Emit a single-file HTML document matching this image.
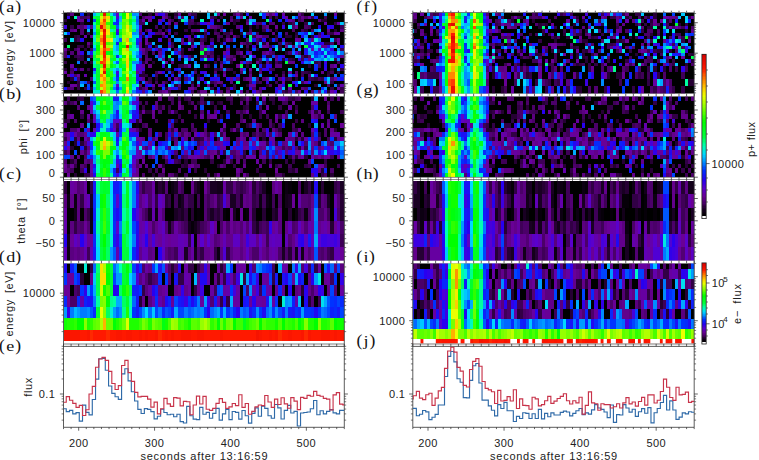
<!DOCTYPE html>
<html><head><meta charset="utf-8"><style>
html,body{margin:0;padding:0;background:#fff;}
svg{display:block;}
</style></head><body>
<svg width="759" height="460" viewBox="0 0 759 460">
<rect width="759" height="460" fill="#fff"/>
<clipPath id="ca"><rect x="63.50" y="12.50" width="280.80" height="81.20"/></clipPath>
<g clip-path="url(#ca)" shape-rendering="crispEdges">
<rect x="63.50" y="12.50" width="280.80" height="81.20" fill="#000"/>
<path fill="#260034" d="M64 19h3v3h-3zM64 68h3v3h-3zM67 12h3v4h-3zM67 48h3v3h-3zM67 81h3v3h-3zM70 77h4v4h-4zM74 35h3v7h-3zM77 68h3v3h-3zM80 22h4v3h-4zM84 48h3v3h-3zM87 12h3v4h-3zM87 55h3v3h-3zM90 42h3v3h-3zM90 61h3v3h-3zM90 87h3v3h-3zM139 74h3v3h-3zM142 35h3v3h-3zM142 61h3v3h-3zM142 74h3v3h-3zM145 45h3v3h-3zM148 12h4v4h-4zM152 61h3v3h-3zM155 77h3v4h-3zM165 68h3v3h-3zM165 87h3v3h-3zM168 16h3v3h-3zM168 25h3v4h-3zM174 12h4v4h-4zM174 84h4v3h-4zM178 19h3v3h-3zM181 51h3v4h-3zM188 25h3v4h-3zM191 32h3v3h-3zM191 55h3v3h-3zM191 81h3v3h-3zM194 16h3v3h-3zM194 22h3v3h-3zM194 68h3v3h-3zM197 74h3v3h-3zM204 38h3v4h-3zM207 55h3v3h-3zM214 16h3v3h-3zM217 55h3v3h-3zM217 68h3v3h-3zM220 16h3v3h-3zM220 42h3v3h-3zM220 84h3v3h-3zM223 38h3v4h-3zM230 61h3v3h-3zM233 19h3v6h-3zM233 71h3v3h-3zM236 48h4v3h-4zM240 32h3v3h-3zM240 55h3v3h-3zM246 48h3v3h-3zM246 64h3v4h-3zM246 84h3v3h-3zM249 25h3v4h-3zM256 25h3v4h-3zM256 48h3v3h-3zM256 58h3v3h-3zM262 42h4v3h-4zM262 64h4v4h-4zM266 55h3v3h-3zM266 84h3v3h-3zM269 38h3v4h-3zM269 55h3v3h-3zM269 61h3v3h-3zM275 29h3v3h-3zM275 35h3v3h-3zM278 45h4v6h-4zM278 61h4v3h-4zM282 58h3v3h-3zM285 35h3v3h-3zM285 51h3v4h-3zM285 90h3v4h-3zM288 22h4v3h-4zM288 35h4v3h-4zM292 58h3v3h-3zM295 32h3v3h-3zM295 77h3v4h-3zM304 29h4v3h-4zM304 55h4v3h-4zM308 64h3v4h-3zM308 71h3v3h-3zM311 35h3v3h-3zM314 77h4v4h-4zM314 84h4v3h-4zM321 19h3v3h-3zM324 19h3v3h-3zM324 42h3v3h-3zM327 42h3v3h-3zM327 71h3v3h-3zM327 90h3v4h-3zM330 68h4v3h-4zM334 29h3v3h-3zM337 71h3v3h-3zM337 84h3v3h-3zM344 29h3v3h-3z"/>
<path fill="#3c00e2" d="M64 25h3v4h-3zM74 68h3v3h-3zM139 25h3v4h-3zM155 48h3v3h-3zM162 12h3v4h-3zM162 64h3v4h-3zM168 77h3v4h-3zM171 87h3v3h-3zM188 58h3v3h-3zM194 35h3v3h-3zM200 77h4v4h-4zM204 22h3v3h-3zM207 45h3v3h-3zM210 19h4v3h-4zM214 77h3v4h-3zM226 51h4v4h-4zM240 25h3v4h-3zM252 45h4v3h-4zM262 87h4v3h-4zM275 90h3v4h-3zM282 16h3v3h-3zM282 25h3v4h-3zM282 55h3v3h-3zM282 77h3v4h-3zM292 81h3v3h-3zM298 58h3v3h-3zM324 61h3v3h-3zM324 68h3v3h-3z"/>
<path fill="#00c8ff" d="M64 32h3v3h-3zM113 71h3v3h-3zM119 55h3v3h-3zM132 84h4v3h-4zM194 64h3v4h-3zM197 35h3v3h-3zM200 29h4v3h-4zM207 16h3v3h-3zM210 90h4v4h-4zM236 90h4v4h-4zM256 68h3v3h-3zM282 48h3v3h-3zM304 38h4v4h-4zM308 22h3v3h-3zM311 12h3v4h-3zM327 77h3v4h-3zM340 22h4v3h-4z"/>
<path fill="#3f0058" d="M64 38h3v4h-3zM70 68h4v3h-4zM74 48h3v3h-3zM77 38h3v4h-3zM77 55h3v3h-3zM80 16h4v3h-4zM84 16h3v3h-3zM84 61h3v3h-3zM87 45h3v3h-3zM87 81h3v3h-3zM90 48h3v3h-3zM139 19h3v6h-3zM142 22h3v3h-3zM145 48h3v7h-3zM148 42h4v3h-4zM148 81h4v3h-4zM152 87h3v3h-3zM155 25h3v4h-3zM155 71h3v6h-3zM155 81h3v3h-3zM158 29h4v3h-4zM162 35h3v3h-3zM165 29h3v3h-3zM168 58h3v3h-3zM171 19h3v3h-3zM171 45h3v3h-3zM174 16h4v3h-4zM178 87h3v3h-3zM188 19h3v6h-3zM191 22h3v3h-3zM191 38h3v4h-3zM191 90h3v4h-3zM197 22h3v3h-3zM197 77h3v4h-3zM200 38h4v4h-4zM200 55h4v3h-4zM204 51h3v4h-3zM210 16h4v3h-4zM210 38h4v4h-4zM210 45h4v3h-4zM210 51h4v4h-4zM214 90h3v4h-3zM217 32h3v3h-3zM217 38h3v4h-3zM220 35h3v3h-3zM220 61h3v3h-3zM220 68h3v3h-3zM226 35h4v3h-4zM226 68h4v3h-4zM226 87h4v3h-4zM230 58h3v3h-3zM233 12h3v4h-3zM233 55h3v3h-3zM246 45h3v3h-3zM246 90h3v4h-3zM249 29h3v3h-3zM249 42h3v3h-3zM256 32h3v3h-3zM256 42h3v3h-3zM259 81h3v3h-3zM269 16h3v3h-3zM269 68h3v3h-3zM272 51h3v4h-3zM275 61h3v3h-3zM275 81h3v3h-3zM278 42h4v3h-4zM282 90h3v4h-3zM288 77h4v4h-4zM292 22h3v3h-3zM295 90h3v4h-3zM298 16h3v6h-3zM301 29h3v3h-3zM301 55h3v6h-3zM301 71h3v6h-3zM301 81h3v3h-3zM308 25h3v4h-3zM308 77h3v4h-3zM311 29h3v3h-3zM318 32h3v3h-3zM318 61h3v7h-3zM318 77h3v4h-3zM324 16h3v3h-3zM330 71h4v3h-4zM334 38h3v4h-3zM334 58h3v3h-3zM337 61h3v3h-3zM340 25h4v4h-4zM340 48h4v3h-4zM340 90h4v4h-4zM344 35h3v3h-3zM344 51h3v4h-3zM344 74h3v3h-3zM344 84h3v3h-3z"/>
<path fill="#690096" d="M64 48h3v3h-3zM74 29h3v3h-3zM74 84h3v3h-3zM139 29h3v3h-3zM139 42h3v3h-3zM145 38h3v7h-3zM162 32h3v3h-3zM168 22h3v3h-3zM168 45h3v3h-3zM178 12h3v4h-3zM188 35h3v7h-3zM191 45h3v3h-3zM191 87h3v3h-3zM197 29h3v3h-3zM197 84h3v3h-3zM223 12h3v4h-3zM223 51h3v4h-3zM226 38h4v4h-4zM226 55h4v3h-4zM233 58h3v3h-3zM236 12h4v4h-4zM236 64h4v4h-4zM240 68h3v3h-3zM249 77h3v4h-3zM266 12h3v4h-3zM266 42h3v3h-3zM272 12h3v4h-3zM275 25h3v4h-3zM285 16h3v3h-3zM285 45h3v3h-3zM288 71h4v3h-4zM295 25h3v4h-3zM295 74h3v3h-3zM298 38h3v4h-3zM298 90h3v4h-3zM308 58h3v3h-3zM334 32h3v3h-3zM334 77h3v4h-3zM337 38h3v7h-3zM344 64h3v4h-3zM344 90h3v4h-3z"/>
<path fill="#4b0069" d="M64 51h3v7h-3zM67 87h3v3h-3zM70 71h4v3h-4zM74 74h3v3h-3zM77 77h3v4h-3zM80 25h4v10h-4zM87 16h3v3h-3zM90 77h3v4h-3zM142 16h3v3h-3zM142 87h3v3h-3zM145 29h3v3h-3zM145 55h3v3h-3zM148 48h4v3h-4zM148 58h4v3h-4zM152 51h3v4h-3zM155 32h3v3h-3zM158 32h4v3h-4zM158 48h4v3h-4zM158 90h4v4h-4zM165 12h3v4h-3zM174 48h4v3h-4zM178 77h3v4h-3zM181 16h3v3h-3zM181 55h3v3h-3zM184 64h4v4h-4zM184 77h4v4h-4zM188 55h3v3h-3zM191 19h3v3h-3zM191 84h3v3h-3zM194 71h3v3h-3zM194 87h3v3h-3zM204 45h3v3h-3zM210 55h4v3h-4zM214 32h3v3h-3zM214 81h3v6h-3zM217 25h3v4h-3zM217 35h3v3h-3zM217 58h3v3h-3zM220 90h3v4h-3zM230 16h3v3h-3zM230 38h3v4h-3zM236 51h4v4h-4zM240 71h3v3h-3zM243 42h3v3h-3zM243 55h3v3h-3zM243 77h3v4h-3zM246 19h3v3h-3zM246 32h3v3h-3zM246 38h3v4h-3zM249 61h3v3h-3zM249 71h3v3h-3zM249 81h3v3h-3zM252 87h4v3h-4zM256 22h3v3h-3zM256 38h3v4h-3zM256 77h3v4h-3zM259 22h3v3h-3zM259 58h3v3h-3zM259 68h3v3h-3zM259 90h3v4h-3zM262 25h4v4h-4zM262 35h4v3h-4zM266 35h3v3h-3zM269 12h3v4h-3zM269 22h3v3h-3zM269 84h3v3h-3zM275 38h3v4h-3zM275 74h3v3h-3zM282 74h3v3h-3zM285 32h3v3h-3zM285 42h3v3h-3zM288 51h4v4h-4zM288 90h4v4h-4zM292 25h3v7h-3zM298 51h3v4h-3zM304 16h4v3h-4zM304 25h4v4h-4zM304 87h4v3h-4zM308 55h3v3h-3zM311 22h3v3h-3zM311 90h3v4h-3zM327 32h3v3h-3zM327 84h3v3h-3zM330 42h4v3h-4zM330 77h4v4h-4zM344 12h3v7h-3zM344 87h3v3h-3z"/>
<path fill="#320046" d="M64 61h3v3h-3zM70 25h4v4h-4zM74 55h3v3h-3zM77 35h3v3h-3zM77 45h3v3h-3zM77 58h3v3h-3zM77 81h3v9h-3zM80 45h4v3h-4zM80 55h4v6h-4zM84 87h3v3h-3zM87 32h3v3h-3zM87 68h3v3h-3zM139 87h3v3h-3zM142 71h3v3h-3zM145 74h3v3h-3zM148 77h4v4h-4zM155 45h3v3h-3zM162 25h3v4h-3zM165 81h3v3h-3zM168 68h3v3h-3zM168 90h3v4h-3zM171 42h3v3h-3zM171 71h3v3h-3zM174 32h4v3h-4zM178 64h3v4h-3zM181 48h3v3h-3zM181 64h3v4h-3zM184 29h4v3h-4zM191 12h3v4h-3zM191 42h3v3h-3zM191 48h3v3h-3zM194 12h3v4h-3zM197 90h3v4h-3zM204 32h3v6h-3zM207 64h3v4h-3zM210 81h4v3h-4zM210 87h4v3h-4zM214 29h3v3h-3zM214 61h3v3h-3zM214 68h3v3h-3zM217 74h3v3h-3zM220 25h3v4h-3zM223 32h3v3h-3zM226 32h4v3h-4zM230 29h3v3h-3zM230 68h3v3h-3zM233 84h3v6h-3zM236 19h4v3h-4zM236 35h4v3h-4zM240 12h3v4h-3zM246 42h3v3h-3zM252 35h4v3h-4zM256 81h3v3h-3zM259 38h3v4h-3zM259 61h3v3h-3zM262 29h4v3h-4zM269 45h3v3h-3zM272 68h3v3h-3zM275 16h3v3h-3zM282 22h3v3h-3zM282 71h3v3h-3zM285 77h3v4h-3zM288 42h4v3h-4zM288 58h4v3h-4zM295 35h3v3h-3zM301 12h3v4h-3zM304 22h4v3h-4zM304 71h4v3h-4zM311 16h3v3h-3zM311 77h3v4h-3zM314 61h4v3h-4zM321 77h3v4h-3zM327 74h3v3h-3zM330 32h4v3h-4zM330 81h4v3h-4zM330 87h4v3h-4zM334 22h3v3h-3zM340 68h4v3h-4zM340 87h4v3h-4zM344 19h3v3h-3z"/>
<path fill="#6600a1" d="M64 71h3v3h-3zM70 64h4v4h-4zM70 84h4v3h-4zM77 16h3v6h-3zM77 74h3v3h-3zM84 25h3v4h-3zM139 45h3v3h-3zM142 19h3v3h-3zM142 64h3v4h-3zM148 19h4v3h-4zM152 84h3v3h-3zM155 12h3v4h-3zM158 19h4v3h-4zM158 71h4v3h-4zM158 84h4v3h-4zM162 16h3v3h-3zM162 58h3v3h-3zM165 61h3v3h-3zM165 90h3v4h-3zM168 87h3v3h-3zM174 77h4v4h-4zM188 87h3v3h-3zM200 48h4v3h-4zM204 55h3v3h-3zM207 22h3v3h-3zM223 74h3v3h-3zM240 51h3v4h-3zM240 61h3v3h-3zM240 90h3v4h-3zM249 16h3v3h-3zM249 51h3v4h-3zM249 68h3v3h-3zM249 84h3v3h-3zM252 84h4v3h-4zM256 35h3v3h-3zM262 45h4v3h-4zM266 51h3v4h-3zM266 77h3v4h-3zM275 58h3v3h-3zM282 12h3v4h-3zM282 81h3v3h-3zM288 19h4v3h-4zM295 38h3v4h-3zM298 45h3v3h-3zM308 16h3v3h-3zM330 90h4v4h-4zM334 12h3v4h-3zM337 87h3v3h-3zM344 71h3v3h-3z"/>
<path fill="#1b11f5" d="M64 87h3v3h-3zM87 19h3v3h-3zM90 51h3v4h-3zM93 68h3v3h-3zM116 74h3v3h-3zM136 74h3v3h-3zM139 51h3v4h-3zM139 90h3v4h-3zM142 32h3v3h-3zM148 32h4v3h-4zM162 19h3v3h-3zM168 42h3v3h-3zM171 74h3v3h-3zM174 51h4v4h-4zM174 87h4v3h-4zM178 58h3v3h-3zM184 42h4v3h-4zM184 55h4v3h-4zM207 32h3v3h-3zM223 42h3v3h-3zM223 84h3v3h-3zM233 77h3v4h-3zM246 12h3v4h-3zM252 38h4v4h-4zM285 19h3v3h-3zM304 42h4v3h-4zM304 51h4v4h-4zM324 35h3v3h-3zM324 90h3v4h-3zM327 25h3v4h-3zM327 51h3v4h-3zM334 51h3v4h-3zM340 77h4v4h-4z"/>
<path fill="#3200e9" d="M67 16h3v3h-3zM70 74h4v3h-4zM80 51h4v4h-4zM184 35h4v3h-4zM200 71h4v3h-4zM207 58h3v3h-3zM210 42h4v3h-4zM230 87h3v3h-3zM249 87h3v3h-3zM252 90h4v4h-4zM262 68h4v3h-4zM266 81h3v3h-3zM301 61h3v3h-3zM311 58h3v3h-3zM321 35h3v3h-3zM321 42h3v3h-3zM330 25h4v4h-4zM330 48h4v3h-4z"/>
<path fill="#072afc" d="M67 32h3v3h-3zM74 77h3v4h-3zM80 12h4v4h-4zM116 55h3v3h-3zM136 38h3v4h-3zM184 22h4v3h-4zM194 45h3v3h-3zM200 35h4v3h-4zM210 48h4v3h-4zM223 61h3v3h-3zM262 55h4v3h-4zM272 38h3v4h-3zM272 77h3v4h-3zM304 58h4v3h-4zM314 64h4v4h-4zM321 87h3v3h-3zM334 16h3v3h-3z"/>
<path fill="#00ff64" d="M67 45h3v3h-3zM93 58h3v3h-3zM129 38h3v4h-3zM132 19h4v3h-4zM132 29h4v3h-4zM168 55h3v3h-3z"/>
<path fill="#1419f8" d="M67 55h3v3h-3zM116 19h3v3h-3zM116 42h3v3h-3zM136 42h3v3h-3zM148 84h4v3h-4zM171 81h3v3h-3zM191 74h3v3h-3zM210 22h4v3h-4zM210 58h4v3h-4zM217 77h3v4h-3zM246 51h3v4h-3zM252 81h4v3h-4zM259 64h3v4h-3zM266 29h3v3h-3zM266 58h3v3h-3zM304 32h4v3h-4zM308 38h3v4h-3zM308 81h3v3h-3zM314 51h4v4h-4zM321 51h3v4h-3z"/>
<path fill="#62008b" d="M67 74h3v3h-3zM77 51h3v4h-3zM80 19h4v3h-4zM87 42h3v3h-3zM90 35h3v3h-3zM136 71h3v3h-3zM142 48h3v3h-3zM142 77h3v4h-3zM145 16h3v3h-3zM145 81h3v3h-3zM145 87h3v3h-3zM148 16h4v3h-4zM148 64h4v4h-4zM158 51h4v4h-4zM162 90h3v4h-3zM168 32h3v3h-3zM168 38h3v4h-3zM171 61h3v3h-3zM174 22h4v3h-4zM178 51h3v4h-3zM188 48h3v3h-3zM200 90h4v4h-4zM204 29h3v3h-3zM204 90h3v4h-3zM207 84h3v3h-3zM210 25h4v4h-4zM217 12h3v4h-3zM217 81h3v3h-3zM220 29h3v3h-3zM220 64h3v4h-3zM226 22h4v3h-4zM226 48h4v3h-4zM230 77h3v4h-3zM233 35h3v3h-3zM240 16h3v3h-3zM240 42h3v3h-3zM246 22h3v3h-3zM246 77h3v4h-3zM249 74h3v3h-3zM256 61h3v3h-3zM266 25h3v4h-3zM266 45h3v3h-3zM272 32h3v3h-3zM288 61h4v3h-4zM292 61h3v3h-3zM298 12h3v4h-3zM301 16h3v3h-3zM311 38h3v4h-3zM321 45h3v3h-3zM321 71h3v3h-3zM324 45h3v3h-3zM324 81h3v3h-3zM327 29h3v3h-3zM340 55h4v3h-4z"/>
<path fill="#5a0080" d="M70 12h4v4h-4zM70 29h4v3h-4zM77 25h3v4h-3zM77 48h3v3h-3zM80 68h4v3h-4zM90 25h3v4h-3zM142 51h3v4h-3zM142 90h3v4h-3zM145 61h3v3h-3zM165 16h3v3h-3zM168 19h3v3h-3zM178 71h3v3h-3zM178 84h3v3h-3zM181 38h3v7h-3zM188 12h3v4h-3zM191 29h3v3h-3zM194 29h3v3h-3zM200 42h4v3h-4zM204 64h3v4h-3zM207 51h3v4h-3zM214 25h3v4h-3zM217 19h3v3h-3zM220 81h3v3h-3zM223 71h3v3h-3zM226 90h4v4h-4zM230 19h3v3h-3zM230 32h3v3h-3zM230 81h3v3h-3zM236 25h4v4h-4zM236 77h4v4h-4zM246 61h3v3h-3zM249 32h3v3h-3zM256 90h3v4h-3zM259 71h3v3h-3zM262 51h4v4h-4zM266 61h3v3h-3zM275 55h3v3h-3zM275 64h3v4h-3zM278 64h4v4h-4zM278 77h4v4h-4zM292 19h3v3h-3zM292 45h3v3h-3zM301 87h3v3h-3zM318 19h3v3h-3zM318 35h3v3h-3zM318 90h3v4h-3zM330 64h4v4h-4zM340 29h4v3h-4z"/>
<path fill="#00dff0" d="M70 38h4v4h-4zM93 29h3v3h-3zM93 77h3v4h-3zM113 45h3v3h-3zM116 51h3v4h-3zM132 35h4v3h-4zM145 22h3v3h-3zM184 61h4v3h-4zM188 42h3v3h-3zM204 87h3v3h-3zM207 81h3v3h-3zM214 12h3v4h-3zM243 16h3v3h-3zM249 22h3v3h-3zM288 25h4v4h-4zM301 42h3v3h-3zM314 45h4v3h-4z"/>
<path fill="#520074" d="M70 51h4v4h-4zM70 87h4v3h-4zM90 55h3v3h-3zM139 12h3v4h-3zM139 32h3v3h-3zM139 58h3v3h-3zM139 84h3v3h-3zM145 58h3v3h-3zM162 81h3v3h-3zM214 71h3v3h-3zM226 58h4v3h-4zM230 55h3v3h-3zM259 87h3v3h-3zM262 77h4v4h-4zM269 29h3v3h-3zM269 51h3v4h-3zM272 22h3v3h-3zM295 71h3v3h-3zM301 19h3v3h-3zM308 74h3v3h-3z"/>
<path fill="#00ffb4" d="M74 16h3v3h-3zM93 35h3v3h-3zM113 16h3v3h-3zM113 90h3v4h-3zM132 25h4v4h-4zM132 38h4v4h-4zM200 19h4v3h-4zM252 64h4v4h-4z"/>
<path fill="#007aff" d="M77 61h3v3h-3zM87 51h3v4h-3zM93 48h3v3h-3zM113 87h3v3h-3zM132 90h4v4h-4zM136 45h3v3h-3zM178 81h3v3h-3zM188 74h3v3h-3zM194 61h3v3h-3zM207 74h3v3h-3zM223 29h3v3h-3zM223 68h3v3h-3zM259 74h3v3h-3zM288 74h4v3h-4zM304 35h4v3h-4zM304 61h4v3h-4zM318 38h3v4h-3zM321 58h3v3h-3zM330 55h4v3h-4zM334 84h3v3h-3zM340 51h4v4h-4zM344 38h3v4h-3z"/>
<path fill="#2108f2" d="M80 38h4v4h-4zM116 32h3v3h-3zM116 87h3v3h-3zM136 77h3v4h-3zM168 29h3v3h-3zM174 68h4v3h-4zM188 77h3v4h-3zM188 90h3v4h-3zM200 22h4v3h-4zM210 77h4v4h-4zM223 55h3v3h-3zM226 77h4v4h-4zM262 38h4v4h-4zM266 64h3v4h-3zM269 19h3v3h-3zM269 71h3v3h-3zM275 87h3v3h-3zM282 84h3v3h-3zM295 84h3v3h-3zM301 35h3v3h-3zM304 48h4v3h-4zM304 90h4v4h-4zM308 45h3v3h-3zM314 74h4v3h-4zM324 64h3v4h-3zM327 35h3v3h-3zM337 55h3v3h-3zM340 45h4v3h-4zM344 81h3v3h-3z"/>
<path fill="#0068ff" d="M80 81h4v3h-4zM113 12h3v4h-3zM116 90h3v4h-3zM136 16h3v3h-3zM136 22h3v3h-3zM136 55h3v3h-3zM142 81h3v3h-3zM155 55h3v3h-3zM174 25h4v4h-4zM178 55h3v3h-3zM178 74h3v3h-3zM207 48h3v3h-3zM223 58h3v3h-3zM226 61h4v3h-4zM236 16h4v3h-4zM292 51h3v4h-3zM298 42h3v3h-3zM308 61h3v3h-3zM311 32h3v3h-3zM318 55h3v3h-3zM327 48h3v3h-3zM334 74h3v3h-3z"/>
<path fill="#00b9ff" d="M80 84h4v3h-4zM87 29h3v3h-3zM93 12h3v4h-3zM93 25h3v4h-3zM113 77h3v4h-3zM113 84h3v3h-3zM116 35h3v7h-3zM119 19h3v3h-3zM171 51h3v4h-3zM184 19h4v3h-4zM197 42h3v3h-3zM197 64h3v4h-3zM207 12h3v4h-3zM214 45h3v3h-3zM220 45h3v3h-3zM223 19h3v3h-3zM249 19h3v3h-3zM249 55h3v3h-3zM259 42h3v3h-3zM275 45h3v3h-3zM282 87h3v3h-3zM292 16h3v3h-3zM301 68h3v3h-3zM308 48h3v3h-3zM318 29h3v3h-3zM327 81h3v3h-3z"/>
<path fill="#6300ac" d="M84 35h3v3h-3zM84 74h3v3h-3zM148 29h4v3h-4zM158 55h4v3h-4zM188 64h3v4h-3zM200 45h4v3h-4zM259 35h3v3h-3zM278 84h4v6h-4zM288 87h4v3h-4zM304 81h4v3h-4zM311 48h3v3h-3zM324 22h3v3h-3zM334 64h3v4h-3zM337 22h3v3h-3zM337 32h3v3h-3zM340 84h4v3h-4zM344 58h3v3h-3z"/>
<path fill="#0044ff" d="M84 81h3v3h-3zM87 25h3v4h-3zM87 84h3v3h-3zM93 19h3v3h-3zM136 81h3v3h-3zM145 35h3v3h-3zM152 48h3v3h-3zM162 87h3v3h-3zM168 71h3v3h-3zM178 48h3v3h-3zM204 74h3v3h-3zM214 74h3v3h-3zM223 22h3v3h-3zM240 29h3v3h-3zM243 68h3v3h-3zM252 48h4v3h-4zM272 55h3v3h-3zM278 32h4v3h-4zM278 90h4v4h-4zM292 48h3v3h-3zM292 90h3v4h-3zM295 16h3v3h-3zM301 32h3v3h-3zM308 87h3v3h-3zM318 51h3v4h-3zM324 48h3v3h-3zM324 77h3v4h-3zM330 51h4v4h-4zM334 55h3v3h-3zM344 45h3v3h-3zM344 55h3v3h-3z"/>
<path fill="#00aaff" d="M87 58h3v3h-3zM93 87h3v3h-3zM119 16h3v3h-3zM136 25h3v4h-3zM152 42h3v3h-3zM168 48h3v3h-3zM174 81h4v3h-4zM178 38h3v4h-3zM184 58h4v3h-4zM194 42h3v3h-3zM197 81h3v3h-3zM207 87h3v3h-3zM243 32h3v3h-3zM243 71h3v3h-3zM246 58h3v3h-3zM252 19h4v3h-4zM269 58h3v3h-3zM288 45h4v3h-4zM295 55h3v3h-3zM298 48h3v3h-3zM314 48h4v3h-4zM314 58h4v3h-4zM321 55h3v3h-3zM321 90h3v4h-3zM330 38h4v4h-4z"/>
<path fill="#0032ff" d="M87 87h3v3h-3zM113 22h3v3h-3zM116 77h3v4h-3zM139 55h3v3h-3zM152 74h3v3h-3zM178 68h3v3h-3zM184 81h4v3h-4zM191 16h3v3h-3zM226 45h4v3h-4zM295 64h3v4h-3zM295 81h3v3h-3zM314 42h4v3h-4zM314 55h4v3h-4zM340 74h4v3h-4z"/>
<path fill="#00ff50" d="M93 16h3v3h-3zM96 64h4v4h-4zM113 55h3v3h-3zM113 81h3v3h-3zM119 35h3v3h-3zM132 58h4v3h-4zM240 64h3v4h-3z"/>
<path fill="#00ffa0" d="M93 22h3v3h-3zM93 74h3v3h-3zM96 12h4v4h-4zM110 29h3v3h-3zM110 90h3v4h-3zM119 81h3v3h-3zM129 71h3v3h-3zM132 45h4v6h-4z"/>
<path fill="#008cff" d="M93 32h3v3h-3zM116 68h3v3h-3zM116 81h3v3h-3zM119 87h3v3h-3zM132 12h4v4h-4zM132 32h4v3h-4zM132 61h4v3h-4zM136 29h3v3h-3zM136 61h3v3h-3zM148 90h4v4h-4zM158 45h4v3h-4zM158 58h4v3h-4zM171 35h3v3h-3zM171 58h3v3h-3zM171 84h3v3h-3zM188 81h3v3h-3zM252 77h4v4h-4zM269 77h3v4h-3zM298 55h3v3h-3zM311 51h3v4h-3zM314 29h4v3h-4zM324 87h3v3h-3zM337 48h3v3h-3zM337 58h3v3h-3zM337 68h3v3h-3z"/>
<path fill="#00e7e1" d="M93 38h3v4h-3zM113 19h3v3h-3zM132 87h4v3h-4zM136 35h3v3h-3zM136 48h3v3h-3zM275 48h3v3h-3zM308 32h3v3h-3zM314 38h4v4h-4zM324 51h3v4h-3zM334 45h3v3h-3zM337 51h3v4h-3z"/>
<path fill="#00ff8c" d="M93 42h3v3h-3zM93 64h3v4h-3zM113 42h3v3h-3zM119 22h3v3h-3zM129 48h3v3h-3zM132 74h4v3h-4zM181 19h3v3h-3zM204 58h3v3h-3zM236 81h4v3h-4zM249 35h3v7h-3z"/>
<path fill="#00d7ff" d="M93 45h3v3h-3zM113 48h3v3h-3zM113 61h3v3h-3zM113 68h3v3h-3zM132 51h4v4h-4zM132 64h4v7h-4zM136 58h3v3h-3zM162 61h3v3h-3zM168 64h3v4h-3zM168 84h3v3h-3zM178 45h3v3h-3zM184 16h4v3h-4zM240 87h3v3h-3zM259 12h3v4h-3zM288 68h4v3h-4zM295 42h3v3h-3zM298 81h3v3h-3zM311 42h3v3h-3zM311 55h3v3h-3zM311 74h3v3h-3zM321 48h3v3h-3zM327 55h3v3h-3z"/>
<path fill="#00ff78" d="M93 51h3v4h-3zM110 68h3v3h-3zM113 29h3v3h-3zM113 74h3v3h-3zM119 12h3v4h-3zM119 90h3v4h-3zM129 90h3v4h-3zM132 42h4v3h-4zM266 19h3v3h-3z"/>
<path fill="#00ff2f" d="M93 55h3v3h-3zM96 58h4v3h-4zM96 84h4v3h-4zM110 16h3v9h-3zM110 58h3v3h-3zM119 61h3v3h-3zM122 84h4v3h-4zM129 61h3v3h-3zM132 77h4v4h-4z"/>
<path fill="#00efd2" d="M93 61h3v3h-3zM93 90h3v4h-3zM96 90h4v4h-4zM110 12h3v4h-3zM113 38h3v4h-3zM119 25h3v4h-3zM119 68h3v9h-3zM119 84h3v3h-3zM132 16h4v3h-4zM132 22h4v3h-4zM136 84h3v3h-3zM324 58h3v3h-3zM330 58h4v3h-4z"/>
<path fill="#009bff" d="M93 71h3v3h-3zM116 45h3v6h-3zM136 12h3v4h-3zM136 32h3v3h-3zM136 51h3v4h-3zM174 38h4v4h-4zM178 16h3v3h-3zM181 71h3v3h-3zM191 58h3v3h-3zM191 77h3v4h-3zM194 55h3v3h-3zM240 45h3v3h-3zM249 58h3v3h-3zM259 45h3v3h-3zM262 58h4v3h-4zM295 22h3v3h-3zM295 45h3v3h-3zM308 51h3v4h-3zM318 45h3v3h-3zM318 58h3v3h-3zM318 84h3v3h-3zM324 12h3v4h-3zM327 58h3v3h-3zM330 45h4v3h-4z"/>
<path fill="#0056ff" d="M93 81h3v3h-3zM116 25h3v4h-3zM116 61h3v3h-3zM119 38h3v4h-3zM136 19h3v3h-3zM162 55h3v3h-3zM165 74h3v3h-3zM191 71h3v3h-3zM214 64h3v4h-3zM233 38h3v4h-3zM233 45h3v3h-3zM252 32h4v3h-4zM282 42h3v3h-3zM298 32h3v3h-3zM314 90h4v4h-4z"/>
<path fill="#00f7c3" d="M93 84h3v3h-3zM113 51h3v4h-3zM116 58h3v3h-3zM116 64h3v4h-3zM132 55h4v3h-4zM311 61h3v3h-3z"/>
<path fill="#00ff35" d="M96 16h4v3h-4zM96 71h4v3h-4zM96 77h4v7h-4zM119 29h3v3h-3zM132 71h4v3h-4zM200 51h4v4h-4zM204 48h3v3h-3zM304 45h4v3h-4z"/>
<path fill="#00ff0d" d="M96 19h4v6h-4zM110 51h3v4h-3zM110 77h3v4h-3zM119 42h3v6h-3zM122 90h4v4h-4zM129 84h3v3h-3z"/>
<path fill="#5aff00" d="M96 25h4v4h-4zM96 61h4v3h-4zM110 42h3v3h-3zM110 84h3v3h-3zM122 25h4v4h-4z"/>
<path fill="#1eff00" d="M96 29h4v3h-4zM106 68h4v3h-4zM129 12h3v4h-3z"/>
<path fill="#00ff00" d="M96 32h4v3h-4zM96 45h4v6h-4zM110 64h3v4h-3zM119 48h3v3h-3zM119 58h3v3h-3zM122 12h4v4h-4zM122 45h4v3h-4zM122 68h4v3h-4zM129 58h3v3h-3z"/>
<path fill="#4bff00" d="M96 35h4v3h-4zM106 12h4v4h-4zM110 32h3v3h-3zM110 48h3v3h-3zM122 22h4v3h-4zM129 16h3v3h-3zM129 51h3v4h-3z"/>
<path fill="#78ff00" d="M96 38h4v4h-4zM106 77h4v4h-4zM106 84h4v3h-4zM122 29h4v3h-4zM126 19h3v3h-3zM129 42h3v3h-3z"/>
<path fill="#00ff3c" d="M96 42h4v3h-4zM96 68h4v3h-4zM113 64h3v4h-3zM122 64h4v4h-4zM132 81h4v3h-4zM285 61h3v3h-3zM288 84h4v3h-4z"/>
<path fill="#2dff00" d="M96 51h4v4h-4zM106 22h4v3h-4zM110 61h3v3h-3zM110 71h3v6h-3z"/>
<path fill="#86ff00" d="M96 55h4v3h-4zM106 64h4v4h-4zM122 58h4v3h-4zM126 81h3v6h-3z"/>
<path fill="#00ff28" d="M96 74h4v3h-4zM96 87h4v3h-4zM106 71h4v3h-4zM110 87h3v3h-3zM113 35h3v3h-3zM122 87h4v3h-4z"/>
<path fill="#69ff00" d="M100 12h3v4h-3zM100 64h3v4h-3zM106 87h4v3h-4zM110 35h3v3h-3zM122 19h4v3h-4zM122 32h4v3h-4zM122 42h4v3h-4zM122 71h4v3h-4zM122 81h4v3h-4zM129 25h3v7h-3z"/>
<path fill="#ceff00" d="M100 16h3v3h-3zM100 58h3v3h-3zM129 32h3v3h-3z"/>
<path fill="#ffcd00" d="M100 19h3v3h-3zM100 77h3v4h-3zM103 74h3v3h-3zM106 58h4v3h-4zM126 58h3v10h-3zM126 90h3v4h-3z"/>
<path fill="#ffa300" d="M100 22h3v3h-3zM100 29h3v3h-3zM100 35h3v3h-3zM100 42h3v3h-3zM103 87h3v3h-3z"/>
<path fill="#e40800" d="M100 25h3v4h-3zM103 29h3v3h-3zM103 38h3v10h-3zM103 64h3v4h-3zM103 71h3v3h-3z"/>
<path fill="#eff500" d="M100 32h3v3h-3zM110 38h3v4h-3zM126 12h3v7h-3zM126 42h3v3h-3zM126 74h3v3h-3zM126 87h3v3h-3z"/>
<path fill="#ff6800" d="M100 38h3v4h-3z"/>
<path fill="#ddff00" d="M100 45h3v3h-3zM100 71h3v3h-3zM126 29h3v3h-3zM126 68h3v3h-3z"/>
<path fill="#ffbf00" d="M100 48h3v3h-3z"/>
<path fill="#ffb100" d="M100 51h3v4h-3zM103 81h3v6h-3zM126 38h3v4h-3zM126 48h3v3h-3z"/>
<path fill="#c0ff00" d="M100 55h3v3h-3zM100 87h3v3h-3zM106 19h4v3h-4zM106 55h4v3h-4zM106 61h4v3h-4zM122 51h4v4h-4zM126 51h3v4h-3zM129 35h3v3h-3z"/>
<path fill="#ff3900" d="M100 61h3v3h-3zM100 90h3v4h-3zM103 19h3v3h-3zM103 48h3v3h-3zM103 58h3v3h-3z"/>
<path fill="#f3eb00" d="M100 68h3v3h-3zM106 32h4v3h-4zM126 55h3v3h-3z"/>
<path fill="#ff7800" d="M100 74h3v3h-3zM103 22h3v3h-3zM126 77h3v4h-3z"/>
<path fill="#a3ff00" d="M100 81h3v3h-3zM106 45h4v3h-4zM122 35h4v7h-4zM126 35h3v3h-3zM126 71h3v3h-3z"/>
<path fill="#ff8600" d="M100 84h3v3h-3zM103 25h3v4h-3zM103 77h3v4h-3zM106 48h4v3h-4z"/>
<path fill="#ed0e00" d="M103 12h3v4h-3z"/>
<path fill="#ff9400" d="M103 16h3v3h-3zM103 90h3v4h-3z"/>
<path fill="#f61300" d="M103 32h3v3h-3zM103 55h3v3h-3z"/>
<path fill="#e90b00" d="M103 35h3v3h-3zM126 45h3v3h-3z"/>
<path fill="#ff1900" d="M103 51h3v4h-3z"/>
<path fill="#ff4800" d="M103 61h3v3h-3z"/>
<path fill="#ff5800" d="M103 68h3v3h-3z"/>
<path fill="#fbd700" d="M106 16h4v3h-4zM106 38h4v4h-4z"/>
<path fill="#95ff00" d="M106 25h4v4h-4zM106 35h4v3h-4zM106 90h4v4h-4zM126 22h3v3h-3z"/>
<path fill="#f7e100" d="M106 29h4v3h-4zM126 25h3v4h-3z"/>
<path fill="#3cff00" d="M106 42h4v3h-4zM106 81h4v3h-4zM110 55h3v3h-3zM122 61h4v3h-4z"/>
<path fill="#00ff1b" d="M106 51h4v4h-4zM113 58h3v3h-3zM119 51h3v4h-3zM129 19h3v3h-3zM129 87h3v3h-3z"/>
<path fill="#00ff07" d="M106 74h4v3h-4zM122 55h4v3h-4z"/>
<path fill="#00ff21" d="M110 25h3v4h-3zM113 25h3v4h-3zM119 77h3v4h-3zM122 74h4v7h-4zM129 22h3v3h-3zM129 64h3v7h-3zM129 74h3v3h-3zM129 81h3v3h-3z"/>
<path fill="#b1ff00" d="M110 45h3v3h-3zM122 48h4v3h-4zM126 32h3v3h-3z"/>
<path fill="#0fff00" d="M110 81h3v3h-3zM122 16h4v3h-4zM129 55h3v3h-3z"/>
<path fill="#00ff14" d="M113 32h3v3h-3zM119 32h3v3h-3zM119 64h3v4h-3zM129 45h3v3h-3zM129 77h3v4h-3z"/>
<path fill="#5d00c2" d="M116 12h3v4h-3zM139 48h3v3h-3z"/>
<path fill="#5000d4" d="M116 16h3v3h-3zM116 29h3v3h-3zM139 38h3v4h-3zM139 64h3v4h-3zM139 77h3v4h-3z"/>
<path fill="#0d21fa" d="M116 22h3v3h-3zM136 90h3v4h-3zM139 61h3v3h-3zM145 90h3v4h-3zM158 22h4v3h-4zM162 48h3v7h-3zM165 22h3v3h-3zM165 48h3v3h-3zM184 74h4v3h-4zM184 90h4v4h-4zM200 58h4v3h-4zM207 25h3v4h-3zM217 87h3v3h-3zM236 74h4v3h-4zM243 35h3v3h-3zM243 61h3v3h-3zM262 12h4v7h-4zM262 22h4v3h-4zM272 45h3v3h-3zM278 19h4v3h-4zM278 35h4v3h-4zM278 55h4v6h-4zM285 58h3v3h-3zM292 74h3v3h-3zM301 77h3v4h-3zM308 42h3v3h-3zM311 45h3v3h-3zM314 16h4v3h-4zM314 68h4v3h-4zM337 77h3v4h-3z"/>
<path fill="#4600db" d="M116 71h3v3h-3zM136 64h3v7h-3zM139 71h3v3h-3zM142 68h3v3h-3zM148 35h4v3h-4zM158 38h4v4h-4zM204 71h3v3h-3zM252 55h4v3h-4zM269 48h3v3h-3zM282 38h3v4h-3zM295 51h3v4h-3zM318 48h3v3h-3zM334 90h3v4h-3z"/>
<path fill="#5a00cd" d="M116 84h3v3h-3z"/>
<path fill="#2800f0" d="M136 87h3v3h-3zM139 35h3v3h-3zM145 84h3v3h-3zM148 45h4v3h-4zM152 16h3v3h-3zM152 32h3v3h-3zM158 12h4v4h-4zM162 71h3v3h-3zM162 84h3v3h-3zM165 35h3v3h-3zM204 81h3v3h-3zM217 90h3v4h-3zM252 22h4v3h-4zM266 68h3v3h-3zM269 64h3v4h-3zM275 12h3v4h-3zM314 35h4v3h-4zM318 25h3v4h-3zM318 42h3v3h-3zM321 32h3v3h-3zM324 55h3v3h-3zM327 45h3v3h-3zM340 64h4v4h-4zM344 22h3v3h-3z"/>
<path fill="#6000b7" d="M139 68h3v3h-3z"/>
<path fill="#13001a" d="M139 81h3v3h-3z"/>
</g>
<clipPath id="cf"><rect x="412.80" y="12.50" width="281.40" height="81.20"/></clipPath>
<g clip-path="url(#cf)" shape-rendering="crispEdges">
<rect x="412.80" y="12.50" width="281.40" height="81.20" fill="#000"/>
<path fill="#690096" d="M411 12h3v4h-3zM414 86h3v8h-3zM420 63h4v3h-4zM430 29h3v4h-3zM436 39h3v4h-3zM439 86h3v8h-3zM486 72h3v7h-3zM492 53h3v3h-3zM501 33h3v3h-3zM501 72h3v7h-3zM504 79h3v7h-3zM507 26h4v3h-4zM514 72h3v7h-3zM538 72h4v7h-4zM551 23h3v3h-3zM551 59h3v4h-3zM554 43h3v3h-3zM579 36h3v3h-3zM588 33h3v3h-3zM591 66h3v6h-3zM619 49h3v4h-3zM622 72h3v7h-3zM625 39h4v4h-4zM625 63h4v3h-4zM641 63h3v3h-3zM641 86h3v8h-3zM653 19h4v4h-4zM660 19h3v4h-3zM663 63h3v3h-3zM691 16h3v3h-3z"/>
<path fill="#520074" d="M411 16h3v3h-3zM414 56h3v3h-3zM417 46h3v3h-3zM420 53h4v3h-4zM436 49h3v4h-3zM436 59h3v4h-3zM486 12h3v4h-3zM486 79h3v7h-3zM492 43h3v3h-3zM514 26h3v3h-3zM523 19h3v4h-3zM523 36h3v3h-3zM535 23h3v3h-3zM535 49h3v4h-3zM542 79h3v7h-3zM560 66h3v6h-3zM570 53h3v3h-3zM594 86h4v8h-4zM598 49h3v4h-3zM619 16h3v3h-3zM622 66h3v6h-3zM625 46h4v3h-4zM632 46h3v3h-3zM666 56h3v3h-3z"/>
<path fill="#4b0069" d="M411 19h3v4h-3zM411 36h3v3h-3zM411 72h3v7h-3zM414 53h3v3h-3zM414 79h3v7h-3zM417 23h3v3h-3zM420 72h4v7h-4zM424 39h3v4h-3zM430 12h3v4h-3zM430 59h3v4h-3zM430 66h3v6h-3zM436 29h3v4h-3zM439 53h3v3h-3zM486 66h3v6h-3zM489 63h3v3h-3zM495 26h3v3h-3zM498 12h3v4h-3zM498 19h3v4h-3zM498 29h3v4h-3zM501 36h3v3h-3zM507 19h4v4h-4zM507 36h4v3h-4zM511 53h3v3h-3zM514 23h3v3h-3zM514 39h3v4h-3zM514 63h3v3h-3zM520 33h3v3h-3zM523 56h3v3h-3zM523 72h3v7h-3zM526 86h3v8h-3zM532 12h3v7h-3zM532 86h3v8h-3zM535 16h3v3h-3zM538 63h4v3h-4zM545 46h3v3h-3zM551 72h3v7h-3zM554 16h3v3h-3zM557 43h3v3h-3zM560 43h3v3h-3zM563 12h3v4h-3zM573 29h3v7h-3zM576 19h3v4h-3zM579 29h3v4h-3zM585 33h3v3h-3zM585 43h3v3h-3zM588 36h3v3h-3zM588 86h3v8h-3zM591 43h3v3h-3zM598 29h3v4h-3zM601 39h3v4h-3zM601 66h3v6h-3zM607 56h3v3h-3zM607 66h3v6h-3zM610 36h3v3h-3zM625 29h4v4h-4zM629 16h3v3h-3zM635 72h3v7h-3zM638 16h3v3h-3zM638 66h3v6h-3zM644 16h3v3h-3zM644 33h3v3h-3zM644 59h3v4h-3zM647 29h3v7h-3zM647 56h3v3h-3zM650 29h3v4h-3zM650 86h3v8h-3zM657 23h3v3h-3zM657 29h3v4h-3zM660 86h3v8h-3zM663 72h3v14h-3zM669 19h3v4h-3zM669 63h3v9h-3zM669 79h3v15h-3zM672 26h3v3h-3zM675 49h3v4h-3zM691 26h3v3h-3zM691 63h3v3h-3zM694 59h3v4h-3z"/>
<path fill="#00c8ff" d="M411 29h3v4h-3zM420 79h4v7h-4zM436 23h3v3h-3zM439 49h3v4h-3zM442 16h3v3h-3zM442 29h3v4h-3zM483 29h3v7h-3zM483 49h3v4h-3zM483 66h3v6h-3zM495 66h3v6h-3zM526 16h3v3h-3zM529 46h3v3h-3zM538 79h4v7h-4zM566 23h4v3h-4zM585 46h3v3h-3zM604 23h3v3h-3zM641 12h3v4h-3zM675 63h3v3h-3zM681 12h4v4h-4zM694 46h3v3h-3z"/>
<path fill="#072afc" d="M411 43h3v3h-3zM414 39h3v4h-3zM417 56h3v3h-3zM439 23h3v3h-3zM464 43h3v3h-3zM464 49h3v4h-3zM467 63h3v3h-3zM483 86h3v8h-3zM517 46h3v3h-3zM548 86h3v8h-3zM557 63h3v3h-3zM576 39h3v4h-3zM579 72h3v7h-3zM601 56h3v3h-3zM604 26h3v3h-3zM663 56h3v3h-3zM688 33h3v3h-3zM694 36h3v3h-3z"/>
<path fill="#009bff" d="M411 53h3v3h-3zM427 12h3v4h-3zM439 43h3v3h-3zM464 53h3v3h-3zM464 66h3v6h-3zM464 79h3v7h-3zM467 16h3v3h-3zM467 29h3v4h-3zM467 72h3v7h-3zM467 86h3v8h-3zM483 56h3v3h-3zM511 39h3v4h-3zM517 29h3v4h-3zM523 26h3v3h-3zM523 86h3v8h-3zM532 46h3v3h-3zM610 33h3v3h-3zM650 46h3v3h-3zM650 63h3v3h-3zM663 59h3v4h-3zM681 43h4v3h-4zM685 59h3v4h-3zM694 43h3v3h-3z"/>
<path fill="#320046" d="M411 59h3v4h-3zM414 19h3v4h-3zM414 29h3v4h-3zM414 43h3v3h-3zM414 59h3v4h-3zM417 26h3v3h-3zM420 43h4v3h-4zM420 49h4v4h-4zM424 53h3v3h-3zM427 49h3v4h-3zM427 72h3v7h-3zM430 49h3v4h-3zM430 72h3v7h-3zM433 12h3v4h-3zM433 63h3v3h-3zM433 72h3v7h-3zM433 86h3v8h-3zM436 33h3v3h-3zM436 56h3v3h-3zM436 72h3v7h-3zM436 86h3v8h-3zM489 33h3v3h-3zM492 66h3v6h-3zM495 23h3v3h-3zM495 49h3v4h-3zM498 43h3v3h-3zM501 56h3v3h-3zM507 43h4v3h-4zM517 63h3v3h-3zM520 66h3v6h-3zM529 33h3v3h-3zM529 72h3v7h-3zM535 12h3v4h-3zM535 79h3v7h-3zM538 39h4v4h-4zM542 23h3v3h-3zM542 29h3v4h-3zM545 86h3v8h-3zM548 63h3v3h-3zM548 79h3v7h-3zM554 26h3v3h-3zM557 79h3v7h-3zM560 12h3v4h-3zM563 29h3v4h-3zM563 72h3v7h-3zM566 86h4v8h-4zM576 33h3v3h-3zM576 46h3v3h-3zM579 33h3v3h-3zM579 63h3v3h-3zM582 49h3v4h-3zM585 29h3v4h-3zM585 56h3v3h-3zM588 63h3v9h-3zM591 53h3v3h-3zM594 36h4v3h-4zM594 63h4v3h-4zM601 23h3v3h-3zM601 33h3v3h-3zM604 86h3v8h-3zM607 43h3v3h-3zM607 59h3v4h-3zM610 16h3v3h-3zM610 43h3v3h-3zM613 16h3v3h-3zM616 26h3v3h-3zM622 12h3v4h-3zM622 39h3v4h-3zM625 59h4v4h-4zM629 49h3v4h-3zM632 86h3v8h-3zM635 12h3v4h-3zM635 23h3v3h-3zM635 36h3v3h-3zM638 12h3v4h-3zM638 72h3v7h-3zM641 29h3v4h-3zM641 53h3v3h-3zM644 23h3v3h-3zM647 66h3v6h-3zM647 79h3v7h-3zM650 23h3v3h-3zM650 56h3v3h-3zM653 49h4v4h-4zM653 86h4v8h-4zM657 72h3v7h-3zM672 59h3v7h-3zM672 86h3v8h-3zM675 66h3v6h-3zM681 36h4v7h-4zM681 86h4v8h-4zM685 23h3v3h-3zM688 16h3v3h-3zM688 53h3v3h-3zM694 19h3v4h-3z"/>
<path fill="#62008b" d="M411 79h3v7h-3zM414 16h3v3h-3zM417 53h3v3h-3zM420 33h4v3h-4zM420 46h4v3h-4zM427 53h3v3h-3zM430 26h3v3h-3zM489 29h3v4h-3zM489 56h3v3h-3zM492 36h3v3h-3zM492 46h3v3h-3zM504 66h3v13h-3zM507 23h4v3h-4zM507 33h4v3h-4zM507 63h4v3h-4zM517 23h3v3h-3zM517 49h3v4h-3zM529 43h3v3h-3zM542 46h3v3h-3zM542 53h3v3h-3zM548 43h3v3h-3zM551 46h3v3h-3zM551 86h3v8h-3zM573 72h3v7h-3zM610 66h3v6h-3zM613 36h3v3h-3zM616 16h3v7h-3zM619 29h3v4h-3zM622 23h3v3h-3zM625 12h4v4h-4zM632 63h3v3h-3zM641 43h3v3h-3zM644 49h3v4h-3zM653 23h4v3h-4zM657 86h3v8h-3zM663 39h3v4h-3zM669 16h3v3h-3zM672 16h3v3h-3zM678 36h3v3h-3zM688 39h3v4h-3zM691 29h3v4h-3z"/>
<path fill="#5a0080" d="M414 12h3v4h-3zM420 29h4v4h-4zM424 72h3v7h-3zM427 16h3v3h-3zM430 16h3v3h-3zM430 33h3v3h-3zM433 59h3v4h-3zM495 12h3v4h-3zM498 66h3v6h-3zM501 66h3v6h-3zM504 23h3v3h-3zM511 26h3v3h-3zM523 66h3v6h-3zM554 66h3v6h-3zM566 59h4v4h-4zM566 79h4v7h-4zM570 43h3v3h-3zM573 16h3v3h-3zM579 39h3v4h-3zM582 26h3v3h-3zM588 49h3v4h-3zM591 59h3v4h-3zM594 53h4v3h-4zM604 16h3v3h-3zM607 29h3v4h-3zM610 46h3v3h-3zM619 26h3v3h-3zM632 19h3v4h-3zM638 23h3v3h-3zM638 49h3v4h-3zM641 26h3v3h-3zM644 39h3v4h-3zM675 16h3v3h-3zM678 26h3v3h-3z"/>
<path fill="#2800f0" d="M414 46h3v3h-3zM433 19h3v4h-3zM439 46h3v3h-3zM464 56h3v3h-3zM517 33h3v3h-3zM545 66h3v6h-3zM557 12h3v4h-3zM560 72h3v7h-3zM563 23h3v3h-3zM570 29h3v4h-3zM573 86h3v8h-3zM601 46h3v3h-3zM601 59h3v4h-3zM604 12h3v4h-3zM607 86h3v8h-3zM613 59h3v4h-3zM616 43h3v3h-3zM619 46h3v3h-3zM638 36h3v3h-3zM638 86h3v8h-3zM653 72h4v7h-4zM694 49h3v4h-3z"/>
<path fill="#260034" d="M414 49h3v4h-3zM424 33h3v3h-3zM430 43h3v3h-3zM492 72h3v7h-3zM492 86h3v8h-3zM495 43h3v3h-3zM501 86h3v8h-3zM511 19h3v4h-3zM517 53h3v3h-3zM520 16h3v3h-3zM520 49h3v4h-3zM520 56h3v3h-3zM523 63h3v3h-3zM526 72h3v7h-3zM529 56h3v3h-3zM532 19h3v4h-3zM535 53h3v3h-3zM538 23h4v6h-4zM538 53h4v3h-4zM542 33h3v3h-3zM545 23h3v3h-3zM551 49h3v4h-3zM554 36h3v7h-3zM557 49h3v4h-3zM563 33h3v3h-3zM566 36h4v3h-4zM573 23h3v3h-3zM573 46h3v3h-3zM576 16h3v3h-3zM576 53h3v6h-3zM576 63h3v3h-3zM576 72h3v7h-3zM576 86h3v8h-3zM579 86h3v8h-3zM582 19h3v4h-3zM582 39h3v4h-3zM582 53h3v6h-3zM585 39h3v4h-3zM585 49h3v4h-3zM585 59h3v4h-3zM591 36h3v3h-3zM607 72h3v7h-3zM616 72h3v7h-3zM619 39h3v4h-3zM619 72h3v7h-3zM625 16h4v3h-4zM629 36h3v3h-3zM635 53h3v3h-3zM644 46h3v3h-3zM647 16h3v3h-3zM647 26h3v3h-3zM650 19h3v4h-3zM650 26h3v3h-3zM650 33h3v3h-3zM653 12h4v7h-4zM653 66h4v6h-4zM657 49h3v4h-3zM660 49h3v4h-3zM663 66h3v6h-3zM666 19h3v4h-3zM669 49h3v4h-3zM678 23h3v3h-3zM685 29h3v4h-3zM685 63h3v3h-3zM688 79h3v7h-3zM691 53h3v3h-3zM691 59h3v4h-3zM691 79h3v7h-3zM694 16h3v3h-3zM694 29h3v7h-3zM694 72h3v7h-3z"/>
<path fill="#4600db" d="M414 63h3v3h-3zM439 39h3v4h-3zM439 79h3v7h-3zM442 26h3v3h-3zM486 19h3v4h-3zM486 29h3v4h-3zM511 66h3v6h-3zM551 33h3v3h-3zM560 79h3v7h-3zM585 12h3v4h-3zM688 59h3v4h-3z"/>
<path fill="#6600a1" d="M417 39h3v4h-3zM420 12h4v4h-4zM489 19h3v4h-3zM492 59h3v4h-3zM495 29h3v4h-3zM504 49h3v4h-3zM511 86h3v8h-3zM514 16h3v3h-3zM514 46h3v3h-3zM520 53h3v3h-3zM526 23h3v3h-3zM538 66h4v6h-4zM542 16h3v3h-3zM548 72h3v7h-3zM551 43h3v3h-3zM563 53h3v3h-3zM563 63h3v3h-3zM566 19h4v4h-4zM576 49h3v4h-3zM576 59h3v4h-3zM582 16h3v3h-3zM588 26h3v3h-3zM601 16h3v3h-3zM604 63h3v3h-3zM604 72h3v7h-3zM607 12h3v4h-3zM616 29h3v4h-3zM641 49h3v4h-3zM647 43h3v3h-3zM653 79h4v7h-4zM666 16h3v3h-3zM666 79h3v7h-3zM669 56h3v3h-3zM675 46h3v3h-3zM681 56h4v3h-4z"/>
<path fill="#3c00e2" d="M417 43h3v3h-3zM439 36h3v3h-3zM489 66h3v6h-3zM492 29h3v4h-3zM495 36h3v3h-3zM504 33h3v3h-3zM523 49h3v4h-3zM545 29h3v4h-3zM585 79h3v7h-3zM598 23h3v3h-3zM598 36h3v3h-3zM601 72h3v7h-3zM616 33h3v3h-3zM653 43h4v3h-4zM669 43h3v3h-3zM678 53h3v3h-3zM685 26h3v3h-3zM685 49h3v4h-3z"/>
<path fill="#3f0058" d="M417 59h3v4h-3zM420 56h4v3h-4zM420 86h4v8h-4zM424 16h3v3h-3zM433 66h3v6h-3zM436 12h3v4h-3zM489 43h3v3h-3zM495 19h3v4h-3zM495 56h3v3h-3zM498 23h3v3h-3zM498 49h3v4h-3zM498 56h3v3h-3zM501 16h3v3h-3zM501 43h3v3h-3zM504 36h3v3h-3zM504 63h3v3h-3zM504 86h3v8h-3zM511 16h3v3h-3zM514 66h3v6h-3zM514 79h3v7h-3zM517 16h3v3h-3zM517 72h3v7h-3zM526 56h3v3h-3zM526 66h3v6h-3zM529 16h3v3h-3zM532 59h3v4h-3zM535 33h3v3h-3zM535 59h3v4h-3zM538 16h4v3h-4zM538 56h4v3h-4zM545 49h3v4h-3zM545 79h3v7h-3zM548 19h3v4h-3zM548 33h3v3h-3zM551 36h3v3h-3zM551 63h3v9h-3zM554 53h3v10h-3zM554 79h3v7h-3zM557 36h3v3h-3zM563 43h3v3h-3zM570 12h3v4h-3zM570 26h3v3h-3zM570 46h3v3h-3zM573 63h3v3h-3zM582 63h3v3h-3zM588 46h3v3h-3zM598 19h3v4h-3zM601 12h3v4h-3zM601 63h3v3h-3zM607 46h3v3h-3zM613 33h3v3h-3zM613 43h3v3h-3zM616 23h3v3h-3zM616 39h3v4h-3zM616 49h3v4h-3zM619 79h3v7h-3zM625 66h4v6h-4zM629 56h3v3h-3zM629 63h3v3h-3zM641 19h3v4h-3zM641 72h3v7h-3zM644 63h3v3h-3zM647 36h3v3h-3zM647 49h3v4h-3zM647 59h3v4h-3zM647 72h3v7h-3zM650 39h3v4h-3zM650 59h3v4h-3zM657 33h3v3h-3zM657 59h3v4h-3zM660 53h3v3h-3zM663 86h3v8h-3zM666 23h3v6h-3zM666 59h3v4h-3zM669 36h3v3h-3zM672 43h3v3h-3zM675 33h3v3h-3zM678 33h3v3h-3zM681 26h4v3h-4zM681 46h4v3h-4zM681 72h4v7h-4zM685 66h3v6h-3zM688 36h3v3h-3zM694 63h3v3h-3z"/>
<path fill="#0032ff" d="M417 63h3v3h-3zM433 26h3v3h-3zM442 66h3v6h-3zM464 46h3v3h-3zM467 12h3v4h-3zM498 16h3v3h-3zM511 46h3v3h-3zM514 59h3v4h-3zM520 26h3v3h-3zM579 53h3v3h-3zM588 16h3v3h-3zM588 23h3v3h-3zM588 72h3v7h-3zM591 56h3v3h-3zM598 43h3v3h-3zM610 29h3v4h-3zM619 12h3v4h-3zM622 86h3v8h-3zM625 79h4v7h-4zM638 29h3v4h-3zM675 43h3v3h-3zM691 33h3v3h-3z"/>
<path fill="#00ff78" d="M417 72h3v7h-3zM445 39h3v4h-3zM461 59h3v4h-3zM461 66h3v6h-3zM542 26h3v3h-3zM573 39h3v4h-3zM681 49h4v4h-4z"/>
<path fill="#00dff0" d="M417 86h3v8h-3zM433 79h3v7h-3zM442 43h3v3h-3zM442 72h3v7h-3zM461 23h3v3h-3zM464 29h3v4h-3zM467 19h3v4h-3zM504 19h3v4h-3zM517 79h3v7h-3zM529 49h3v4h-3zM532 49h3v4h-3zM557 33h3v3h-3zM560 63h3v3h-3zM579 56h3v3h-3zM588 29h3v4h-3zM594 56h4v3h-4zM601 43h3v3h-3zM604 39h3v4h-3zM607 39h3v4h-3zM619 43h3v3h-3zM622 49h3v4h-3zM653 56h4v3h-4zM657 79h3v7h-3zM663 19h3v4h-3zM669 53h3v3h-3zM672 29h3v4h-3z"/>
<path fill="#0056ff" d="M420 23h4v3h-4zM427 79h3v7h-3zM439 26h3v3h-3zM467 79h3v7h-3zM479 86h4v8h-4zM483 23h3v3h-3zM483 53h3v3h-3zM483 63h3v3h-3zM486 26h3v3h-3zM514 43h3v3h-3zM523 23h3v3h-3zM526 36h3v3h-3zM557 86h3v8h-3zM619 56h3v3h-3zM632 43h3v3h-3zM632 59h3v4h-3z"/>
<path fill="#008cff" d="M420 66h4v6h-4zM439 63h3v3h-3zM442 59h3v4h-3zM464 72h3v7h-3zM486 56h3v3h-3zM489 59h3v4h-3zM501 12h3v4h-3zM501 19h3v4h-3zM511 49h3v4h-3zM526 79h3v7h-3zM594 19h4v4h-4zM598 59h3v4h-3zM601 79h3v7h-3zM647 46h3v3h-3zM650 66h3v6h-3zM663 43h3v3h-3zM681 53h4v3h-4z"/>
<path fill="#0068ff" d="M424 19h3v4h-3zM424 66h3v6h-3zM433 16h3v3h-3zM439 33h3v3h-3zM442 56h3v3h-3zM483 43h3v3h-3zM511 23h3v3h-3zM576 23h3v3h-3zM604 29h3v4h-3zM641 46h3v3h-3zM663 12h3v4h-3zM685 33h3v3h-3zM688 46h3v3h-3z"/>
<path fill="#6300ac" d="M424 23h3v3h-3zM433 39h3v4h-3zM439 72h3v7h-3zM501 23h3v3h-3zM507 39h4v4h-4zM526 19h3v4h-3zM529 53h3v3h-3zM538 59h4v4h-4zM545 59h3v4h-3zM554 46h3v3h-3zM557 72h3v7h-3zM613 12h3v4h-3zM616 46h3v3h-3zM625 19h4v4h-4zM663 16h3v3h-3zM669 26h3v3h-3zM675 26h3v3h-3z"/>
<path fill="#1b11f5" d="M424 36h3v3h-3zM427 43h3v6h-3zM439 16h3v3h-3zM439 29h3v4h-3zM439 56h3v3h-3zM464 19h3v4h-3zM486 39h3v4h-3zM492 39h3v4h-3zM495 63h3v3h-3zM520 23h3v3h-3zM523 12h3v4h-3zM529 86h3v8h-3zM532 43h3v3h-3zM532 66h3v6h-3zM551 26h3v3h-3zM566 12h4v4h-4zM570 16h3v3h-3zM576 29h3v4h-3zM625 53h4v3h-4zM641 56h3v3h-3zM672 36h3v3h-3zM685 46h3v3h-3z"/>
<path fill="#00d7ff" d="M424 79h3v7h-3zM436 63h3v3h-3zM467 56h3v7h-3zM467 66h3v6h-3zM483 72h3v7h-3zM492 26h3v3h-3zM492 49h3v4h-3zM523 79h3v7h-3zM538 33h4v3h-4zM538 86h4v8h-4zM548 26h3v3h-3zM554 49h3v4h-3zM560 26h3v3h-3zM570 49h3v4h-3zM573 19h3v4h-3zM591 46h3v3h-3zM594 29h4v4h-4zM616 36h3v3h-3zM622 16h3v3h-3zM644 53h3v3h-3zM663 53h3v3h-3zM666 29h3v4h-3zM685 16h3v7h-3z"/>
<path fill="#2108f2" d="M427 56h3v3h-3zM430 86h3v8h-3zM467 49h3v4h-3zM483 59h3v4h-3zM486 33h3v3h-3zM495 39h3v4h-3zM511 33h3v3h-3zM517 36h3v3h-3zM517 59h3v4h-3zM529 79h3v7h-3zM538 12h4v4h-4zM542 49h3v4h-3zM545 16h3v3h-3zM563 86h3v8h-3zM607 36h3v3h-3zM619 63h3v3h-3zM641 36h3v3h-3zM647 19h3v4h-3zM650 49h3v4h-3zM653 36h4v3h-4zM660 66h3v6h-3zM663 33h3v3h-3zM666 39h3v4h-3zM672 33h3v3h-3zM672 39h3v4h-3z"/>
<path fill="#00b9ff" d="M430 23h3v3h-3zM442 63h3v3h-3zM464 23h3v6h-3zM467 23h3v3h-3zM492 12h3v4h-3zM535 86h3v8h-3zM560 53h3v3h-3zM566 49h4v4h-4zM591 26h3v3h-3zM663 46h3v3h-3zM675 56h3v3h-3zM678 16h3v3h-3zM678 39h3v4h-3zM685 43h3v3h-3z"/>
<path fill="#0044ff" d="M430 79h3v7h-3zM442 12h3v4h-3zM483 16h3v3h-3zM486 36h3v3h-3zM498 72h3v7h-3zM501 46h3v3h-3zM523 29h3v4h-3zM523 46h3v3h-3zM554 72h3v7h-3zM563 59h3v4h-3zM570 86h3v8h-3zM616 12h3v4h-3zM663 29h3v4h-3zM666 43h3v3h-3zM672 12h3v4h-3z"/>
<path fill="#00aaff" d="M436 16h3v3h-3zM442 19h3v4h-3zM442 79h3v7h-3zM483 26h3v3h-3zM483 39h3v4h-3zM486 46h3v3h-3zM501 26h3v3h-3zM504 46h3v3h-3zM520 72h3v7h-3zM535 56h3v3h-3zM582 66h3v6h-3zM604 19h3v4h-3zM604 56h3v3h-3zM610 12h3v4h-3zM660 79h3v7h-3zM663 49h3v4h-3zM678 49h3v4h-3z"/>
<path fill="#1419f8" d="M436 66h3v6h-3zM439 66h3v6h-3zM483 12h3v4h-3zM483 19h3v4h-3zM492 23h3v3h-3zM498 53h3v3h-3zM507 56h4v3h-4zM526 39h3v4h-3zM566 26h4v3h-4zM570 33h3v3h-3zM570 63h3v3h-3zM585 19h3v4h-3zM591 49h3v4h-3zM594 23h4v3h-4zM629 29h3v4h-3zM629 46h3v3h-3zM653 63h4v3h-4zM657 46h3v3h-3zM663 23h3v3h-3zM666 63h3v3h-3zM666 86h3v8h-3zM672 46h3v3h-3zM672 53h3v3h-3zM675 19h3v4h-3zM688 19h3v4h-3z"/>
<path fill="#5000d4" d="M439 12h3v4h-3z"/>
<path fill="#3200e9" d="M439 19h3v4h-3zM486 23h3v3h-3zM495 72h3v7h-3zM507 46h4v3h-4zM507 53h4v3h-4zM507 72h4v7h-4zM514 56h3v3h-3zM517 66h3v6h-3zM570 56h3v3h-3zM591 72h3v7h-3zM613 46h3v3h-3zM629 59h3v4h-3zM647 53h3v3h-3zM650 16h3v3h-3zM653 53h4v3h-4zM657 43h3v3h-3zM660 46h3v3h-3zM666 49h3v4h-3zM681 66h4v6h-4z"/>
<path fill="#0d21fa" d="M439 59h3v4h-3zM464 16h3v3h-3zM464 36h3v3h-3zM464 59h3v4h-3zM483 36h3v3h-3zM486 49h3v4h-3zM498 39h3v4h-3zM529 66h3v6h-3zM532 53h3v3h-3zM535 43h3v3h-3zM545 53h3v3h-3zM566 66h4v6h-4zM570 79h3v7h-3zM588 43h3v3h-3zM598 12h3v4h-3zM607 53h3v3h-3zM619 19h3v4h-3zM622 36h3v3h-3zM629 72h3v7h-3zM635 19h3v4h-3zM635 66h3v6h-3zM638 56h3v3h-3zM675 53h3v3h-3z"/>
<path fill="#00ff2f" d="M442 23h3v3h-3zM461 43h3v3h-3zM470 12h3v4h-3zM470 56h3v3h-3zM476 36h3v3h-3zM504 39h3v4h-3z"/>
<path fill="#00ffa0" d="M442 33h3v3h-3zM442 53h3v3h-3zM461 36h3v3h-3zM467 39h3v4h-3zM523 43h3v3h-3zM545 63h3v3h-3zM635 33h3v3h-3zM638 19h3v4h-3zM653 26h4v3h-4zM657 36h3v3h-3zM666 46h3v3h-3zM685 79h3v7h-3z"/>
<path fill="#00ff50" d="M442 36h3v3h-3zM470 39h3v4h-3zM678 46h3v3h-3zM691 56h3v3h-3z"/>
<path fill="#00e7e1" d="M442 39h3v4h-3zM464 39h3v4h-3zM464 63h3v3h-3zM467 33h3v3h-3zM467 53h3v3h-3zM470 16h3v3h-3zM529 26h3v3h-3zM610 49h3v4h-3zM629 33h3v3h-3zM638 26h3v3h-3zM675 39h3v4h-3z"/>
<path fill="#00f7c3" d="M442 46h3v3h-3zM461 19h3v4h-3zM461 33h3v3h-3zM464 12h3v4h-3zM467 36h3v3h-3zM467 46h3v3h-3zM470 53h3v3h-3zM638 63h3v3h-3zM663 26h3v3h-3z"/>
<path fill="#0fff00" d="M442 49h3v4h-3zM445 79h3v7h-3zM476 16h3v3h-3z"/>
<path fill="#007aff" d="M442 86h3v8h-3zM461 26h3v3h-3zM464 33h3v3h-3zM486 43h3v3h-3zM535 66h3v6h-3zM601 19h3v4h-3zM601 49h3v4h-3zM647 39h3v4h-3zM660 59h3v4h-3zM669 39h3v4h-3zM694 86h3v8h-3z"/>
<path fill="#00ff1b" d="M445 12h3v4h-3zM445 72h3v7h-3zM458 26h3v3h-3zM470 19h3v7h-3zM470 43h3v3h-3zM470 49h3v4h-3zM470 79h3v7h-3zM479 12h4v4h-4zM479 72h4v7h-4z"/>
<path fill="#00ffb4" d="M445 16h3v3h-3zM445 86h3v8h-3zM461 72h3v7h-3zM467 43h3v3h-3zM470 72h3v7h-3zM479 63h4v3h-4zM492 56h3v3h-3zM566 33h4v3h-4zM653 39h4v4h-4zM669 46h3v3h-3zM694 12h3v4h-3z"/>
<path fill="#00ff64" d="M445 19h3v4h-3zM470 86h3v8h-3z"/>
<path fill="#00ff14" d="M445 23h3v3h-3zM445 59h3v7h-3zM458 79h3v7h-3zM461 49h3v7h-3zM461 86h3v8h-3zM479 29h4v4h-4zM479 53h4v3h-4z"/>
<path fill="#00ff07" d="M445 26h3v3h-3zM458 49h3v4h-3zM470 26h3v3h-3zM479 16h4v3h-4z"/>
<path fill="#00ff00" d="M445 29h3v7h-3zM445 53h3v3h-3zM461 29h3v4h-3z"/>
<path fill="#ceff00" d="M445 36h3v3h-3zM448 19h3v4h-3zM473 16h3v3h-3zM476 33h3v3h-3z"/>
<path fill="#78ff00" d="M445 43h3v3h-3zM448 56h3v3h-3zM458 19h3v4h-3zM458 36h3v3h-3zM473 59h3v4h-3zM476 43h3v3h-3zM479 56h4v3h-4z"/>
<path fill="#2dff00" d="M445 46h3v3h-3zM458 66h3v6h-3zM470 59h3v4h-3z"/>
<path fill="#00ff28" d="M445 49h3v4h-3zM458 72h3v7h-3zM461 39h3v4h-3zM470 46h3v3h-3zM476 26h3v3h-3zM479 26h4v3h-4zM479 43h4v3h-4z"/>
<path fill="#00ff21" d="M445 56h3v3h-3zM461 63h3v3h-3zM479 49h4v4h-4zM483 46h3v3h-3z"/>
<path fill="#00ff0d" d="M445 66h3v6h-3zM458 16h3v3h-3zM479 19h4v4h-4zM479 79h4v7h-4z"/>
<path fill="#ff4800" d="M448 12h3v4h-3zM473 26h3v3h-3z"/>
<path fill="#ffb100" d="M448 16h3v3h-3zM448 36h3v3h-3zM451 66h4v6h-4zM455 59h3v4h-3z"/>
<path fill="#f61300" d="M448 23h3v3h-3zM451 12h4v4h-4zM451 56h4v3h-4z"/>
<path fill="#ff6800" d="M448 26h3v3h-3zM455 43h3v3h-3z"/>
<path fill="#ffa300" d="M448 29h3v4h-3zM448 86h3v8h-3zM473 36h3v3h-3z"/>
<path fill="#ff9400" d="M448 33h3v3h-3zM448 53h3v3h-3zM451 29h4v4h-4zM455 19h3v4h-3zM473 43h3v3h-3z"/>
<path fill="#ebff00" d="M448 39h3v4h-3zM448 63h3v3h-3zM473 12h3v4h-3zM473 39h3v4h-3zM473 66h3v6h-3zM476 46h3v3h-3z"/>
<path fill="#ff8600" d="M448 43h3v3h-3zM448 72h3v7h-3zM451 19h4v4h-4zM451 72h4v7h-4z"/>
<path fill="#ff5800" d="M448 46h3v3h-3zM448 79h3v7h-3zM451 16h4v3h-4zM455 26h3v3h-3zM473 19h3v4h-3zM473 46h3v3h-3z"/>
<path fill="#ffbf00" d="M448 49h3v4h-3zM458 46h3v3h-3zM458 56h3v3h-3z"/>
<path fill="#fb1600" d="M448 59h3v4h-3z"/>
<path fill="#c0ff00" d="M448 66h3v6h-3z"/>
<path fill="#e40800" d="M451 23h4v3h-4zM451 36h4v3h-4zM451 49h4v4h-4z"/>
<path fill="#eff500" d="M451 26h4v3h-4zM455 29h3v7h-3zM455 72h3v14h-3z"/>
<path fill="#ff1900" d="M451 33h4v3h-4zM451 43h4v6h-4z"/>
<path fill="#ed0e00" d="M451 39h4v4h-4zM451 86h4v8h-4z"/>
<path fill="#ff2900" d="M451 53h4v3h-4z"/>
<path fill="#f21100" d="M451 59h4v4h-4z"/>
<path fill="#ffcd00" d="M451 63h4v3h-4zM455 36h3v3h-3zM455 53h3v3h-3zM455 63h3v3h-3z"/>
<path fill="#ff3900" d="M451 79h4v7h-4z"/>
<path fill="#b1ff00" d="M455 12h3v4h-3zM455 23h3v3h-3zM455 56h3v3h-3zM458 59h3v4h-3zM473 79h3v7h-3zM476 39h3v4h-3zM476 72h3v7h-3z"/>
<path fill="#3cff00" d="M455 16h3v3h-3zM455 49h3v4h-3zM458 12h3v4h-3zM476 86h3v8h-3z"/>
<path fill="#ddff00" d="M455 39h3v4h-3zM473 23h3v3h-3zM473 56h3v3h-3z"/>
<path fill="#ff7800" d="M455 46h3v3h-3z"/>
<path fill="#a3ff00" d="M455 66h3v6h-3zM458 23h3v3h-3zM458 63h3v3h-3zM476 19h3v7h-3zM476 63h3v3h-3z"/>
<path fill="#fbd700" d="M455 86h3v8h-3zM473 33h3v3h-3z"/>
<path fill="#5aff00" d="M458 29h3v4h-3zM476 56h3v3h-3zM476 66h3v6h-3zM479 46h4v3h-4zM479 66h4v6h-4z"/>
<path fill="#1eff00" d="M458 33h3v3h-3zM476 12h3v4h-3zM476 79h3v7h-3zM479 33h4v3h-4zM479 39h4v4h-4z"/>
<path fill="#00ff3c" d="M458 39h3v4h-3zM461 46h3v3h-3zM461 56h3v3h-3zM470 29h3v7h-3z"/>
<path fill="#4bff00" d="M458 43h3v3h-3zM476 49h3v4h-3z"/>
<path fill="#86ff00" d="M458 53h3v3h-3zM473 29h3v4h-3zM473 86h3v8h-3zM476 29h3v4h-3zM479 36h4v3h-4z"/>
<path fill="#69ff00" d="M458 86h3v8h-3zM476 53h3v3h-3zM479 59h4v4h-4z"/>
<path fill="#00efd2" d="M461 12h3v4h-3zM464 86h3v8h-3zM467 26h3v3h-3zM663 36h3v3h-3z"/>
<path fill="#00ff8c" d="M461 16h3v3h-3zM461 79h3v7h-3zM470 36h3v3h-3zM470 63h3v3h-3zM483 79h3v7h-3zM570 36h3v3h-3zM613 66h3v6h-3z"/>
<path fill="#00ff35" d="M470 66h3v6h-3zM517 19h3v4h-3zM675 23h3v3h-3zM685 36h3v3h-3z"/>
<path fill="#f3eb00" d="M473 49h3v7h-3zM473 72h3v7h-3z"/>
<path fill="#95ff00" d="M473 63h3v3h-3zM476 59h3v4h-3zM479 23h4v3h-4z"/>
<path fill="#5a00cd" d="M486 16h3v3h-3zM486 86h3v8h-3z"/>
<path fill="#6000b7" d="M486 53h3v3h-3z"/>
<path fill="#5d00c2" d="M486 59h3v7h-3z"/>
</g>
<clipPath id="cb"><rect x="63.50" y="96.30" width="280.80" height="80.90"/></clipPath>
<g clip-path="url(#cb)" shape-rendering="crispEdges">
<rect x="63.50" y="96.30" width="280.80" height="80.90" fill="#000"/>
<path fill="#5a0080" d="M64 101h3v4h-3zM64 132h3v5h-3zM67 114h3v5h-3zM67 150h3v5h-3zM74 101h3v4h-3zM77 155h3v4h-3zM84 159h3v5h-3zM87 137h3v4h-3zM87 146h3v4h-3zM139 119h3v4h-3zM142 155h3v4h-3zM145 164h3v4h-3zM148 128h4v9h-4zM155 101h3v9h-3zM168 128h3v4h-3zM168 173h3v4h-3zM174 141h4v5h-4zM181 146h3v4h-3zM194 105h3v5h-3zM197 146h3v4h-3zM204 132h3v5h-3zM207 114h3v5h-3zM207 150h3v5h-3zM214 110h3v4h-3zM214 141h3v5h-3zM220 164h3v4h-3zM226 137h4v4h-4zM226 155h4v4h-4zM236 155h4v9h-4zM236 173h4v4h-4zM240 101h3v4h-3zM246 132h3v5h-3zM256 128h3v4h-3zM259 146h3v9h-3zM272 155h3v4h-3zM275 150h3v5h-3zM282 141h3v5h-3zM285 96h3v5h-3zM285 146h3v9h-3zM288 137h4v4h-4zM292 137h3v4h-3zM292 155h3v4h-3zM298 137h3v4h-3zM301 119h3v4h-3zM301 132h3v5h-3zM311 150h3v5h-3zM314 114h4v5h-4zM314 141h4v5h-4zM314 155h4v4h-4zM318 146h3v4h-3zM327 105h3v5h-3zM327 119h3v4h-3zM327 141h3v5h-3zM334 114h3v5h-3z"/>
<path fill="#260034" d="M64 119h3v4h-3zM67 101h3v4h-3zM67 110h3v4h-3zM70 146h4v4h-4zM70 159h4v5h-4zM74 137h3v9h-3zM74 173h3v4h-3zM77 96h3v5h-3zM80 141h4v5h-4zM84 146h3v4h-3zM136 119h3v4h-3zM139 110h3v4h-3zM139 128h3v4h-3zM145 110h3v4h-3zM148 110h4v4h-4zM152 173h3v4h-3zM158 105h4v5h-4zM162 164h3v4h-3zM174 119h4v4h-4zM174 155h4v4h-4zM174 173h4v4h-4zM184 159h4v9h-4zM188 101h3v4h-3zM191 150h3v5h-3zM194 137h3v4h-3zM197 101h3v4h-3zM197 137h3v4h-3zM204 101h3v4h-3zM204 168h3v5h-3zM207 119h3v4h-3zM217 101h3v4h-3zM217 164h3v4h-3zM220 114h3v5h-3zM223 159h3v5h-3zM236 128h4v4h-4zM240 96h3v5h-3zM243 105h3v5h-3zM243 155h3v4h-3zM246 123h3v5h-3zM249 114h3v5h-3zM259 173h3v4h-3zM262 137h4v4h-4zM262 173h4v4h-4zM272 101h3v4h-3zM272 123h3v5h-3zM278 128h4v4h-4zM282 173h3v4h-3zM288 155h4v4h-4zM292 96h3v5h-3zM292 168h3v5h-3zM295 137h3v4h-3zM295 155h3v4h-3zM298 146h3v4h-3zM301 137h3v4h-3zM304 155h4v4h-4zM308 123h3v5h-3zM311 96h3v5h-3zM314 110h4v4h-4zM318 132h3v5h-3zM318 141h3v5h-3zM321 168h3v5h-3zM330 173h4v4h-4zM334 128h3v4h-3zM334 137h3v4h-3zM344 123h3v5h-3z"/>
<path fill="#6600a1" d="M64 123h3v5h-3zM70 114h4v5h-4zM74 132h3v5h-3zM87 114h3v5h-3zM87 128h3v4h-3zM87 150h3v5h-3zM90 164h3v9h-3zM113 123h3v5h-3zM132 173h4v4h-4zM136 96h3v5h-3zM139 137h3v4h-3zM152 155h3v4h-3zM155 137h3v4h-3zM155 146h3v4h-3zM174 128h4v4h-4zM188 155h3v4h-3zM191 137h3v4h-3zM194 132h3v5h-3zM200 114h4v5h-4zM200 132h4v5h-4zM204 137h3v4h-3zM214 114h3v5h-3zM220 128h3v4h-3zM220 141h3v5h-3zM223 123h3v5h-3zM223 146h3v4h-3zM226 159h4v5h-4zM233 146h3v4h-3zM240 137h3v4h-3zM246 110h3v4h-3zM246 146h3v4h-3zM246 155h3v4h-3zM249 155h3v4h-3zM252 141h4v5h-4zM252 155h4v4h-4zM256 146h3v4h-3zM256 159h3v5h-3zM259 155h3v4h-3zM262 96h4v5h-4zM262 110h4v4h-4zM262 141h4v5h-4zM266 105h3v5h-3zM269 164h3v4h-3zM272 137h3v9h-3zM275 114h3v5h-3zM275 132h3v5h-3zM275 146h3v4h-3zM288 105h4v5h-4zM288 132h4v5h-4zM292 141h3v5h-3zM295 132h3v5h-3zM301 146h3v4h-3zM301 155h3v4h-3zM304 137h4v4h-4zM311 101h3v4h-3zM311 110h3v4h-3zM314 101h4v4h-4zM324 155h3v4h-3zM330 132h4v5h-4zM340 137h4v4h-4zM344 141h3v9h-3z"/>
<path fill="#320046" d="M64 137h3v4h-3zM67 119h3v4h-3zM74 164h3v4h-3zM80 96h4v5h-4zM80 114h4v5h-4zM84 173h3v4h-3zM87 173h3v4h-3zM116 128h3v4h-3zM142 105h3v5h-3zM148 168h4v5h-4zM168 105h3v5h-3zM171 128h3v4h-3zM171 137h3v4h-3zM174 110h4v4h-4zM178 114h3v5h-3zM178 159h3v5h-3zM181 164h3v4h-3zM184 96h4v5h-4zM194 114h3v5h-3zM194 168h3v5h-3zM200 137h4v4h-4zM207 132h3v5h-3zM210 101h4v4h-4zM210 159h4v5h-4zM214 105h3v5h-3zM217 150h3v5h-3zM220 101h3v4h-3zM220 132h3v5h-3zM223 128h3v4h-3zM223 150h3v5h-3zM226 96h4v5h-4zM230 101h3v4h-3zM230 159h3v5h-3zM233 164h3v4h-3zM240 110h3v4h-3zM243 96h3v5h-3zM243 150h3v5h-3zM246 105h3v5h-3zM249 96h3v5h-3zM252 132h4v5h-4zM256 101h3v4h-3zM256 168h3v5h-3zM259 110h3v9h-3zM262 132h4v5h-4zM266 141h3v5h-3zM269 96h3v5h-3zM269 159h3v5h-3zM272 96h3v5h-3zM275 141h3v5h-3zM275 164h3v4h-3zM278 105h4v5h-4zM278 114h4v5h-4zM285 159h3v5h-3zM288 96h4v5h-4zM288 168h4v5h-4zM292 159h3v5h-3zM295 105h3v5h-3zM295 119h3v4h-3zM295 128h3v4h-3zM304 146h4v4h-4zM304 164h4v4h-4zM318 114h3v5h-3zM321 173h3v4h-3zM324 159h3v5h-3zM344 159h3v5h-3z"/>
<path fill="#62008b" d="M64 141h3v5h-3zM64 168h3v5h-3zM70 155h4v4h-4zM77 137h3v4h-3zM80 110h4v4h-4zM80 123h4v5h-4zM80 150h4v5h-4zM84 132h3v5h-3zM87 105h3v5h-3zM90 159h3v5h-3zM90 173h3v4h-3zM136 168h3v9h-3zM139 164h3v4h-3zM142 137h3v4h-3zM142 146h3v4h-3zM152 114h3v5h-3zM158 96h4v5h-4zM162 168h3v5h-3zM178 101h3v4h-3zM178 132h3v5h-3zM184 132h4v9h-4zM188 164h3v4h-3zM200 155h4v4h-4zM210 150h4v5h-4zM217 141h3v5h-3zM217 155h3v4h-3zM223 132h3v5h-3zM236 141h4v5h-4zM236 150h4v5h-4zM240 132h3v5h-3zM243 119h3v4h-3zM243 137h3v9h-3zM243 164h3v4h-3zM246 96h3v5h-3zM246 141h3v5h-3zM252 119h4v4h-4zM256 123h3v5h-3zM259 164h3v4h-3zM262 146h4v4h-4zM272 128h3v4h-3zM275 119h3v4h-3zM278 146h4v4h-4zM278 155h4v4h-4zM285 141h3v5h-3zM298 155h3v4h-3zM308 159h3v5h-3zM311 146h3v4h-3zM311 173h3v4h-3zM318 110h3v4h-3zM318 168h3v5h-3zM327 123h3v5h-3zM330 128h4v4h-4zM337 137h3v4h-3z"/>
<path fill="#2800f0" d="M64 146h3v4h-3zM70 132h4v5h-4zM93 132h3v5h-3zM119 164h3v4h-3zM158 141h4v5h-4zM165 146h3v4h-3zM168 132h3v5h-3zM168 159h3v5h-3zM171 150h3v5h-3zM181 141h3v5h-3zM188 146h3v4h-3zM204 123h3v5h-3zM210 137h4v4h-4zM226 141h4v5h-4zM301 141h3v5h-3zM311 168h3v5h-3zM314 168h4v5h-4zM318 150h3v5h-3z"/>
<path fill="#3f0058" d="M64 150h3v5h-3zM67 96h3v5h-3zM67 164h3v4h-3zM70 101h4v4h-4zM70 168h4v5h-4zM80 168h4v5h-4zM84 150h3v5h-3zM84 164h3v4h-3zM116 123h3v5h-3zM116 168h3v5h-3zM139 101h3v4h-3zM139 114h3v5h-3zM142 123h3v5h-3zM145 101h3v4h-3zM155 119h3v4h-3zM155 168h3v5h-3zM158 173h4v4h-4zM162 155h3v4h-3zM162 173h3v4h-3zM165 132h3v9h-3zM165 159h3v5h-3zM168 110h3v4h-3zM171 96h3v9h-3zM174 159h4v5h-4zM178 96h3v5h-3zM181 132h3v5h-3zM181 155h3v4h-3zM184 173h4v4h-4zM188 96h3v5h-3zM191 128h3v4h-3zM191 159h3v5h-3zM194 159h3v5h-3zM197 141h3v5h-3zM200 96h4v5h-4zM207 155h3v4h-3zM207 173h3v4h-3zM214 173h3v4h-3zM217 119h3v4h-3zM217 137h3v4h-3zM226 110h4v4h-4zM230 96h3v5h-3zM230 128h3v4h-3zM233 155h3v4h-3zM240 114h3v5h-3zM246 173h3v4h-3zM249 123h3v5h-3zM259 105h3v5h-3zM259 132h3v5h-3zM262 101h4v4h-4zM262 159h4v5h-4zM266 114h3v5h-3zM266 150h3v9h-3zM278 123h4v5h-4zM282 101h3v4h-3zM282 146h3v4h-3zM285 101h3v4h-3zM285 110h3v4h-3zM288 164h4v4h-4zM292 128h3v4h-3zM295 96h3v5h-3zM308 110h3v4h-3zM308 164h3v4h-3zM324 164h3v4h-3zM327 110h3v4h-3zM327 137h3v4h-3zM330 96h4v5h-4zM330 155h4v4h-4zM337 164h3v4h-3zM340 110h4v4h-4zM344 132h3v5h-3z"/>
<path fill="#0044ff" d="M64 155h3v4h-3zM67 155h3v4h-3zM74 150h3v5h-3zM87 132h3v5h-3zM87 155h3v4h-3zM90 96h3v5h-3zM142 141h3v5h-3zM145 141h3v5h-3zM152 164h3v4h-3zM155 155h3v9h-3zM184 146h4v4h-4zM188 150h3v5h-3zM200 105h4v5h-4zM249 150h3v5h-3zM252 123h4v5h-4zM269 150h3v5h-3zM272 132h3v5h-3zM298 141h3v5h-3zM311 159h3v5h-3zM321 141h3v5h-3zM321 150h3v5h-3zM330 114h4v5h-4zM334 119h3v4h-3z"/>
<path fill="#520074" d="M64 159h3v5h-3zM67 168h3v5h-3zM77 105h3v5h-3zM77 132h3v5h-3zM80 132h4v5h-4zM80 164h4v4h-4zM84 141h3v5h-3zM87 119h3v4h-3zM136 128h3v4h-3zM136 159h3v5h-3zM148 155h4v4h-4zM152 137h3v4h-3zM158 110h4v4h-4zM158 132h4v5h-4zM168 119h3v4h-3zM168 146h3v4h-3zM171 132h3v5h-3zM171 173h3v4h-3zM174 137h4v4h-4zM181 105h3v5h-3zM188 132h3v5h-3zM197 164h3v4h-3zM200 141h4v5h-4zM207 137h3v4h-3zM236 137h4v4h-4zM256 132h3v5h-3zM278 132h4v5h-4zM295 146h3v4h-3zM311 132h3v5h-3zM318 137h3v4h-3zM321 155h3v4h-3zM337 96h3v5h-3zM344 155h3v4h-3z"/>
<path fill="#690096" d="M64 164h3v4h-3zM67 137h3v4h-3zM67 173h3v4h-3zM70 164h4v4h-4zM77 128h3v4h-3zM136 137h3v4h-3zM139 150h3v5h-3zM142 110h3v4h-3zM142 159h3v5h-3zM148 141h4v5h-4zM152 110h3v4h-3zM158 164h4v4h-4zM165 155h3v4h-3zM178 105h3v5h-3zM184 150h4v5h-4zM191 155h3v4h-3zM191 164h3v4h-3zM197 155h3v4h-3zM200 150h4v5h-4zM204 146h3v4h-3zM210 114h4v5h-4zM210 155h4v4h-4zM214 150h3v5h-3zM217 173h3v4h-3zM220 146h3v4h-3zM223 137h3v4h-3zM233 128h3v4h-3zM236 168h4v5h-4zM243 146h3v4h-3zM243 173h3v4h-3zM256 137h3v4h-3zM275 168h3v5h-3zM278 96h4v5h-4zM285 137h3v4h-3zM292 101h3v4h-3zM295 150h3v5h-3zM298 128h3v4h-3zM298 150h3v5h-3zM311 114h3v5h-3zM311 137h3v9h-3zM318 155h3v4h-3zM318 164h3v4h-3zM321 146h3v4h-3zM321 164h3v4h-3zM324 96h3v5h-3zM327 155h3v4h-3zM334 132h3v5h-3zM337 155h3v4h-3zM340 123h4v5h-4zM344 96h3v5h-3z"/>
<path fill="#6300ac" d="M67 132h3v5h-3zM67 146h3v4h-3zM84 137h3v4h-3zM90 105h3v5h-3zM93 114h3v5h-3zM93 128h3v4h-3zM116 132h3v5h-3zM116 164h3v4h-3zM132 128h4v4h-4zM132 164h4v4h-4zM136 146h3v4h-3zM139 141h3v5h-3zM139 155h3v4h-3zM171 110h3v4h-3zM194 155h3v4h-3zM207 141h3v5h-3zM223 105h3v5h-3zM249 137h3v4h-3zM259 141h3v5h-3zM262 155h4v4h-4zM269 137h3v4h-3zM282 96h3v5h-3zM282 114h3v5h-3zM311 128h3v4h-3zM311 155h3v4h-3zM321 114h3v5h-3zM321 123h3v5h-3zM330 146h4v4h-4zM337 132h3v5h-3z"/>
<path fill="#1419f8" d="M67 141h3v5h-3zM77 141h3v5h-3zM80 146h4v4h-4zM90 155h3v4h-3zM113 96h3v5h-3zM116 96h3v5h-3zM116 114h3v5h-3zM119 159h3v5h-3zM129 132h3v5h-3zM132 110h4v4h-4zM152 141h3v5h-3zM191 146h3v4h-3zM236 146h4v4h-4zM240 146h3v4h-3zM262 150h4v5h-4zM311 119h3v4h-3zM334 150h3v5h-3z"/>
<path fill="#4b0069" d="M70 128h4v4h-4zM74 119h3v4h-3zM74 128h3v4h-3zM74 159h3v5h-3zM84 155h3v4h-3zM87 159h3v5h-3zM136 164h3v4h-3zM142 173h3v4h-3zM145 123h3v5h-3zM145 146h3v4h-3zM162 105h3v5h-3zM168 96h3v5h-3zM171 123h3v5h-3zM174 150h4v5h-4zM178 168h3v5h-3zM181 119h3v4h-3zM181 128h3v4h-3zM184 128h4v4h-4zM184 155h4v4h-4zM188 110h3v4h-3zM191 101h3v4h-3zM191 123h3v5h-3zM194 128h3v4h-3zM194 164h3v4h-3zM200 101h4v4h-4zM200 110h4v4h-4zM204 128h3v4h-3zM204 155h3v4h-3zM214 132h3v5h-3zM223 164h3v4h-3zM230 150h3v5h-3zM233 150h3v5h-3zM236 110h4v4h-4zM236 123h4v5h-4zM240 119h3v4h-3zM240 155h3v4h-3zM240 168h3v5h-3zM243 110h3v4h-3zM243 132h3v5h-3zM243 159h3v5h-3zM246 101h3v4h-3zM252 150h4v5h-4zM259 123h3v5h-3zM262 128h4v4h-4zM269 119h3v9h-3zM269 132h3v5h-3zM275 128h3v4h-3zM275 173h3v4h-3zM278 164h4v4h-4zM278 173h4v4h-4zM285 114h3v5h-3zM288 146h4v4h-4zM292 123h3v5h-3zM295 110h3v4h-3zM295 168h3v5h-3zM298 96h3v5h-3zM304 141h4v5h-4zM311 105h3v5h-3zM324 128h3v9h-3zM324 173h3v4h-3zM327 101h3v4h-3zM330 141h4v5h-4zM330 168h4v5h-4z"/>
<path fill="#072afc" d="M70 137h4v4h-4zM90 146h3v4h-3zM110 123h3v5h-3zM148 137h4v4h-4zM155 150h3v5h-3zM165 141h3v5h-3zM168 137h3v4h-3zM168 150h3v9h-3zM188 141h3v5h-3zM220 119h3v4h-3zM233 141h3v5h-3zM249 146h3v4h-3zM252 137h4v4h-4zM256 105h3v5h-3zM269 155h3v4h-3zM275 155h3v4h-3zM282 150h3v9h-3zM344 150h3v5h-3z"/>
<path fill="#0068ff" d="M80 101h4v4h-4zM93 96h3v5h-3zM96 119h4v4h-4zM106 128h4v4h-4zM129 137h3v4h-3zM129 168h3v5h-3zM132 96h4v5h-4zM158 146h4v4h-4zM272 146h3v4h-3zM334 141h3v5h-3zM337 141h3v5h-3z"/>
<path fill="#0d21fa" d="M84 128h3v4h-3zM96 128h4v4h-4zM113 168h3v5h-3zM116 141h3v5h-3zM116 155h3v4h-3zM145 150h3v5h-3zM155 132h3v5h-3zM162 141h3v5h-3zM171 119h3v4h-3zM178 155h3v4h-3zM181 150h3v5h-3zM207 146h3v4h-3zM210 146h4v4h-4zM226 114h4v5h-4zM240 141h3v5h-3zM272 150h3v5h-3zM278 141h4v5h-4zM324 146h3v4h-3zM324 168h3v5h-3z"/>
<path fill="#3200e9" d="M84 168h3v5h-3zM90 132h3v5h-3zM119 123h3v5h-3zM136 110h3v4h-3zM136 141h3v5h-3zM194 150h3v5h-3zM197 132h3v5h-3zM200 146h4v4h-4zM217 110h3v4h-3zM217 146h3v4h-3zM220 150h3v5h-3zM266 128h3v4h-3zM288 150h4v5h-4zM327 146h3v4h-3zM330 150h4v5h-4zM337 146h3v4h-3z"/>
<path fill="#009bff" d="M87 123h3v5h-3zM93 159h3v5h-3zM110 114h3v5h-3zM113 101h3v4h-3zM119 101h3v4h-3zM129 150h3v5h-3zM152 150h3v5h-3zM168 141h3v5h-3zM220 137h3v4h-3zM288 114h4v5h-4zM308 146h3v4h-3z"/>
<path fill="#4600db" d="M87 141h3v5h-3zM129 119h3v4h-3zM132 155h4v4h-4zM136 105h3v5h-3zM148 146h4v4h-4zM207 110h3v4h-3zM266 132h3v5h-3zM327 150h3v5h-3z"/>
<path fill="#5000d4" d="M90 101h3v4h-3zM132 101h4v4h-4z"/>
<path fill="#6000b7" d="M90 110h3v4h-3zM119 119h3v4h-3zM136 155h3v4h-3z"/>
<path fill="#060009" d="M90 114h3v5h-3z"/>
<path fill="#190023" d="M90 119h3v4h-3zM93 123h3v5h-3z"/>
<path fill="#00aaff" d="M90 137h3v4h-3zM96 114h4v5h-4zM110 168h3v5h-3zM119 137h3v4h-3zM122 128h4v4h-4zM132 105h4v5h-4zM132 146h4v4h-4zM142 150h3v5h-3zM171 146h3v4h-3zM217 132h3v5h-3zM301 150h3v5h-3zM314 123h4v5h-4zM334 146h3v4h-3z"/>
<path fill="#0032ff" d="M90 141h3v5h-3zM93 101h3v4h-3zM93 168h3v5h-3zM113 173h3v4h-3zM119 132h3v5h-3zM129 164h3v4h-3zM174 132h4v5h-4zM194 141h3v5h-3zM210 141h4v5h-4zM214 146h3v4h-3zM230 146h3v4h-3zM269 146h3v4h-3zM308 137h3v4h-3zM314 132h4v5h-4zM314 146h4v4h-4zM330 137h4v4h-4z"/>
<path fill="#007aff" d="M90 150h3v5h-3zM100 123h3v5h-3zM116 101h3v4h-3zM129 101h3v4h-3zM129 110h3v4h-3zM129 173h3v4h-3zM148 150h4v5h-4zM158 150h4v5h-4zM162 146h3v4h-3zM178 141h3v5h-3zM207 101h3v4h-3zM256 141h3v5h-3zM266 146h3v4h-3zM340 155h4v4h-4z"/>
<path fill="#00c8ff" d="M93 105h3v5h-3zM106 123h4v5h-4zM110 164h3v4h-3zM113 132h3v9h-3zM113 164h3v4h-3zM119 114h3v5h-3zM119 155h3v4h-3zM129 159h3v5h-3zM340 141h4v5h-4z"/>
<path fill="#008cff" d="M93 110h3v4h-3zM93 155h3v4h-3zM110 119h3v4h-3zM113 105h3v9h-3zM116 105h3v5h-3zM116 150h3v5h-3zM129 123h3v5h-3zM132 150h4v5h-4zM165 150h3v5h-3zM174 146h4v4h-4zM184 141h4v5h-4zM226 150h4v5h-4zM259 101h3v4h-3zM288 141h4v5h-4zM308 141h3v5h-3zM314 150h4v5h-4zM324 141h3v5h-3zM340 146h4v4h-4z"/>
<path fill="#5d00c2" d="M93 119h3v4h-3zM113 119h3v4h-3zM136 150h3v5h-3z"/>
<path fill="#00ffb4" d="M93 137h3v4h-3zM96 155h4v4h-4zM96 164h4v9h-4zM103 123h3v9h-3zM113 155h3v4h-3zM119 141h3v5h-3z"/>
<path fill="#00ff2f" d="M93 141h3v5h-3zM100 164h3v4h-3zM103 119h3v4h-3zM110 137h3v4h-3zM110 159h3v5h-3zM122 105h4v5h-4zM126 105h3v5h-3zM126 150h3v5h-3z"/>
<path fill="#00d7ff" d="M93 146h3v4h-3zM113 150h3v5h-3zM178 146h3v4h-3zM324 150h3v5h-3z"/>
<path fill="#00f7c3" d="M93 150h3v5h-3zM110 132h3v5h-3zM119 150h3v5h-3zM129 105h3v5h-3z"/>
<path fill="#2108f2" d="M93 164h3v4h-3zM93 173h3v4h-3zM96 123h4v5h-4zM110 128h3v4h-3zM116 110h3v4h-3zM116 137h3v4h-3zM119 168h3v5h-3zM132 114h4v5h-4zM152 105h3v5h-3zM223 141h3v5h-3zM230 155h3v4h-3zM269 141h3v5h-3zM282 123h3v5h-3zM314 119h4v4h-4zM314 128h4v4h-4zM314 173h4v4h-4zM337 150h3v5h-3z"/>
<path fill="#00ff1b" d="M96 96h4v5h-4zM96 146h4v4h-4zM100 114h3v5h-3zM100 159h3v5h-3z"/>
<path fill="#00e7e1" d="M96 101h4v4h-4zM119 96h3v5h-3zM126 123h3v5h-3zM129 114h3v5h-3zM129 141h3v5h-3z"/>
<path fill="#00ff3c" d="M96 105h4v5h-4zM119 146h3v4h-3zM122 132h4v5h-4zM126 114h3v5h-3z"/>
<path fill="#00dff0" d="M96 110h4v4h-4zM129 96h3v5h-3zM129 146h3v4h-3zM129 155h3v4h-3zM139 146h3v4h-3zM152 146h3v4h-3z"/>
<path fill="#00ff64" d="M96 132h4v5h-4zM106 110h4v9h-4zM110 96h3v5h-3z"/>
<path fill="#3cff00" d="M96 137h4v4h-4zM126 155h3v4h-3z"/>
<path fill="#0fff00" d="M96 141h4v5h-4zM100 101h3v4h-3zM100 155h3v4h-3zM103 96h3v5h-3zM126 141h3v5h-3z"/>
<path fill="#2dff00" d="M96 150h4v5h-4zM100 110h3v4h-3zM103 168h3v9h-3zM122 150h4v5h-4zM126 101h3v4h-3z"/>
<path fill="#00ff78" d="M96 159h4v5h-4zM110 110h3v4h-3zM122 119h4v4h-4z"/>
<path fill="#00ff50" d="M96 173h4v4h-4zM100 119h3v4h-3zM110 105h3v5h-3zM110 155h3v4h-3zM122 159h4v5h-4zM126 132h3v5h-3zM126 146h3v4h-3zM126 173h3v4h-3z"/>
<path fill="#00ff21" d="M100 96h3v5h-3zM100 173h3v4h-3zM126 96h3v5h-3zM126 137h3v4h-3z"/>
<path fill="#00ff00" d="M100 105h3v5h-3zM100 137h3v4h-3zM122 155h4v4h-4z"/>
<path fill="#00efd2" d="M100 128h3v4h-3zM119 110h3v4h-3zM122 123h4v5h-4zM122 168h4v5h-4z"/>
<path fill="#00ff14" d="M100 132h3v5h-3zM100 168h3v5h-3zM103 105h3v5h-3zM103 132h3v5h-3zM122 96h4v5h-4z"/>
<path fill="#b1ff00" d="M100 141h3v9h-3z"/>
<path fill="#1eff00" d="M100 150h3v5h-3zM106 137h4v4h-4z"/>
<path fill="#69ff00" d="M103 101h3v4h-3zM110 141h3v5h-3z"/>
<path fill="#95ff00" d="M103 110h3v4h-3zM106 146h4v4h-4z"/>
<path fill="#00ff28" d="M103 114h3v5h-3zM106 96h4v9h-4zM106 132h4v5h-4zM106 164h4v4h-4zM106 173h4v4h-4zM122 114h4v5h-4zM126 159h3v5h-3zM126 168h3v5h-3z"/>
<path fill="#ceff00" d="M103 137h3v4h-3z"/>
<path fill="#ffcd00" d="M103 141h3v5h-3z"/>
<path fill="#ffb100" d="M103 146h3v4h-3z"/>
<path fill="#78ff00" d="M103 150h3v9h-3zM106 150h4v5h-4z"/>
<path fill="#00ff0d" d="M103 159h3v5h-3zM106 105h4v5h-4zM106 155h4v9h-4zM106 168h4v5h-4zM113 146h3v4h-3zM122 164h4v4h-4zM126 119h3v4h-3z"/>
<path fill="#00ff07" d="M103 164h3v4h-3zM110 146h3v9h-3zM122 141h4v9h-4zM126 110h3v4h-3z"/>
<path fill="#00b9ff" d="M106 119h4v4h-4zM113 159h3v5h-3zM116 146h3v4h-3zM132 137h4v4h-4zM314 96h4v5h-4z"/>
<path fill="#c0ff00" d="M106 141h4v5h-4z"/>
<path fill="#00ff35" d="M110 101h3v4h-3zM122 110h4v4h-4zM122 173h4v4h-4zM126 128h3v4h-3z"/>
<path fill="#00ffa0" d="M110 173h3v4h-3zM119 105h3v5h-3z"/>
<path fill="#0056ff" d="M113 114h3v5h-3zM119 173h3v4h-3zM132 141h4v5h-4zM162 150h3v5h-3zM191 141h3v5h-3zM204 150h3v5h-3zM240 128h3v4h-3zM249 141h3v5h-3zM282 119h3v4h-3zM292 132h3v5h-3zM308 150h3v5h-3zM314 164h4v4h-4zM340 150h4v5h-4z"/>
<path fill="#5a00cd" d="M113 128h3v4h-3zM116 119h3v4h-3zM129 128h3v4h-3zM132 159h4v5h-4zM132 168h4v5h-4z"/>
<path fill="#00ff8c" d="M113 141h3v5h-3zM126 164h3v4h-3z"/>
<path fill="#3c00e2" d="M116 159h3v5h-3zM116 173h3v4h-3zM132 119h4v4h-4zM136 101h3v4h-3zM136 132h3v5h-3zM171 159h3v5h-3zM181 137h3v4h-3zM188 168h3v5h-3zM210 132h4v5h-4zM256 96h3v5h-3zM278 150h4v5h-4zM304 150h4v5h-4z"/>
<path fill="#1b11f5" d="M119 128h3v4h-3zM132 132h4v5h-4zM136 114h3v5h-3zM168 123h3v5h-3zM197 150h3v5h-3zM204 141h3v5h-3zM240 150h3v5h-3zM252 146h4v4h-4zM292 146h3v9h-3zM314 105h4v5h-4zM314 137h4v4h-4z"/>
<path fill="#5aff00" d="M122 101h4v4h-4z"/>
<path fill="#4bff00" d="M122 137h4v4h-4z"/>
<path fill="#0c0012" d="M136 123h3v5h-3z"/>
</g>
<clipPath id="cg"><rect x="412.80" y="96.30" width="281.40" height="80.90"/></clipPath>
<g clip-path="url(#cg)" shape-rendering="crispEdges">
<rect x="412.80" y="96.30" width="281.40" height="80.90" fill="#000"/>
<path fill="#320046" d="M411 110h3v4h-3zM411 164h3v4h-3zM414 96h3v5h-3zM414 110h3v4h-3zM417 119h3v4h-3zM424 114h3v5h-3zM433 168h3v9h-3zM436 105h3v5h-3zM486 123h3v5h-3zM489 101h3v4h-3zM492 101h3v4h-3zM492 110h3v4h-3zM492 123h3v9h-3zM495 155h3v4h-3zM504 123h3v5h-3zM507 123h4v5h-4zM511 119h3v4h-3zM511 132h3v5h-3zM514 132h3v5h-3zM517 105h3v5h-3zM517 141h3v5h-3zM520 159h3v5h-3zM523 128h3v4h-3zM529 155h3v4h-3zM535 110h3v4h-3zM538 128h4v4h-4zM545 101h3v4h-3zM545 168h3v5h-3zM554 159h3v5h-3zM554 173h3v4h-3zM570 168h3v5h-3zM576 173h3v4h-3zM582 119h3v4h-3zM585 96h3v5h-3zM591 119h3v4h-3zM604 119h3v4h-3zM604 128h3v4h-3zM607 105h3v5h-3zM610 105h3v5h-3zM616 173h3v4h-3zM622 101h3v4h-3zM622 128h3v4h-3zM625 110h4v4h-4zM629 119h3v4h-3zM635 164h3v4h-3zM650 110h3v4h-3zM653 101h4v4h-4zM666 155h3v4h-3zM669 101h3v4h-3zM672 114h3v5h-3zM672 164h3v4h-3zM675 114h3v5h-3zM681 168h4v5h-4zM685 110h3v4h-3zM685 137h3v4h-3zM685 159h3v5h-3zM688 123h3v5h-3zM691 164h3v4h-3zM694 101h3v4h-3zM694 114h3v5h-3zM694 128h3v4h-3z"/>
<path fill="#0032ff" d="M411 114h3v5h-3zM417 141h3v5h-3zM430 146h3v4h-3zM442 101h3v4h-3zM445 123h3v5h-3zM461 96h3v5h-3zM461 137h3v4h-3zM483 132h3v5h-3zM483 168h3v5h-3zM486 105h3v5h-3zM486 146h3v4h-3zM489 141h3v5h-3zM507 150h4v5h-4zM570 128h3v4h-3zM570 141h3v5h-3zM622 146h3v4h-3zM650 105h3v5h-3zM650 132h3v5h-3z"/>
<path fill="#520074" d="M411 119h3v4h-3zM411 128h3v4h-3zM414 128h3v4h-3zM420 128h4v4h-4zM427 168h3v5h-3zM430 128h3v4h-3zM433 96h3v5h-3zM433 137h3v9h-3zM436 128h3v4h-3zM464 173h3v4h-3zM489 132h3v5h-3zM489 146h3v4h-3zM492 155h3v4h-3zM495 173h3v4h-3zM504 128h3v4h-3zM504 146h3v9h-3zM507 96h4v5h-4zM507 146h4v4h-4zM520 101h3v4h-3zM520 150h3v5h-3zM526 164h3v4h-3zM532 137h3v4h-3zM535 155h3v4h-3zM538 105h4v5h-4zM542 132h3v5h-3zM551 146h3v4h-3zM551 155h3v4h-3zM554 164h3v4h-3zM563 137h3v4h-3zM566 101h4v4h-4zM591 128h3v4h-3zM591 141h3v5h-3zM641 101h3v4h-3zM641 173h3v4h-3zM644 155h3v4h-3zM647 146h3v4h-3zM653 173h4v4h-4zM666 164h3v4h-3zM666 173h3v4h-3zM678 164h3v4h-3z"/>
<path fill="#62008b" d="M411 132h3v5h-3zM414 141h3v5h-3zM417 150h3v5h-3zM420 137h4v4h-4zM424 155h3v4h-3zM424 168h3v5h-3zM433 155h3v4h-3zM436 110h3v4h-3zM436 155h3v4h-3zM470 123h3v5h-3zM486 119h3v4h-3zM492 96h3v5h-3zM495 128h3v4h-3zM495 137h3v4h-3zM495 146h3v4h-3zM501 146h3v4h-3zM507 128h4v4h-4zM523 150h3v5h-3zM526 146h3v4h-3zM526 155h3v4h-3zM532 159h3v5h-3zM535 141h3v5h-3zM538 132h4v5h-4zM545 128h3v4h-3zM557 155h3v4h-3zM566 137h4v4h-4zM573 123h3v5h-3zM576 128h3v4h-3zM594 150h4v5h-4zM601 132h3v5h-3zM601 155h3v4h-3zM601 173h3v4h-3zM604 114h3v5h-3zM610 155h3v4h-3zM616 155h3v4h-3zM622 137h3v4h-3zM625 96h4v5h-4zM625 128h4v4h-4zM629 155h3v4h-3zM629 164h3v4h-3zM632 137h3v4h-3zM632 173h3v4h-3zM635 150h3v5h-3zM638 137h3v4h-3zM638 146h3v4h-3zM641 96h3v5h-3zM641 132h3v5h-3zM641 159h3v5h-3zM644 137h3v4h-3zM647 119h3v4h-3zM647 128h3v9h-3zM650 150h3v9h-3zM657 132h3v5h-3zM657 173h3v4h-3zM666 105h3v5h-3zM666 159h3v5h-3zM666 168h3v5h-3zM669 114h3v5h-3zM672 132h3v5h-3zM675 168h3v5h-3zM678 123h3v5h-3zM678 141h3v5h-3zM681 114h4v5h-4zM681 132h4v5h-4zM685 114h3v5h-3zM685 128h3v4h-3zM685 155h3v4h-3zM691 123h3v5h-3zM691 150h3v5h-3zM694 155h3v4h-3z"/>
<path fill="#4b0069" d="M411 137h3v4h-3zM414 105h3v5h-3zM417 155h3v4h-3zM430 168h3v5h-3zM436 173h3v4h-3zM492 132h3v5h-3zM498 110h3v4h-3zM501 119h3v4h-3zM507 105h4v5h-4zM511 96h3v5h-3zM511 168h3v5h-3zM517 110h3v4h-3zM517 137h3v4h-3zM520 110h3v9h-3zM520 141h3v5h-3zM523 119h3v4h-3zM526 101h3v4h-3zM526 132h3v9h-3zM526 173h3v4h-3zM532 105h3v5h-3zM532 119h3v4h-3zM542 164h3v4h-3zM542 173h3v4h-3zM551 101h3v4h-3zM554 101h3v4h-3zM554 132h3v5h-3zM557 110h3v4h-3zM557 128h3v4h-3zM557 164h3v4h-3zM560 123h3v5h-3zM560 150h3v5h-3zM560 159h3v5h-3zM563 132h3v5h-3zM566 114h4v5h-4zM573 164h3v4h-3zM576 101h3v4h-3zM579 110h3v4h-3zM579 128h3v4h-3zM579 141h3v5h-3zM579 155h3v4h-3zM579 164h3v4h-3zM588 164h3v4h-3zM594 123h4v9h-4zM594 173h4v4h-4zM601 101h3v4h-3zM604 101h3v4h-3zM604 168h3v5h-3zM607 110h3v4h-3zM607 123h3v5h-3zM607 150h3v5h-3zM610 128h3v4h-3zM610 137h3v4h-3zM616 101h3v4h-3zM616 150h3v5h-3zM619 123h3v5h-3zM632 150h3v5h-3zM635 123h3v5h-3zM635 137h3v4h-3zM647 114h3v5h-3zM650 119h3v4h-3zM660 155h3v4h-3zM663 155h3v4h-3zM669 96h3v5h-3zM669 132h3v5h-3zM675 101h3v4h-3zM681 128h4v4h-4zM688 159h3v5h-3zM688 168h3v5h-3zM691 114h3v5h-3zM691 173h3v4h-3z"/>
<path fill="#5a0080" d="M411 141h3v5h-3zM417 128h3v4h-3zM420 96h4v5h-4zM433 132h3v5h-3zM501 141h3v5h-3zM504 168h3v5h-3zM507 110h4v4h-4zM507 132h4v5h-4zM507 168h4v5h-4zM511 141h3v9h-3zM514 137h3v4h-3zM514 155h3v4h-3zM517 119h3v4h-3zM523 132h3v5h-3zM526 110h3v4h-3zM529 119h3v4h-3zM529 137h3v4h-3zM529 150h3v5h-3zM532 114h3v5h-3zM542 105h3v5h-3zM542 123h3v5h-3zM542 168h3v5h-3zM548 155h3v4h-3zM551 168h3v5h-3zM554 141h3v5h-3zM570 155h3v4h-3zM573 173h3v4h-3zM579 150h3v5h-3zM582 110h3v4h-3zM582 137h3v4h-3zM582 173h3v4h-3zM585 132h3v5h-3zM585 146h3v4h-3zM591 132h3v5h-3zM591 155h3v4h-3zM598 137h3v4h-3zM601 96h3v5h-3zM607 141h3v5h-3zM613 155h3v4h-3zM625 141h4v5h-4zM632 159h3v5h-3zM635 132h3v5h-3zM644 150h3v5h-3zM650 137h3v4h-3zM653 132h4v5h-4zM666 119h3v4h-3zM666 150h3v5h-3zM669 141h3v5h-3zM669 173h3v4h-3zM672 137h3v4h-3zM681 110h4v4h-4zM685 132h3v5h-3zM691 96h3v5h-3zM694 150h3v5h-3zM694 168h3v5h-3z"/>
<path fill="#0044ff" d="M411 146h3v4h-3zM427 141h3v5h-3zM439 110h3v4h-3zM461 150h3v5h-3zM464 101h3v4h-3zM464 110h3v4h-3zM467 150h3v5h-3zM467 159h3v5h-3zM483 101h3v4h-3zM489 150h3v5h-3zM498 168h3v5h-3zM563 96h3v5h-3zM594 146h4v4h-4zM607 137h3v4h-3zM622 155h3v4h-3zM650 146h3v4h-3zM657 146h3v4h-3zM660 141h3v5h-3zM663 114h3v5h-3zM663 123h3v5h-3zM669 159h3v5h-3zM672 173h3v4h-3zM678 132h3v5h-3zM694 137h3v4h-3z"/>
<path fill="#260034" d="M411 150h3v5h-3zM420 114h4v5h-4zM424 164h3v4h-3zM427 110h3v4h-3zM427 123h3v5h-3zM427 132h3v5h-3zM430 110h3v4h-3zM433 164h3v4h-3zM464 123h3v5h-3zM486 128h3v4h-3zM489 96h3v5h-3zM489 110h3v4h-3zM489 128h3v4h-3zM489 164h3v4h-3zM492 137h3v4h-3zM492 164h3v4h-3zM501 110h3v4h-3zM504 137h3v4h-3zM511 114h3v5h-3zM514 114h3v5h-3zM514 159h3v5h-3zM520 137h3v4h-3zM523 155h3v4h-3zM526 105h3v5h-3zM532 164h3v4h-3zM532 173h3v4h-3zM542 101h3v4h-3zM542 141h3v5h-3zM551 119h3v4h-3zM554 105h3v5h-3zM554 114h3v5h-3zM554 150h3v5h-3zM560 128h3v4h-3zM563 119h3v4h-3zM563 141h3v5h-3zM563 155h3v4h-3zM563 164h3v4h-3zM570 96h3v5h-3zM570 137h3v4h-3zM570 173h3v4h-3zM573 137h3v4h-3zM582 155h3v4h-3zM585 173h3v4h-3zM588 114h3v5h-3zM588 137h3v4h-3zM588 173h3v4h-3zM591 137h3v4h-3zM594 101h4v4h-4zM594 168h4v5h-4zM598 164h3v4h-3zM601 110h3v4h-3zM613 128h3v4h-3zM613 164h3v4h-3zM616 119h3v4h-3zM619 137h3v4h-3zM619 173h3v4h-3zM622 159h3v5h-3zM625 155h4v4h-4zM638 128h3v4h-3zM641 128h3v4h-3zM641 168h3v5h-3zM647 150h3v5h-3zM650 159h3v5h-3zM650 168h3v5h-3zM660 119h3v4h-3zM672 146h3v4h-3zM675 141h3v5h-3zM681 155h4v4h-4zM685 164h3v4h-3zM688 119h3v4h-3zM688 150h3v5h-3zM694 96h3v5h-3zM694 110h3v4h-3zM694 164h3v4h-3z"/>
<path fill="#690096" d="M411 168h3v5h-3zM414 146h3v4h-3zM417 137h3v4h-3zM424 128h3v4h-3zM427 146h3v4h-3zM427 155h3v4h-3zM433 128h3v4h-3zM436 132h3v5h-3zM439 132h3v5h-3zM439 164h3v4h-3zM486 168h3v5h-3zM495 110h3v4h-3zM495 132h3v5h-3zM498 141h3v5h-3zM501 137h3v4h-3zM507 141h4v5h-4zM511 150h3v5h-3zM517 150h3v5h-3zM520 128h3v4h-3zM523 137h3v4h-3zM523 146h3v4h-3zM532 128h3v4h-3zM532 141h3v5h-3zM532 150h3v5h-3zM538 137h4v4h-4zM542 119h3v4h-3zM545 137h3v4h-3zM548 110h3v4h-3zM554 155h3v4h-3zM557 173h3v4h-3zM560 164h3v4h-3zM563 114h3v5h-3zM573 132h3v5h-3zM573 168h3v5h-3zM576 132h3v5h-3zM582 141h3v5h-3zM585 110h3v4h-3zM585 137h3v4h-3zM588 128h3v4h-3zM594 132h4v5h-4zM594 155h4v4h-4zM601 128h3v4h-3zM601 141h3v5h-3zM604 137h3v13h-3zM607 132h3v5h-3zM613 137h3v4h-3zM613 146h3v4h-3zM619 132h3v5h-3zM622 132h3v5h-3zM625 119h4v4h-4zM625 132h4v5h-4zM625 150h4v5h-4zM632 96h3v5h-3zM638 101h3v4h-3zM638 141h3v5h-3zM641 137h3v4h-3zM647 173h3v4h-3zM650 114h3v5h-3zM657 114h3v5h-3zM657 137h3v4h-3zM660 96h3v5h-3zM666 101h3v4h-3zM666 110h3v4h-3zM666 128h3v4h-3zM669 168h3v5h-3zM672 150h3v5h-3zM678 128h3v4h-3zM681 146h4v4h-4zM685 141h3v5h-3zM685 150h3v5h-3z"/>
<path fill="#3f0058" d="M411 173h3v4h-3zM414 168h3v5h-3zM417 114h3v5h-3zM417 159h3v5h-3zM420 119h4v4h-4zM420 132h4v5h-4zM420 159h4v5h-4zM424 105h3v5h-3zM430 137h3v4h-3zM430 159h3v5h-3zM442 123h3v5h-3zM483 123h3v5h-3zM489 137h3v4h-3zM492 114h3v5h-3zM498 173h3v4h-3zM501 159h3v5h-3zM501 173h3v4h-3zM504 159h3v5h-3zM517 101h3v4h-3zM517 114h3v5h-3zM517 155h3v4h-3zM520 105h3v5h-3zM520 164h3v4h-3zM526 96h3v5h-3zM529 110h3v4h-3zM532 110h3v4h-3zM535 123h3v5h-3zM535 168h3v5h-3zM538 146h4v4h-4zM538 159h4v5h-4zM542 159h3v5h-3zM545 96h3v5h-3zM548 123h3v5h-3zM548 137h3v4h-3zM551 123h3v5h-3zM551 132h3v5h-3zM551 159h3v5h-3zM554 96h3v5h-3zM557 123h3v5h-3zM560 119h3v4h-3zM563 146h3v4h-3zM566 105h4v5h-4zM566 128h4v9h-4zM566 150h4v5h-4zM573 155h3v9h-3zM576 164h3v4h-3zM582 114h3v5h-3zM582 132h3v5h-3zM588 96h3v5h-3zM588 141h3v5h-3zM598 114h3v5h-3zM610 123h3v5h-3zM610 164h3v4h-3zM613 101h3v4h-3zM616 164h3v4h-3zM622 96h3v5h-3zM622 105h3v9h-3zM625 137h4v4h-4zM629 137h3v4h-3zM632 105h3v5h-3zM632 123h3v5h-3zM635 96h3v5h-3zM635 114h3v5h-3zM638 123h3v5h-3zM638 150h3v5h-3zM641 141h3v5h-3zM650 128h3v4h-3zM657 119h3v4h-3zM660 110h3v4h-3zM666 146h3v4h-3zM669 105h3v5h-3zM672 123h3v5h-3zM681 137h4v4h-4zM685 96h3v5h-3zM685 119h3v4h-3zM685 146h3v4h-3zM685 173h3v4h-3zM691 137h3v4h-3zM694 141h3v5h-3zM694 159h3v5h-3z"/>
<path fill="#072afc" d="M414 132h3v5h-3zM439 155h3v4h-3zM442 96h3v5h-3zM442 164h3v4h-3zM455 123h3v5h-3zM458 132h3v5h-3zM461 159h3v5h-3zM467 168h3v5h-3zM479 168h4v5h-4zM483 119h3v4h-3zM483 150h3v5h-3zM483 159h3v5h-3zM486 141h3v5h-3zM492 146h3v4h-3zM495 150h3v5h-3zM498 128h3v4h-3zM548 146h3v4h-3zM594 141h4v5h-4zM598 141h3v5h-3zM607 155h3v4h-3zM610 119h3v4h-3zM629 159h3v5h-3zM635 141h3v5h-3zM638 132h3v5h-3zM653 96h4v5h-4zM663 168h3v5h-3zM666 123h3v5h-3zM678 96h3v5h-3z"/>
<path fill="#6300ac" d="M414 137h3v4h-3zM414 150h3v5h-3zM414 159h3v5h-3zM427 101h3v4h-3zM427 128h3v4h-3zM458 128h3v4h-3zM464 119h3v4h-3zM464 164h3v4h-3zM483 128h3v4h-3zM483 164h3v4h-3zM489 168h3v5h-3zM501 132h3v5h-3zM511 128h3v4h-3zM511 137h3v4h-3zM523 164h3v4h-3zM538 173h4v4h-4zM542 96h3v5h-3zM542 137h3v4h-3zM548 141h3v5h-3zM554 119h3v4h-3zM557 114h3v5h-3zM563 168h3v5h-3zM573 128h3v4h-3zM579 137h3v4h-3zM598 150h3v5h-3zM601 150h3v5h-3zM619 96h3v5h-3zM625 164h4v4h-4zM632 132h3v5h-3zM644 123h3v9h-3zM647 141h3v5h-3zM653 110h4v4h-4zM660 132h3v5h-3zM660 164h3v4h-3zM678 150h3v5h-3zM691 146h3v4h-3z"/>
<path fill="#1b11f5" d="M414 155h3v4h-3zM420 146h4v4h-4zM439 150h3v5h-3zM461 132h3v5h-3zM464 132h3v5h-3zM483 173h3v4h-3zM486 110h3v4h-3zM523 110h3v4h-3zM538 96h4v5h-4zM557 150h3v5h-3zM560 96h3v5h-3zM641 164h3v4h-3zM678 137h3v4h-3zM688 141h3v5h-3z"/>
<path fill="#008cff" d="M417 132h3v5h-3zM417 146h3v4h-3zM442 159h3v5h-3zM442 168h3v5h-3zM445 132h3v5h-3zM458 164h3v4h-3zM464 150h3v5h-3zM504 141h3v5h-3zM523 114h3v5h-3zM591 146h3v4h-3zM663 96h3v5h-3zM678 146h3v4h-3zM691 128h3v4h-3z"/>
<path fill="#0d21fa" d="M417 168h3v5h-3zM424 146h3v4h-3zM436 146h3v4h-3zM439 159h3v5h-3zM442 132h3v5h-3zM458 114h3v5h-3zM464 114h3v5h-3zM464 146h3v4h-3zM517 146h3v4h-3zM520 146h3v4h-3zM523 123h3v5h-3zM526 141h3v5h-3zM545 123h3v5h-3zM598 146h3v4h-3zM619 141h3v5h-3zM632 155h3v4h-3zM663 110h3v4h-3zM663 150h3v5h-3zM666 132h3v5h-3zM669 146h3v4h-3zM675 146h3v4h-3zM678 155h3v4h-3z"/>
<path fill="#00e7e1" d="M420 141h4v5h-4zM451 123h4v5h-4zM467 96h3v5h-3zM473 123h3v5h-3zM479 155h4v4h-4zM483 155h3v4h-3z"/>
<path fill="#2800f0" d="M420 164h4v4h-4zM433 146h3v4h-3zM439 101h3v4h-3zM458 119h3v4h-3zM464 137h3v4h-3zM467 173h3v4h-3zM486 132h3v5h-3zM501 150h3v5h-3zM514 141h3v5h-3zM542 110h3v4h-3zM551 164h3v4h-3zM560 141h3v5h-3zM582 123h3v5h-3zM582 150h3v5h-3zM610 146h3v4h-3zM610 159h3v5h-3zM613 141h3v5h-3zM635 128h3v4h-3zM647 155h3v4h-3zM691 141h3v5h-3z"/>
<path fill="#3c00e2" d="M424 141h3v5h-3zM427 137h3v4h-3zM439 105h3v5h-3zM439 114h3v5h-3zM439 168h3v5h-3zM479 123h4v5h-4zM486 137h3v4h-3zM498 146h3v4h-3zM573 146h3v4h-3zM576 141h3v5h-3zM588 146h3v4h-3zM616 128h3v4h-3zM653 146h4v4h-4z"/>
<path fill="#3200e9" d="M427 150h3v5h-3zM430 141h3v5h-3zM442 150h3v5h-3zM445 128h3v4h-3zM464 96h3v5h-3zM514 123h3v5h-3zM610 141h3v5h-3zM619 128h3v4h-3zM653 150h4v5h-4z"/>
<path fill="#6600a1" d="M430 150h3v5h-3zM461 128h3v4h-3zM467 128h3v4h-3zM486 159h3v9h-3zM489 155h3v4h-3zM492 141h3v5h-3zM492 150h3v5h-3zM492 159h3v5h-3zM495 141h3v5h-3zM498 101h3v4h-3zM501 168h3v5h-3zM504 132h3v5h-3zM507 137h4v4h-4zM514 128h3v4h-3zM514 150h3v5h-3zM520 132h3v5h-3zM523 159h3v5h-3zM526 128h3v4h-3zM529 159h3v5h-3zM535 132h3v9h-3zM538 141h4v5h-4zM538 164h4v4h-4zM542 150h3v5h-3zM548 128h3v9h-3zM548 150h3v5h-3zM551 137h3v4h-3zM554 110h3v4h-3zM554 137h3v4h-3zM557 132h3v5h-3zM560 137h3v4h-3zM566 141h4v5h-4zM570 132h3v5h-3zM576 119h3v4h-3zM576 137h3v4h-3zM582 105h3v5h-3zM585 141h3v5h-3zM585 155h3v4h-3zM588 150h3v5h-3zM591 150h3v5h-3zM594 137h4v4h-4zM598 101h3v4h-3zM601 137h3v4h-3zM601 164h3v4h-3zM604 96h3v5h-3zM610 150h3v5h-3zM610 173h3v4h-3zM613 173h3v4h-3zM616 132h3v5h-3zM625 105h4v5h-4zM629 150h3v5h-3zM632 141h3v5h-3zM635 155h3v4h-3zM638 119h3v4h-3zM641 150h3v5h-3zM644 146h3v4h-3zM653 141h4v5h-4zM657 150h3v5h-3zM660 114h3v5h-3zM660 150h3v5h-3zM669 128h3v4h-3zM672 105h3v5h-3zM672 155h3v4h-3zM675 128h3v9h-3zM675 155h3v4h-3zM688 132h3v5h-3zM694 146h3v4h-3z"/>
<path fill="#2108f2" d="M430 155h3v4h-3zM458 123h3v5h-3zM486 173h3v4h-3zM498 150h3v9h-3zM551 150h3v5h-3zM573 141h3v5h-3zM598 168h3v5h-3zM601 146h3v4h-3zM607 128h3v4h-3zM607 146h3v4h-3zM619 146h3v4h-3zM629 146h3v4h-3zM644 141h3v5h-3zM663 173h3v4h-3zM666 114h3v5h-3zM666 141h3v5h-3zM669 150h3v5h-3zM681 141h4v5h-4zM688 128h3v4h-3zM688 155h3v4h-3z"/>
<path fill="#1419f8" d="M439 96h3v5h-3zM461 101h3v4h-3zM464 159h3v5h-3zM486 101h3v4h-3zM486 155h3v4h-3zM532 132h3v5h-3zM532 146h3v4h-3zM545 141h3v9h-3zM554 146h3v4h-3zM598 132h3v5h-3zM622 141h3v5h-3zM629 128h3v4h-3zM629 168h3v5h-3zM632 128h3v4h-3zM657 141h3v5h-3zM657 155h3v4h-3zM663 132h3v5h-3zM669 155h3v4h-3z"/>
<path fill="#190023" d="M439 119h3v4h-3z"/>
<path fill="#007aff" d="M439 137h3v4h-3zM439 146h3v4h-3zM442 137h3v4h-3zM455 128h3v4h-3zM461 110h3v4h-3zM464 141h3v5h-3zM470 164h3v4h-3zM479 101h4v4h-4zM479 128h4v4h-4zM483 96h3v5h-3zM483 105h3v9h-3zM501 123h3v5h-3zM542 146h3v4h-3zM560 146h3v4h-3zM588 132h3v5h-3zM635 146h3v4h-3zM663 101h3v4h-3zM691 132h3v5h-3z"/>
<path fill="#00dff0" d="M439 141h3v5h-3zM451 128h4v4h-4zM470 173h3v4h-3zM479 105h4v5h-4zM479 137h4v4h-4zM479 150h4v5h-4zM483 141h3v5h-3zM535 146h3v4h-3zM566 146h4v4h-4zM663 105h3v5h-3z"/>
<path fill="#6000b7" d="M439 173h3v4h-3zM467 119h3v4h-3z"/>
<path fill="#00d7ff" d="M442 105h3v5h-3zM445 168h3v5h-3zM458 110h3v4h-3zM467 110h3v4h-3zM476 123h3v5h-3zM479 110h4v4h-4zM641 146h3v4h-3z"/>
<path fill="#0068ff" d="M442 110h3v4h-3zM467 132h3v5h-3zM470 128h3v4h-3zM479 119h4v4h-4zM517 123h3v5h-3zM557 146h3v4h-3zM660 146h3v4h-3zM663 119h3v4h-3z"/>
<path fill="#5000d4" d="M442 114h3v5h-3zM461 168h3v5h-3zM486 96h3v5h-3z"/>
<path fill="#5a00cd" d="M442 119h3v4h-3zM461 114h3v5h-3zM467 123h3v5h-3z"/>
<path fill="#00c8ff" d="M442 141h3v5h-3zM458 168h3v5h-3zM467 101h3v4h-3zM479 159h4v5h-4zM483 146h3v4h-3zM529 146h3v4h-3zM688 146h3v4h-3z"/>
<path fill="#00ff3c" d="M442 146h3v4h-3zM448 128h3v4h-3z"/>
<path fill="#00b9ff" d="M442 155h3v4h-3zM455 119h3v4h-3zM479 96h4v5h-4zM483 114h3v5h-3zM591 105h3v5h-3z"/>
<path fill="#0056ff" d="M442 173h3v4h-3zM461 155h3v4h-3zM464 105h3v5h-3zM486 150h3v5h-3zM616 146h3v4h-3zM632 146h3v4h-3zM663 164h3v4h-3z"/>
<path fill="#00ff78" d="M445 96h3v5h-3zM445 105h3v5h-3zM458 101h3v9h-3zM458 150h3v5h-3zM470 101h3v4h-3zM470 150h3v5h-3zM473 128h3v4h-3z"/>
<path fill="#00ff2f" d="M445 101h3v4h-3zM455 132h3v5h-3zM470 96h3v5h-3zM470 137h3v4h-3zM470 146h3v4h-3zM473 159h3v5h-3z"/>
<path fill="#00ffa0" d="M445 110h3v4h-3zM461 141h3v5h-3zM470 110h3v4h-3zM470 132h3v5h-3zM476 110h3v4h-3zM476 164h3v4h-3zM476 173h3v4h-3z"/>
<path fill="#009bff" d="M445 114h3v5h-3zM448 123h3v5h-3zM458 155h3v9h-3zM461 105h3v5h-3zM467 146h3v4h-3zM467 155h3v4h-3zM479 164h4v4h-4zM483 137h3v4h-3zM570 146h3v4h-3zM576 146h3v4h-3zM582 146h3v4h-3z"/>
<path fill="#00ff64" d="M445 119h3v4h-3zM445 155h3v4h-3zM458 173h3v4h-3zM470 155h3v4h-3zM473 168h3v5h-3zM476 128h3v4h-3zM476 141h3v5h-3z"/>
<path fill="#00ff35" d="M445 137h3v4h-3zM448 132h3v5h-3zM455 101h3v4h-3zM458 146h3v4h-3zM476 155h3v4h-3z"/>
<path fill="#00ff1b" d="M445 141h3v5h-3zM455 105h3v9h-3zM455 150h3v5h-3zM455 173h3v4h-3zM458 141h3v5h-3zM473 132h3v5h-3zM476 114h3v5h-3zM476 146h3v4h-3zM479 141h4v5h-4z"/>
<path fill="#00ff28" d="M445 146h3v4h-3zM445 164h3v4h-3zM455 168h3v5h-3zM473 164h3v4h-3zM476 96h3v5h-3z"/>
<path fill="#00ff21" d="M445 150h3v5h-3zM445 159h3v5h-3zM445 173h3v4h-3zM455 164h3v4h-3zM470 119h3v4h-3zM470 141h3v5h-3zM473 119h3v4h-3z"/>
<path fill="#3cff00" d="M448 96h3v5h-3zM473 105h3v5h-3zM473 150h3v9h-3z"/>
<path fill="#ceff00" d="M448 101h3v4h-3zM448 150h3v5h-3zM448 168h3v5h-3z"/>
<path fill="#86ff00" d="M448 105h3v5h-3zM448 155h3v4h-3zM455 146h3v4h-3z"/>
<path fill="#5aff00" d="M448 110h3v4h-3zM451 101h4v9h-4zM455 155h3v4h-3z"/>
<path fill="#00ff07" d="M448 114h3v5h-3zM451 119h4v4h-4zM455 96h3v5h-3z"/>
<path fill="#00ff50" d="M448 119h3v4h-3zM451 114h4v5h-4zM476 101h3v4h-3zM476 137h3v4h-3z"/>
<path fill="#eff500" d="M448 137h3v4h-3z"/>
<path fill="#c0ff00" d="M448 141h3v5h-3zM451 155h4v4h-4z"/>
<path fill="#fbd700" d="M448 146h3v4h-3z"/>
<path fill="#0fff00" d="M448 159h3v5h-3zM473 114h3v5h-3zM476 150h3v5h-3z"/>
<path fill="#69ff00" d="M448 164h3v4h-3zM451 132h4v5h-4z"/>
<path fill="#95ff00" d="M448 173h3v4h-3zM451 110h4v4h-4zM451 137h4v4h-4zM451 159h4v5h-4zM455 141h3v5h-3z"/>
<path fill="#ddff00" d="M451 96h4v5h-4z"/>
<path fill="#ff9400" d="M451 141h4v5h-4z"/>
<path fill="#b1ff00" d="M451 146h4v4h-4z"/>
<path fill="#78ff00" d="M451 150h4v5h-4zM473 96h3v5h-3z"/>
<path fill="#00ff0d" d="M451 164h4v4h-4zM473 110h3v4h-3z"/>
<path fill="#4bff00" d="M451 168h4v5h-4zM473 137h3v4h-3z"/>
<path fill="#ebff00" d="M451 173h4v4h-4z"/>
<path fill="#00ff8c" d="M455 114h3v5h-3zM461 146h3v4h-3zM470 114h3v5h-3zM470 168h3v5h-3zM476 132h3v5h-3zM479 146h4v4h-4z"/>
<path fill="#2dff00" d="M455 137h3v4h-3zM476 105h3v5h-3z"/>
<path fill="#1eff00" d="M455 159h3v5h-3z"/>
<path fill="#00ffb4" d="M458 96h3v5h-3zM476 159h3v5h-3zM479 114h4v5h-4z"/>
<path fill="#00aaff" d="M458 137h3v4h-3zM514 146h3v4h-3zM538 155h4v4h-4zM557 137h3v4h-3zM573 150h3v5h-3zM579 146h3v4h-3zM613 150h3v5h-3zM625 146h4v4h-4zM663 141h3v9h-3zM663 159h3v5h-3z"/>
<path fill="#5d00c2" d="M461 119h3v4h-3zM464 155h3v4h-3zM486 114h3v5h-3z"/>
<path fill="#4600db" d="M461 164h3v4h-3zM464 168h3v5h-3zM467 164h3v4h-3zM529 132h3v5h-3zM588 168h3v5h-3zM594 164h4v4h-4zM650 141h3v5h-3zM663 128h3v4h-3zM672 119h3v4h-3zM675 150h3v5h-3z"/>
<path fill="#00f7c3" d="M461 173h3v4h-3zM467 105h3v5h-3zM467 114h3v5h-3zM467 141h3v5h-3zM470 159h3v5h-3zM476 168h3v5h-3zM479 132h4v5h-4z"/>
<path fill="#13001a" d="M464 128h3v4h-3z"/>
<path fill="#00efd2" d="M467 137h3v4h-3zM476 119h3v4h-3zM479 173h4v4h-4zM663 137h3v4h-3z"/>
<path fill="#00ff14" d="M470 105h3v5h-3zM473 173h3v4h-3z"/>
<path fill="#00ff00" d="M473 101h3v4h-3zM473 141h3v9h-3z"/>
</g>
<clipPath id="cc"><rect x="63.50" y="180.90" width="280.80" height="79.80"/></clipPath>
<g clip-path="url(#cc)" shape-rendering="crispEdges">
<rect x="63.50" y="180.90" width="280.80" height="79.80" fill="#000"/>
<path fill="#320046" d="M64 181h3v13h-3zM74 221h3v13h-3zM80 194h4v14h-4zM87 208h3v13h-3zM90 181h3v13h-3zM142 181h3v13h-3zM155 194h3v14h-3zM168 194h3v14h-3zM184 208h4v13h-4zM188 194h3v14h-3zM188 234h3v13h-3zM191 194h3v14h-3zM200 247h4v14h-4zM207 208h3v13h-3zM214 208h3v13h-3zM214 247h3v14h-3zM217 194h3v14h-3zM226 181h4v13h-4zM226 247h4v14h-4zM230 181h3v13h-3zM240 181h3v13h-3zM252 194h4v14h-4zM252 221h4v13h-4zM259 181h3v13h-3zM298 208h3v13h-3zM308 181h3v13h-3zM330 247h4v14h-4zM334 181h3v13h-3z"/>
<path fill="#5a0080" d="M64 194h3v14h-3zM70 221h4v13h-4zM70 247h4v14h-4zM77 194h3v27h-3zM77 247h3v14h-3zM80 181h4v13h-4zM139 194h3v14h-3zM148 247h4v14h-4zM165 247h3v14h-3zM178 221h3v13h-3zM188 247h3v14h-3zM207 221h3v13h-3zM217 234h3v13h-3zM220 247h3v14h-3zM230 247h3v14h-3zM233 181h3v13h-3zM233 221h3v13h-3zM240 247h3v14h-3zM246 194h3v14h-3zM272 181h3v13h-3zM278 208h4v26h-4zM321 194h3v14h-3zM324 247h3v14h-3z"/>
<path fill="#6600a1" d="M64 208h3v13h-3zM70 181h4v13h-4zM84 181h3v27h-3zM139 208h3v26h-3zM142 194h3v14h-3zM148 234h4v13h-4zM152 181h3v13h-3zM155 234h3v13h-3zM158 208h4v13h-4zM165 234h3v13h-3zM171 234h3v13h-3zM174 221h4v26h-4zM191 247h3v14h-3zM210 234h4v13h-4zM223 181h3v13h-3zM243 221h3v26h-3zM262 234h4v13h-4zM269 247h3v14h-3zM275 181h3v13h-3zM275 247h3v14h-3zM311 208h3v26h-3zM321 221h3v13h-3z"/>
<path fill="#6300ac" d="M64 221h3v13h-3zM77 234h3v13h-3zM84 247h3v14h-3zM116 247h3v14h-3zM142 221h3v13h-3zM152 194h3v27h-3zM158 221h4v13h-4zM162 194h3v14h-3zM181 247h3v14h-3zM184 234h4v13h-4zM259 247h3v14h-3zM272 247h3v14h-3zM275 221h3v13h-3zM298 194h3v14h-3zM308 221h3v13h-3zM324 221h3v13h-3zM334 194h3v14h-3z"/>
<path fill="#2800f0" d="M64 234h3v13h-3zM80 234h4v13h-4zM136 181h3v13h-3zM145 234h3v13h-3zM158 247h4v14h-4zM301 234h3v13h-3z"/>
<path fill="#6000b7" d="M64 247h3v14h-3zM87 194h3v14h-3zM90 247h3v14h-3zM139 234h3v13h-3zM142 247h3v14h-3zM145 194h3v14h-3zM145 247h3v14h-3zM162 234h3v13h-3zM178 234h3v27h-3zM181 234h3v13h-3zM223 234h3v13h-3zM249 221h3v13h-3zM269 234h3v13h-3zM275 234h3v13h-3zM278 234h4v13h-4zM285 234h3v13h-3zM288 221h4v13h-4zM295 234h3v13h-3zM298 247h3v14h-3zM334 247h3v14h-3zM337 221h3v13h-3zM337 247h3v14h-3z"/>
<path fill="#0c0012" d="M67 194h3v14h-3zM67 247h3v14h-3zM74 194h3v14h-3zM90 208h3v26h-3zM155 181h3v13h-3zM155 208h3v13h-3zM171 181h3v13h-3zM178 194h3v14h-3zM217 247h3v14h-3zM259 194h3v14h-3zM266 194h3v14h-3zM285 181h3v13h-3zM295 208h3v13h-3zM304 208h4v13h-4zM311 181h3v13h-3zM344 194h3v40h-3z"/>
<path fill="#13001a" d="M67 234h3v13h-3zM74 208h3v13h-3zM148 208h4v13h-4zM168 221h3v13h-3zM188 221h3v13h-3zM194 221h3v13h-3zM194 247h3v14h-3zM197 181h3v13h-3zM217 181h3v13h-3zM220 181h3v13h-3zM285 194h3v14h-3zM295 247h3v14h-3zM301 247h3v14h-3z"/>
<path fill="#62008b" d="M70 194h4v14h-4zM74 247h3v14h-3zM80 247h4v14h-4zM139 247h3v14h-3zM152 247h3v14h-3zM155 221h3v13h-3zM191 181h3v13h-3zM204 247h3v14h-3zM207 247h3v14h-3zM214 194h3v14h-3zM226 194h4v14h-4zM226 234h4v13h-4zM230 234h3v13h-3zM236 221h4v13h-4zM240 234h3v13h-3zM243 194h3v14h-3zM249 194h3v27h-3zM249 247h3v14h-3zM256 234h3v13h-3zM262 247h4v14h-4zM278 181h4v13h-4zM285 221h3v13h-3zM292 234h3v27h-3zM311 194h3v14h-3zM311 247h3v14h-3zM318 221h3v13h-3zM324 208h3v13h-3z"/>
<path fill="#690096" d="M70 234h4v13h-4zM74 181h3v13h-3zM84 221h3v13h-3zM87 234h3v13h-3zM90 234h3v13h-3zM148 221h4v13h-4zM158 234h4v13h-4zM168 234h3v13h-3zM197 234h3v13h-3zM204 181h3v13h-3zM204 234h3v13h-3zM210 247h4v14h-4zM214 221h3v13h-3zM220 234h3v13h-3zM223 221h3v13h-3zM230 208h3v26h-3zM233 247h3v14h-3zM236 247h4v14h-4zM240 208h3v13h-3zM243 247h3v14h-3zM249 181h3v13h-3zM272 221h3v13h-3zM292 194h3v14h-3zM301 221h3v13h-3zM304 247h4v14h-4zM327 221h3v13h-3zM334 221h3v13h-3zM340 247h4v14h-4z"/>
<path fill="#5d00c2" d="M74 234h3v13h-3zM158 194h4v14h-4zM162 221h3v13h-3zM162 247h3v14h-3zM210 221h4v13h-4zM233 234h3v13h-3zM236 234h4v13h-4zM246 247h3v14h-3zM249 234h3v13h-3zM252 234h4v13h-4zM272 234h3v13h-3zM298 221h3v13h-3zM304 234h4v13h-4zM311 234h3v13h-3z"/>
<path fill="#520074" d="M77 181h3v13h-3zM77 221h3v13h-3zM87 221h3v13h-3zM139 181h3v13h-3zM142 208h3v13h-3zM162 208h3v13h-3zM165 181h3v13h-3zM165 221h3v13h-3zM171 247h3v14h-3zM178 181h3v13h-3zM204 194h3v27h-3zM210 194h4v14h-4zM214 234h3v13h-3zM240 221h3v13h-3zM246 181h3v13h-3zM246 221h3v13h-3zM266 247h3v14h-3zM288 234h4v13h-4zM295 221h3v13h-3zM301 194h3v14h-3zM304 194h4v14h-4zM304 221h4v13h-4zM308 247h3v14h-3zM318 247h3v14h-3zM324 194h3v14h-3zM337 194h3v14h-3zM344 234h3v27h-3z"/>
<path fill="#4b0069" d="M80 221h4v13h-4zM84 208h3v13h-3zM145 181h3v13h-3zM148 181h4v27h-4zM152 221h3v13h-3zM168 247h3v14h-3zM181 221h3v13h-3zM184 194h4v14h-4zM197 247h3v14h-3zM204 221h3v13h-3zM207 181h3v13h-3zM220 221h3v13h-3zM226 221h4v13h-4zM252 247h4v14h-4zM256 181h3v13h-3zM256 247h3v14h-3zM262 221h4v13h-4zM278 194h4v14h-4zM278 247h4v14h-4zM285 247h3v14h-3zM292 221h3v13h-3zM298 181h3v13h-3zM308 194h3v27h-3zM318 208h3v13h-3zM321 208h3v13h-3zM321 247h3v14h-3zM337 208h3v13h-3zM340 221h4v13h-4z"/>
<path fill="#5a00cd" d="M84 234h3v13h-3zM116 194h3v14h-3zM116 221h3v13h-3zM142 234h3v13h-3zM191 234h3v13h-3zM200 234h4v13h-4zM207 234h3v13h-3zM259 234h3v13h-3zM318 234h3v13h-3z"/>
<path fill="#3f0058" d="M87 247h3v14h-3zM145 208h3v13h-3zM171 221h3v13h-3zM174 194h4v14h-4zM174 247h4v14h-4zM181 181h3v13h-3zM184 221h4v13h-4zM197 194h3v14h-3zM200 221h4v13h-4zM207 194h3v14h-3zM220 194h3v27h-3zM236 181h4v27h-4zM243 181h3v13h-3zM256 194h3v14h-3zM259 221h3v13h-3zM262 194h4v14h-4zM266 221h3v26h-3zM272 194h3v14h-3zM301 208h3v13h-3zM327 208h3v13h-3zM327 247h3v14h-3zM337 181h3v13h-3zM340 234h4v13h-4z"/>
<path fill="#190023" d="M90 194h3v14h-3zM162 181h3v13h-3zM174 181h4v13h-4zM174 208h4v13h-4zM181 194h3v27h-3zM184 247h4v14h-4zM210 181h4v13h-4zM210 208h4v13h-4zM214 181h3v13h-3zM230 194h3v14h-3zM233 194h3v27h-3zM240 194h3v14h-3zM256 221h3v13h-3zM262 181h4v13h-4zM275 208h3v13h-3zM282 247h3v14h-3zM288 194h4v14h-4zM304 181h4v13h-4zM327 194h3v14h-3zM340 181h4v13h-4z"/>
<path fill="#1419f8" d="M93 181h3v13h-3zM93 247h3v14h-3zM113 181h3v13h-3zM113 234h3v13h-3zM116 181h3v13h-3zM308 234h3v13h-3z"/>
<path fill="#072afc" d="M93 194h3v14h-3zM93 234h3v13h-3zM113 221h3v13h-3zM119 194h3v27h-3zM119 247h3v14h-3zM132 247h4v14h-4z"/>
<path fill="#0d21fa" d="M93 208h3v13h-3zM113 208h3v13h-3z"/>
<path fill="#0032ff" d="M93 221h3v13h-3zM113 194h3v14h-3zM119 181h3v13h-3z"/>
<path fill="#00ff8c" d="M96 181h4v13h-4z"/>
<path fill="#00c8ff" d="M96 194h4v14h-4z"/>
<path fill="#00efd2" d="M96 208h4v13h-4zM110 234h3v13h-3zM129 181h3v27h-3zM129 221h3v13h-3z"/>
<path fill="#00ffa0" d="M96 221h4v13h-4zM122 208h4v13h-4z"/>
<path fill="#00e7e1" d="M96 234h4v13h-4zM110 208h3v26h-3zM129 234h3v27h-3z"/>
<path fill="#00d7ff" d="M96 247h4v14h-4zM110 181h3v13h-3z"/>
<path fill="#00ff35" d="M100 181h3v13h-3zM100 221h3v13h-3zM122 234h4v13h-4zM126 247h3v14h-3z"/>
<path fill="#00ff0d" d="M100 194h3v14h-3z"/>
<path fill="#00ff28" d="M100 208h3v13h-3zM100 234h3v13h-3zM103 181h3v13h-3z"/>
<path fill="#00ff3c" d="M100 247h3v14h-3zM106 208h4v13h-4zM122 247h4v14h-4z"/>
<path fill="#0fff00" d="M103 194h3v14h-3z"/>
<path fill="#2dff00" d="M103 208h3v13h-3z"/>
<path fill="#3cff00" d="M103 221h3v13h-3z"/>
<path fill="#00ff00" d="M103 234h3v13h-3z"/>
<path fill="#00ff1b" d="M103 247h3v14h-3zM126 194h3v14h-3z"/>
<path fill="#00ff2f" d="M106 181h4v13h-4zM106 221h4v13h-4z"/>
<path fill="#00ff64" d="M106 194h4v14h-4zM106 247h4v14h-4zM126 234h3v13h-3z"/>
<path fill="#00ff50" d="M106 234h4v13h-4zM126 208h3v13h-3z"/>
<path fill="#00dff0" d="M110 194h3v14h-3z"/>
<path fill="#009bff" d="M110 247h3v14h-3z"/>
<path fill="#0056ff" d="M113 247h3v14h-3zM314 247h4v14h-4z"/>
<path fill="#2108f2" d="M116 208h3v13h-3zM132 208h4v13h-4zM136 221h3v13h-3zM314 181h4v13h-4z"/>
<path fill="#3c00e2" d="M116 234h3v13h-3zM136 194h3v14h-3zM246 234h3v13h-3zM321 234h3v13h-3zM324 234h3v13h-3zM334 234h3v13h-3z"/>
<path fill="#007aff" d="M119 221h3v13h-3zM132 181h4v27h-4zM132 234h4v13h-4zM314 221h4v13h-4z"/>
<path fill="#0044ff" d="M119 234h3v13h-3zM132 221h4v13h-4zM314 194h4v14h-4z"/>
<path fill="#00ffb4" d="M122 181h4v13h-4z"/>
<path fill="#00ff78" d="M122 194h4v14h-4zM122 221h4v13h-4z"/>
<path fill="#00ff21" d="M126 181h3v13h-3zM126 221h3v13h-3z"/>
<path fill="#00f7c3" d="M129 208h3v13h-3z"/>
<path fill="#5000d4" d="M136 208h3v13h-3zM145 221h3v13h-3zM223 247h3v14h-3zM337 234h3v13h-3z"/>
<path fill="#3200e9" d="M136 234h3v27h-3zM269 221h3v13h-3zM298 234h3v13h-3z"/>
<path fill="#4600db" d="M152 234h3v13h-3zM223 194h3v14h-3zM327 234h3v13h-3zM330 234h4v13h-4zM334 208h3v13h-3z"/>
<path fill="#260034" d="M158 181h4v13h-4zM165 194h3v14h-3zM178 208h3v13h-3zM191 208h3v13h-3zM194 181h3v13h-3zM197 221h3v13h-3zM217 208h3v13h-3zM252 181h4v13h-4zM252 208h4v13h-4zM262 208h4v13h-4zM272 208h3v13h-3zM288 208h4v13h-4zM288 247h4v14h-4zM318 194h3v14h-3zM321 181h3v13h-3zM330 221h4v13h-4zM340 194h4v27h-4z"/>
<path fill="#060009" d="M191 221h3v13h-3zM197 208h3v13h-3zM223 208h3v13h-3zM246 208h3v13h-3zM269 194h3v14h-3zM288 181h4v13h-4z"/>
<path fill="#008cff" d="M314 208h4v13h-4z"/>
<path fill="#00aaff" d="M314 234h4v13h-4z"/>
</g>
<clipPath id="ch"><rect x="412.80" y="180.90" width="281.40" height="79.80"/></clipPath>
<g clip-path="url(#ch)" shape-rendering="crispEdges">
<rect x="412.80" y="180.90" width="281.40" height="79.80" fill="#000"/>
<path fill="#260034" d="M411 181h3v13h-3zM417 247h3v14h-3zM420 247h4v14h-4zM424 194h3v14h-3zM427 221h3v13h-3zM433 208h3v13h-3zM439 221h3v13h-3zM495 247h3v14h-3zM498 181h3v13h-3zM504 181h3v13h-3zM504 221h3v13h-3zM507 247h4v14h-4zM529 194h3v14h-3zM535 181h3v13h-3zM535 208h3v13h-3zM535 247h3v14h-3zM542 181h3v13h-3zM545 208h3v13h-3zM554 221h3v13h-3zM563 221h3v13h-3zM566 208h4v13h-4zM576 221h3v13h-3zM607 247h3v14h-3zM613 181h3v13h-3zM619 181h3v13h-3zM625 181h4v13h-4zM669 221h3v13h-3zM675 221h3v13h-3zM681 181h4v13h-4z"/>
<path fill="#320046" d="M411 194h3v14h-3zM414 181h3v13h-3zM417 221h3v13h-3zM427 247h3v14h-3zM430 208h3v13h-3zM433 221h3v13h-3zM439 181h3v13h-3zM489 181h3v13h-3zM498 194h3v27h-3zM504 208h3v13h-3zM507 194h4v14h-4zM514 181h3v13h-3zM545 181h3v13h-3zM545 221h3v13h-3zM551 208h3v13h-3zM570 221h3v13h-3zM579 247h3v14h-3zM582 208h3v13h-3zM591 181h3v13h-3zM619 194h3v14h-3zM632 194h3v14h-3zM635 194h3v14h-3zM638 181h3v13h-3zM638 234h3v13h-3zM675 181h3v13h-3zM685 194h3v14h-3zM688 234h3v13h-3z"/>
<path fill="#3f0058" d="M411 221h3v13h-3zM424 181h3v13h-3zM436 181h3v13h-3zM436 208h3v13h-3zM498 247h3v14h-3zM520 221h3v13h-3zM542 247h3v14h-3zM545 194h3v14h-3zM557 194h3v14h-3zM560 221h3v13h-3zM566 181h4v27h-4zM566 234h4v13h-4zM573 221h3v13h-3zM594 194h4v27h-4zM601 221h3v13h-3zM604 194h3v14h-3zM610 181h3v13h-3zM638 194h3v14h-3zM647 194h3v14h-3zM681 194h4v40h-4z"/>
<path fill="#5a00cd" d="M411 234h3v13h-3zM489 234h3v13h-3zM492 247h3v14h-3zM517 234h3v13h-3zM535 234h3v13h-3zM557 234h3v13h-3zM560 247h3v14h-3zM570 234h3v13h-3zM588 194h3v14h-3zM588 221h3v13h-3zM591 234h3v13h-3zM616 221h3v13h-3zM653 234h4v13h-4zM685 234h3v13h-3z"/>
<path fill="#5a0080" d="M411 247h3v14h-3zM433 181h3v13h-3zM495 234h3v13h-3zM520 194h3v14h-3zM520 247h3v14h-3zM523 181h3v27h-3zM554 234h3v13h-3zM566 247h4v14h-4zM576 247h3v14h-3zM582 221h3v13h-3zM601 194h3v14h-3zM604 247h3v14h-3zM610 194h3v14h-3zM616 208h3v13h-3zM619 247h3v14h-3zM622 221h3v13h-3zM660 194h3v14h-3zM678 194h3v14h-3zM685 181h3v13h-3zM691 234h3v13h-3zM694 181h3v13h-3z"/>
<path fill="#190023" d="M414 194h3v14h-3zM417 181h3v40h-3zM427 194h3v14h-3zM436 194h3v14h-3zM511 247h3v14h-3zM523 208h3v13h-3zM526 181h3v13h-3zM529 181h3v13h-3zM529 221h3v13h-3zM538 181h4v27h-4zM551 181h3v13h-3zM582 194h3v14h-3zM588 208h3v13h-3zM591 221h3v13h-3zM598 194h3v14h-3zM601 181h3v13h-3zM607 234h3v13h-3zM622 181h3v13h-3zM625 234h4v27h-4zM647 221h3v13h-3zM660 181h3v13h-3zM672 208h3v13h-3zM691 208h3v13h-3zM694 194h3v14h-3z"/>
<path fill="#6600a1" d="M414 221h3v13h-3zM430 181h3v13h-3zM430 247h3v14h-3zM433 247h3v14h-3zM436 247h3v14h-3zM439 247h3v14h-3zM492 181h3v13h-3zM495 221h3v13h-3zM517 181h3v53h-3zM517 247h3v14h-3zM529 234h3v13h-3zM635 221h3v26h-3zM644 221h3v13h-3zM650 247h3v14h-3zM657 234h3v13h-3zM691 221h3v13h-3z"/>
<path fill="#3c00e2" d="M414 234h3v13h-3zM417 234h3v13h-3zM420 234h4v13h-4zM433 234h3v13h-3zM436 221h3v13h-3zM464 194h3v14h-3zM464 247h3v14h-3zM486 221h3v13h-3zM492 221h3v26h-3zM501 194h3v14h-3zM514 234h3v27h-3zM660 234h3v13h-3zM672 247h3v14h-3z"/>
<path fill="#62008b" d="M414 247h3v14h-3zM427 234h3v13h-3zM439 208h3v13h-3zM489 194h3v14h-3zM507 234h4v13h-4zM514 221h3v13h-3zM520 234h3v13h-3zM523 234h3v13h-3zM548 181h3v13h-3zM570 247h3v14h-3zM585 247h3v14h-3zM604 181h3v13h-3zM604 221h3v13h-3zM616 181h3v13h-3zM619 234h3v13h-3zM622 234h3v13h-3zM672 181h3v27h-3zM685 221h3v13h-3zM688 247h3v14h-3z"/>
<path fill="#0c0012" d="M420 208h4v26h-4zM511 194h3v14h-3zM526 208h3v13h-3zM554 247h3v14h-3zM560 181h3v13h-3zM560 208h3v13h-3zM576 208h3v13h-3zM582 181h3v13h-3zM598 208h3v13h-3zM625 221h4v13h-4zM632 181h3v13h-3zM638 247h3v14h-3zM641 247h3v14h-3zM653 194h4v14h-4zM669 181h3v13h-3z"/>
<path fill="#13001a" d="M424 208h3v13h-3zM495 208h3v13h-3zM507 181h4v13h-4zM523 247h3v14h-3zM526 194h3v14h-3zM532 221h3v13h-3zM532 247h3v14h-3zM538 221h4v13h-4zM551 194h3v14h-3zM557 181h3v13h-3zM557 221h3v13h-3zM573 247h3v14h-3zM622 208h3v13h-3zM635 208h3v13h-3zM641 234h3v13h-3zM644 181h3v13h-3zM657 181h3v13h-3zM660 208h3v13h-3zM688 181h3v13h-3zM691 181h3v13h-3z"/>
<path fill="#5d00c2" d="M424 221h3v13h-3zM467 234h3v13h-3zM492 208h3v13h-3zM498 234h3v13h-3zM532 234h3v13h-3zM548 221h3v13h-3zM548 247h3v14h-3zM551 247h3v14h-3zM594 247h4v14h-4zM638 221h3v13h-3zM678 221h3v13h-3zM685 247h3v14h-3zM691 247h3v14h-3z"/>
<path fill="#0d21fa" d="M424 234h3v13h-3zM442 221h3v13h-3z"/>
<path fill="#520074" d="M424 247h3v14h-3zM498 221h3v13h-3zM504 194h3v14h-3zM504 247h3v14h-3zM507 221h4v13h-4zM526 234h3v13h-3zM529 247h3v14h-3zM535 221h3v13h-3zM538 247h4v14h-4zM542 221h3v13h-3zM566 221h4v13h-4zM570 194h3v14h-3zM576 234h3v13h-3zM579 234h3v13h-3zM585 194h3v14h-3zM585 221h3v13h-3zM594 181h4v13h-4zM594 221h4v13h-4zM598 221h3v13h-3zM598 247h3v14h-3zM635 181h3v13h-3zM635 247h3v14h-3zM647 181h3v13h-3zM650 221h3v13h-3zM657 194h3v14h-3zM657 221h3v13h-3zM681 247h4v14h-4zM685 208h3v13h-3z"/>
<path fill="#690096" d="M430 194h3v14h-3zM430 221h3v13h-3zM433 194h3v14h-3zM439 234h3v13h-3zM486 181h3v13h-3zM489 208h3v13h-3zM501 208h3v13h-3zM511 221h3v13h-3zM545 234h3v13h-3zM548 208h3v13h-3zM551 221h3v13h-3zM579 194h3v14h-3zM591 247h3v14h-3zM598 234h3v13h-3zM607 221h3v13h-3zM619 221h3v13h-3zM647 234h3v13h-3zM678 247h3v14h-3zM681 234h4v13h-4zM691 194h3v14h-3z"/>
<path fill="#2108f2" d="M430 234h3v13h-3zM442 234h3v13h-3zM464 234h3v13h-3zM467 194h3v14h-3zM486 208h3v13h-3zM616 234h3v13h-3zM663 194h3v14h-3z"/>
<path fill="#4600db" d="M436 234h3v13h-3zM489 221h3v13h-3zM551 234h3v13h-3zM601 234h3v27h-3zM675 234h3v27h-3zM694 221h3v13h-3z"/>
<path fill="#4b0069" d="M439 194h3v14h-3zM495 181h3v27h-3zM504 234h3v13h-3zM514 208h3v13h-3zM520 181h3v13h-3zM523 221h3v13h-3zM526 221h3v13h-3zM526 247h3v14h-3zM542 194h3v14h-3zM542 234h3v13h-3zM545 247h3v14h-3zM557 208h3v13h-3zM557 247h3v14h-3zM570 208h3v13h-3zM585 234h3v13h-3zM588 181h3v13h-3zM591 194h3v14h-3zM598 181h3v13h-3zM613 194h3v14h-3zM613 247h3v14h-3zM632 221h3v13h-3zM650 181h3v27h-3zM653 221h4v13h-4zM672 221h3v13h-3zM694 208h3v13h-3zM694 247h3v14h-3z"/>
<path fill="#0056ff" d="M442 181h3v13h-3zM483 181h3v13h-3zM663 208h3v13h-3zM666 208h3v26h-3z"/>
<path fill="#1b11f5" d="M442 194h3v14h-3zM464 181h3v13h-3zM467 181h3v13h-3zM467 208h3v13h-3z"/>
<path fill="#3200e9" d="M442 208h3v13h-3zM442 247h3v14h-3zM467 247h3v14h-3zM669 247h3v14h-3z"/>
<path fill="#00d7ff" d="M445 181h3v13h-3zM461 208h3v13h-3zM470 181h3v13h-3zM470 221h3v13h-3z"/>
<path fill="#00b9ff" d="M445 194h3v14h-3zM461 247h3v14h-3z"/>
<path fill="#00ff78" d="M445 208h3v13h-3z"/>
<path fill="#00ffb4" d="M445 221h3v26h-3zM479 221h4v13h-4z"/>
<path fill="#00c8ff" d="M445 247h3v14h-3zM470 234h3v13h-3zM479 247h4v14h-4z"/>
<path fill="#1eff00" d="M448 181h3v13h-3zM455 221h3v13h-3z"/>
<path fill="#00ff14" d="M448 194h3v14h-3zM476 234h3v13h-3z"/>
<path fill="#0fff00" d="M448 208h3v13h-3zM451 181h4v27h-4zM451 247h4v14h-4zM455 194h3v14h-3zM476 181h3v13h-3z"/>
<path fill="#00ff1b" d="M448 221h3v13h-3zM455 208h3v13h-3zM473 181h3v13h-3zM476 194h3v14h-3z"/>
<path fill="#00ff00" d="M448 234h3v13h-3zM451 234h4v13h-4zM455 234h3v13h-3zM473 221h3v13h-3z"/>
<path fill="#00ff2f" d="M448 247h3v14h-3z"/>
<path fill="#00ff0d" d="M451 208h4v13h-4zM476 208h3v13h-3z"/>
<path fill="#2dff00" d="M451 221h4v13h-4zM473 234h3v13h-3z"/>
<path fill="#00ff07" d="M455 181h3v13h-3zM455 247h3v14h-3zM473 208h3v13h-3z"/>
<path fill="#00ff35" d="M458 181h3v13h-3z"/>
<path fill="#00e7e1" d="M458 194h3v14h-3zM461 194h3v14h-3zM479 181h4v13h-4zM479 234h4v13h-4zM663 234h3v13h-3z"/>
<path fill="#00ff3c" d="M458 208h3v13h-3z"/>
<path fill="#00ff64" d="M458 221h3v13h-3z"/>
<path fill="#00ffa0" d="M458 234h3v27h-3z"/>
<path fill="#00dff0" d="M461 181h3v13h-3z"/>
<path fill="#009bff" d="M461 221h3v13h-3z"/>
<path fill="#007aff" d="M461 234h3v13h-3zM470 208h3v13h-3zM483 221h3v13h-3zM663 247h3v14h-3zM666 234h3v13h-3z"/>
<path fill="#1419f8" d="M464 208h3v26h-3zM483 208h3v13h-3zM501 247h3v14h-3zM666 194h3v14h-3z"/>
<path fill="#2800f0" d="M467 221h3v13h-3zM492 194h3v14h-3zM501 181h3v13h-3zM501 221h3v13h-3zM672 234h3v13h-3z"/>
<path fill="#00aaff" d="M470 194h3v14h-3zM666 247h3v14h-3z"/>
<path fill="#0068ff" d="M470 247h3v14h-3z"/>
<path fill="#00ff28" d="M473 194h3v14h-3zM476 221h3v13h-3z"/>
<path fill="#00ff21" d="M473 247h3v14h-3zM476 247h3v14h-3z"/>
<path fill="#00efd2" d="M479 194h4v27h-4z"/>
<path fill="#072afc" d="M483 194h3v14h-3zM663 221h3v13h-3z"/>
<path fill="#0032ff" d="M483 234h3v13h-3z"/>
<path fill="#0044ff" d="M483 247h3v14h-3zM501 234h3v13h-3zM663 181h3v13h-3zM666 181h3v13h-3z"/>
<path fill="#6000b7" d="M486 194h3v14h-3zM486 247h3v14h-3zM535 194h3v14h-3zM538 234h4v13h-4zM548 234h3v13h-3zM582 234h3v13h-3zM616 194h3v14h-3zM616 247h3v14h-3zM644 234h3v27h-3zM678 234h3v13h-3z"/>
<path fill="#5000d4" d="M486 234h3v13h-3zM489 247h3v14h-3zM560 234h3v13h-3zM588 234h3v27h-3zM604 234h3v13h-3zM610 234h3v13h-3zM653 247h4v14h-4zM657 247h3v14h-3zM669 234h3v13h-3z"/>
<path fill="#060009" d="M511 181h3v13h-3zM511 208h3v13h-3zM538 208h4v13h-4zM563 181h3v13h-3zM563 247h3v14h-3zM573 234h3v13h-3zM585 181h3v13h-3zM585 208h3v13h-3zM601 208h3v13h-3zM610 208h3v13h-3zM622 194h3v14h-3zM625 194h4v14h-4zM632 247h3v14h-3zM638 208h3v13h-3zM644 194h3v27h-3zM653 208h4v13h-4zM669 208h3v13h-3z"/>
<path fill="#6300ac" d="M511 234h3v13h-3zM514 194h3v14h-3zM548 194h3v14h-3zM560 194h3v14h-3zM582 247h3v14h-3zM594 234h4v13h-4zM610 221h3v13h-3zM610 247h3v14h-3zM613 221h3v26h-3zM632 234h3v13h-3zM647 247h3v14h-3zM650 234h3v13h-3zM660 221h3v13h-3zM660 247h3v14h-3zM678 181h3v13h-3zM678 208h3v13h-3zM688 194h3v14h-3zM694 234h3v13h-3z"/>
</g>
<clipPath id="cd"><rect x="63.50" y="263.30" width="280.80" height="80.60"/></clipPath>
<g clip-path="url(#cd)" shape-rendering="crispEdges">
<rect x="63.50" y="263.30" width="280.80" height="80.60" fill="#000"/>
<path fill="#2108f2" d="M64 263h3v10h-3zM116 285h3v11h-3zM165 296h3v11h-3zM191 296h3v11h-3zM200 273h4v12h-4zM204 273h3v12h-3zM223 296h3v11h-3zM249 273h3v12h-3zM262 307h4v11h-4zM298 273h3v12h-3zM304 296h4v11h-4zM314 307h4v11h-4z"/>
<path fill="#0032ff" d="M64 273h3v12h-3zM80 285h4v11h-4zM90 285h3v11h-3zM132 307h4v11h-4zM139 285h3v11h-3zM152 263h3v10h-3zM165 273h3v12h-3zM188 296h3v11h-3zM204 307h3v11h-3zM220 307h3v11h-3zM226 307h4v11h-4zM230 263h3v10h-3zM230 285h3v11h-3zM259 307h3v11h-3zM262 285h4v11h-4zM266 263h3v10h-3zM272 307h3v11h-3zM295 307h3v11h-3zM304 307h4v11h-4zM308 307h3v11h-3zM318 307h3v11h-3zM330 296h4v11h-4zM334 273h3v12h-3z"/>
<path fill="#690096" d="M64 285h3v11h-3zM67 285h3v22h-3zM70 273h4v12h-4zM162 285h3v11h-3zM171 296h3v11h-3zM178 285h3v11h-3zM207 263h3v10h-3zM240 263h3v10h-3zM249 296h3v11h-3zM262 296h4v11h-4zM266 273h3v12h-3zM324 273h3v12h-3z"/>
<path fill="#072afc" d="M64 296h3v11h-3zM77 296h3v11h-3zM93 307h3v11h-3zM139 263h3v10h-3zM155 296h3v11h-3zM158 273h4v12h-4zM162 307h3v11h-3zM194 296h3v11h-3zM252 307h4v11h-4zM275 296h3v11h-3zM311 263h3v10h-3zM311 307h3v11h-3zM334 296h3v22h-3zM340 296h4v11h-4zM344 285h3v11h-3z"/>
<path fill="#009bff" d="M64 307h3v11h-3zM77 307h3v11h-3zM87 285h3v11h-3zM113 307h3v11h-3zM116 273h3v12h-3zM119 273h3v12h-3zM155 263h3v10h-3zM204 296h3v11h-3zM246 273h3v12h-3zM288 296h4v11h-4zM301 307h3v11h-3zM314 273h4v12h-4zM344 307h3v11h-3z"/>
<path fill="#0fff00" d="M64 318h3v12h-3zM103 285h3v11h-3zM106 263h4v10h-4zM165 318h3v12h-3zM188 318h3v12h-3zM275 318h3v12h-3zM337 318h3v12h-3zM340 318h4v12h-4z"/>
<path fill="#f61300" d="M64 330h3v11h-3zM67 330h3v11h-3zM256 330h3v11h-3z"/>
<path fill="#fff" d="M64 341h3v3h-3zM67 341h3v3h-3zM70 341h4v3h-4zM74 341h3v3h-3zM77 341h3v3h-3zM80 341h4v3h-4zM84 341h3v3h-3zM87 341h3v3h-3zM90 341h3v3h-3zM93 341h3v3h-3zM96 341h4v3h-4zM100 341h3v3h-3zM103 341h3v3h-3zM106 341h4v3h-4zM110 341h3v3h-3zM113 341h3v3h-3zM116 341h3v3h-3zM119 341h3v3h-3zM122 341h4v3h-4zM126 341h3v3h-3zM129 341h3v3h-3zM132 341h4v3h-4zM136 341h3v3h-3zM139 341h3v3h-3zM142 341h3v3h-3zM145 341h3v3h-3zM148 341h4v3h-4zM152 341h3v3h-3zM155 341h3v3h-3zM158 341h4v3h-4zM162 341h3v3h-3zM165 341h3v3h-3zM168 341h3v3h-3zM171 341h3v3h-3zM174 341h4v3h-4zM178 341h3v3h-3zM181 341h3v3h-3zM184 341h4v3h-4zM188 341h3v3h-3zM191 341h3v3h-3zM194 341h3v3h-3zM197 341h3v3h-3zM200 341h4v3h-4zM204 341h3v3h-3zM207 341h3v3h-3zM210 341h4v3h-4zM214 341h3v3h-3zM217 341h3v3h-3zM220 341h3v3h-3zM223 341h3v3h-3zM226 341h4v3h-4zM230 341h3v3h-3zM233 341h3v3h-3zM236 341h4v3h-4zM240 341h3v3h-3zM243 341h3v3h-3zM246 341h3v3h-3zM249 341h3v3h-3zM252 341h4v3h-4zM256 341h3v3h-3zM259 341h3v3h-3zM262 341h4v3h-4zM266 341h3v3h-3zM269 341h3v3h-3zM272 341h3v3h-3zM275 341h3v3h-3zM278 341h4v3h-4zM282 341h3v3h-3zM285 341h3v3h-3zM288 341h4v3h-4zM292 341h3v3h-3zM295 341h3v3h-3zM298 341h3v3h-3zM301 341h3v3h-3zM304 341h4v3h-4zM308 341h3v3h-3zM311 341h3v3h-3zM314 341h4v3h-4zM318 341h3v3h-3zM321 341h3v3h-3zM324 341h3v3h-3zM327 341h3v3h-3zM330 341h4v3h-4zM334 341h3v3h-3zM337 341h3v3h-3zM340 341h4v3h-4zM344 341h3v3h-3z"/>
<path fill="#6600a1" d="M67 273h3v12h-3zM142 273h3v12h-3zM145 263h3v10h-3zM148 285h4v11h-4zM165 263h3v10h-3zM184 263h4v10h-4zM188 273h3v23h-3zM200 296h4v11h-4zM210 285h4v11h-4zM217 263h3v10h-3zM217 296h3v11h-3zM220 273h3v12h-3zM223 285h3v11h-3zM233 296h3v11h-3zM236 285h4v22h-4zM243 263h3v10h-3zM256 296h3v11h-3zM259 296h3v11h-3zM262 273h4v12h-4zM269 285h3v11h-3zM272 296h3v11h-3zM285 263h3v10h-3zM292 273h3v12h-3zM314 285h4v11h-4zM318 263h3v10h-3zM327 273h3v12h-3zM340 285h4v11h-4z"/>
<path fill="#3200e9" d="M67 307h3v11h-3zM84 285h3v11h-3zM136 263h3v10h-3zM181 285h3v11h-3zM204 263h3v10h-3zM249 263h3v10h-3zM340 273h4v12h-4z"/>
<path fill="#1eff00" d="M67 318h3v12h-3zM70 318h4v12h-4zM87 318h3v12h-3zM116 318h3v12h-3zM126 307h3v11h-3zM129 318h3v12h-3zM132 318h4v12h-4zM136 318h3v12h-3zM148 318h4v12h-4zM223 318h3v12h-3zM246 318h3v12h-3zM292 318h3v12h-3zM301 318h3v12h-3zM308 318h3v12h-3zM311 318h3v12h-3zM321 318h3v12h-3zM324 318h3v12h-3z"/>
<path fill="#1419f8" d="M70 263h4v10h-4zM136 285h3v11h-3zM136 307h3v11h-3zM155 285h3v11h-3zM171 307h3v11h-3zM178 296h3v11h-3zM214 296h3v11h-3zM246 296h3v11h-3zM275 273h3v12h-3zM282 307h3v11h-3zM288 307h4v11h-4zM337 307h3v11h-3z"/>
<path fill="#4b0069" d="M70 296h4v11h-4zM74 285h3v22h-3zM142 263h3v10h-3zM152 273h3v12h-3zM168 263h3v10h-3zM174 263h4v10h-4zM223 263h3v10h-3zM233 273h3v12h-3zM246 285h3v11h-3zM311 285h3v11h-3z"/>
<path fill="#007aff" d="M70 307h4v11h-4zM80 307h4v11h-4zM84 307h3v11h-3zM93 296h3v11h-3zM158 307h4v11h-4zM184 307h4v11h-4zM197 296h3v22h-3zM240 307h3v11h-3zM259 263h3v10h-3zM285 307h3v11h-3zM292 263h3v10h-3zM321 307h3v11h-3z"/>
<path fill="#fb1600" d="M70 330h4v11h-4zM74 330h3v11h-3zM77 330h3v11h-3zM87 330h3v11h-3zM116 330h3v11h-3zM119 330h3v11h-3zM126 330h3v11h-3zM129 330h3v11h-3zM139 330h3v11h-3zM145 330h3v11h-3zM155 330h3v11h-3zM165 330h3v11h-3zM171 330h3v11h-3zM181 330h3v11h-3zM184 330h4v11h-4zM188 330h3v11h-3zM197 330h3v11h-3zM200 330h4v11h-4zM220 330h3v11h-3zM259 330h3v11h-3zM269 330h3v11h-3zM275 330h3v11h-3zM288 330h4v11h-4zM301 330h3v11h-3zM308 330h3v11h-3zM321 330h3v11h-3zM324 330h3v11h-3zM327 330h3v11h-3zM334 330h3v11h-3zM340 330h4v11h-4z"/>
<path fill="#0056ff" d="M74 263h3v10h-3zM90 307h3v11h-3zM162 263h3v10h-3zM165 307h3v11h-3zM188 307h3v11h-3zM220 285h3v11h-3zM230 307h3v11h-3zM243 307h3v11h-3zM324 263h3v10h-3zM327 296h3v11h-3z"/>
<path fill="#0044ff" d="M74 273h3v12h-3zM113 273h3v12h-3zM132 263h4v10h-4zM139 307h3v11h-3zM155 307h3v11h-3zM168 307h3v11h-3zM174 296h4v11h-4zM178 307h3v11h-3zM181 307h3v11h-3zM217 285h3v11h-3zM243 285h3v11h-3zM252 273h4v12h-4zM262 263h4v10h-4zM269 273h3v12h-3zM278 307h4v11h-4zM288 273h4v12h-4zM327 307h3v11h-3zM330 285h4v11h-4zM337 263h3v10h-3zM337 296h3v11h-3zM340 307h4v11h-4z"/>
<path fill="#00b9ff" d="M74 307h3v11h-3zM194 273h3v12h-3zM298 296h3v11h-3z"/>
<path fill="#2dff00" d="M74 318h3v12h-3zM90 318h3v12h-3zM126 285h3v11h-3zM184 318h4v12h-4zM210 318h4v12h-4zM266 318h3v12h-3zM269 318h3v12h-3zM272 318h3v12h-3zM288 318h4v12h-4zM327 318h3v12h-3z"/>
<path fill="#0d21fa" d="M77 273h3v12h-3zM84 296h3v11h-3zM132 285h4v11h-4zM168 296h3v11h-3zM233 307h3v11h-3zM269 263h3v10h-3zM278 285h4v11h-4zM292 296h3v11h-3zM298 307h3v11h-3zM301 273h3v12h-3zM330 307h4v11h-4z"/>
<path fill="#3f0058" d="M77 285h3v11h-3zM214 285h3v11h-3zM259 285h3v11h-3zM272 263h3v10h-3zM308 263h3v10h-3zM318 296h3v11h-3zM330 273h4v12h-4z"/>
<path fill="#00ff00" d="M77 318h3v12h-3zM80 318h4v12h-4zM106 273h4v12h-4zM233 318h3v12h-3zM259 318h3v12h-3zM282 318h3v12h-3zM314 318h4v12h-4zM334 318h3v12h-3z"/>
<path fill="#260034" d="M80 273h4v12h-4zM139 296h3v11h-3zM171 263h3v10h-3zM217 273h3v12h-3zM220 263h3v10h-3zM301 285h3v11h-3zM308 296h3v11h-3z"/>
<path fill="#6300ac" d="M80 296h4v11h-4zM152 296h3v11h-3zM158 296h4v11h-4zM165 285h3v11h-3zM184 273h4v12h-4zM207 273h3v12h-3zM226 285h4v11h-4zM230 273h3v12h-3zM236 263h4v10h-4zM252 285h4v11h-4zM266 285h3v11h-3zM282 263h3v10h-3zM295 296h3v11h-3z"/>
<path fill="#ff1900" d="M80 330h4v11h-4zM84 330h3v11h-3zM93 330h3v11h-3zM96 330h4v11h-4zM100 330h3v11h-3zM103 330h3v11h-3zM110 330h3v11h-3zM113 330h3v11h-3zM122 330h4v11h-4zM132 330h4v11h-4zM136 330h3v11h-3zM142 330h3v11h-3zM148 330h4v11h-4zM152 330h3v11h-3zM162 330h3v11h-3zM168 330h3v11h-3zM174 330h4v11h-4zM178 330h3v11h-3zM191 330h3v11h-3zM194 330h3v11h-3zM204 330h3v11h-3zM207 330h3v11h-3zM210 330h4v11h-4zM214 330h3v11h-3zM217 330h3v11h-3zM223 330h3v11h-3zM226 330h4v11h-4zM230 330h3v11h-3zM233 330h3v11h-3zM236 330h4v11h-4zM240 330h3v11h-3zM243 330h3v11h-3zM246 330h3v11h-3zM249 330h3v11h-3zM252 330h4v11h-4zM262 330h4v11h-4zM266 330h3v11h-3zM272 330h3v11h-3zM282 330h3v11h-3zM285 330h3v11h-3zM292 330h3v11h-3zM295 330h3v11h-3zM298 330h3v11h-3zM311 330h3v11h-3zM314 330h4v11h-4zM318 330h3v11h-3zM330 330h4v11h-4zM337 330h3v11h-3zM344 330h3v11h-3z"/>
<path fill="#00efd2" d="M84 263h3v10h-3zM110 307h3v11h-3zM282 296h3v11h-3z"/>
<path fill="#86ff00" d="M84 318h3v12h-3zM103 296h3v22h-3zM207 318h3v12h-3zM304 318h4v12h-4zM318 318h3v12h-3z"/>
<path fill="#1b11f5" d="M87 296h3v11h-3zM90 296h3v11h-3zM136 296h3v11h-3zM158 263h4v10h-4zM174 273h4v12h-4zM181 296h3v11h-3zM243 296h3v11h-3zM249 307h3v11h-3zM266 296h3v11h-3zM282 273h3v12h-3zM292 307h3v11h-3zM327 263h3v10h-3z"/>
<path fill="#008cff" d="M87 307h3v11h-3zM119 307h3v11h-3zM132 273h4v12h-4zM142 307h3v11h-3zM194 307h3v11h-3zM200 307h4v11h-4zM214 307h3v11h-3zM249 285h3v11h-3zM256 263h3v10h-3zM256 307h3v11h-3zM269 307h3v11h-3zM275 307h3v11h-3zM285 296h3v11h-3z"/>
<path fill="#320046" d="M90 263h3v10h-3zM142 285h3v11h-3zM148 273h4v12h-4zM178 273h3v12h-3zM181 273h3v12h-3zM188 263h3v10h-3zM191 263h3v10h-3zM194 285h3v11h-3zM197 263h3v10h-3zM220 296h3v11h-3zM223 273h3v12h-3zM226 296h4v11h-4zM243 273h3v12h-3zM272 273h3v12h-3zM314 263h4v10h-4zM344 296h3v11h-3z"/>
<path fill="#62008b" d="M90 273h3v12h-3zM142 296h3v11h-3zM148 263h4v10h-4zM158 285h4v11h-4zM162 296h3v11h-3zM174 285h4v11h-4zM184 285h4v11h-4zM197 273h3v23h-3zM214 273h3v12h-3zM275 285h3v11h-3zM282 285h3v11h-3zM298 285h3v11h-3zM308 273h3v23h-3zM327 285h3v11h-3z"/>
<path fill="#ff2900" d="M90 330h3v11h-3zM106 330h4v11h-4zM158 330h4v11h-4zM278 330h4v11h-4zM304 330h4v11h-4z"/>
<path fill="#0068ff" d="M93 263h3v10h-3zM113 263h3v10h-3zM116 307h3v11h-3zM132 296h4v11h-4zM148 307h4v11h-4zM191 307h3v11h-3zM210 307h4v11h-4zM246 307h3v11h-3zM266 307h3v11h-3zM324 307h3v11h-3zM330 263h4v10h-4z"/>
<path fill="#00c8ff" d="M93 273h3v12h-3zM152 307h3v11h-3z"/>
<path fill="#00aaff" d="M93 285h3v11h-3zM116 263h3v10h-3zM116 296h3v11h-3zM119 296h3v11h-3zM174 307h4v11h-4zM217 307h3v11h-3zM223 307h3v11h-3zM226 263h4v10h-4zM230 296h3v11h-3zM269 296h3v11h-3zM278 263h4v10h-4zM295 273h3v12h-3zM298 263h3v10h-3zM324 296h3v11h-3z"/>
<path fill="#5aff00" d="M93 318h3v12h-3zM145 318h3v12h-3zM155 318h3v12h-3zM191 318h3v12h-3zM194 318h3v12h-3zM330 318h4v12h-4z"/>
<path fill="#00ff78" d="M96 263h4v10h-4z"/>
<path fill="#00ff50" d="M96 273h4v23h-4zM129 285h3v11h-3z"/>
<path fill="#00ffa0" d="M96 296h4v11h-4zM113 296h3v11h-3zM129 296h3v11h-3z"/>
<path fill="#00ff35" d="M96 307h4v11h-4zM110 273h3v12h-3zM122 273h4v12h-4z"/>
<path fill="#69ff00" d="M96 318h4v12h-4zM106 318h4v12h-4zM110 318h3v12h-3zM122 318h4v12h-4zM220 318h3v12h-3zM226 318h4v12h-4zM256 318h3v12h-3z"/>
<path fill="#f7e100" d="M100 263h3v22h-3zM103 273h3v12h-3z"/>
<path fill="#ceff00" d="M100 285h3v11h-3z"/>
<path fill="#78ff00" d="M100 296h3v11h-3zM142 318h3v12h-3zM152 318h3v12h-3zM230 318h3v12h-3z"/>
<path fill="#ebff00" d="M100 307h3v11h-3z"/>
<path fill="#b1ff00" d="M100 318h3v12h-3zM103 263h3v10h-3zM204 318h3v12h-3z"/>
<path fill="#ffb100" d="M103 318h3v12h-3z"/>
<path fill="#4bff00" d="M106 285h4v11h-4zM158 318h4v12h-4zM168 318h3v12h-3zM181 318h3v12h-3zM197 318h3v12h-3zM214 318h3v12h-3zM252 318h4v12h-4zM262 318h4v12h-4zM278 318h4v12h-4zM295 318h3v12h-3zM344 318h3v12h-3z"/>
<path fill="#00ff07" d="M106 296h4v11h-4zM113 318h3v12h-3zM126 263h3v10h-3zM217 318h3v12h-3zM298 318h3v12h-3z"/>
<path fill="#00ff64" d="M106 307h4v11h-4zM119 285h3v11h-3zM122 296h4v11h-4zM129 263h3v10h-3z"/>
<path fill="#00ff3c" d="M110 263h3v10h-3zM110 285h3v11h-3zM122 263h4v10h-4z"/>
<path fill="#00ff8c" d="M110 296h3v11h-3zM122 307h4v11h-4z"/>
<path fill="#2800f0" d="M113 285h3v11h-3zM152 285h3v11h-3zM178 263h3v10h-3zM207 307h3v11h-3zM236 307h4v11h-4zM252 296h4v11h-4zM285 273h3v12h-3zM288 285h4v11h-4zM304 285h4v11h-4zM311 273h3v12h-3zM318 285h3v11h-3z"/>
<path fill="#00ffb4" d="M119 263h3v10h-3z"/>
<path fill="#3cff00" d="M119 318h3v12h-3zM139 318h3v12h-3zM178 318h3v12h-3zM236 318h4v12h-4zM240 318h3v12h-3zM249 318h3v12h-3zM285 318h3v12h-3z"/>
<path fill="#00ff0d" d="M122 285h4v11h-4z"/>
<path fill="#00ff1b" d="M126 273h3v12h-3zM243 318h3v12h-3z"/>
<path fill="#00ff2f" d="M126 296h3v11h-3z"/>
<path fill="#ddff00" d="M126 318h3v12h-3z"/>
<path fill="#00d7ff" d="M129 273h3v12h-3zM145 307h3v11h-3z"/>
<path fill="#00f7c3" d="M129 307h3v11h-3z"/>
<path fill="#5000d4" d="M136 273h3v12h-3z"/>
<path fill="#5a0080" d="M139 273h3v12h-3zM145 285h3v11h-3zM148 296h4v11h-4zM295 285h3v11h-3zM334 263h3v10h-3zM340 263h4v10h-4z"/>
<path fill="#520074" d="M145 273h3v12h-3zM155 273h3v12h-3zM168 273h3v12h-3zM200 263h4v10h-4zM210 296h4v11h-4zM252 263h4v10h-4zM301 263h3v10h-3zM311 296h3v11h-3zM334 285h3v11h-3z"/>
<path fill="#00ff14" d="M162 318h3v12h-3z"/>
<path fill="#a3ff00" d="M171 318h3v12h-3z"/>
<path fill="#95ff00" d="M174 318h4v12h-4zM200 318h4v12h-4z"/>
<path fill="#3c00e2" d="M184 296h4v11h-4zM200 285h4v11h-4zM207 296h3v11h-3zM226 273h4v12h-4zM236 273h4v12h-4zM256 273h3v23h-3zM295 263h3v10h-3zM321 285h3v11h-3z"/>
<path fill="#4600db" d="M233 285h3v11h-3zM304 263h4v10h-4z"/>
<path fill="#00e7e1" d="M240 273h3v12h-3zM318 273h3v12h-3z"/>
<path fill="#00dff0" d="M321 296h3v11h-3z"/>
</g>
<clipPath id="ci"><rect x="412.80" y="263.30" width="281.40" height="80.60"/></clipPath>
<g clip-path="url(#ci)" shape-rendering="crispEdges">
<rect x="412.80" y="263.30" width="281.40" height="80.60" fill="#000"/>
<path fill="#320046" d="M411 263h3v6h-3zM414 269h3v10h-3zM417 263h3v6h-3zM427 300h3v9h-3zM433 263h3v6h-3zM436 263h3v16h-3zM492 309h3v10h-3zM504 289h3v11h-3zM511 269h3v10h-3zM520 309h3v10h-3zM535 300h3v9h-3zM538 309h4v10h-4zM566 300h4v9h-4zM585 279h3v10h-3zM647 289h3v11h-3zM663 269h3v10h-3zM666 269h3v10h-3zM688 263h3v6h-3zM691 279h3v10h-3z"/>
<path fill="#690096" d="M411 269h3v20h-3zM430 263h3v6h-3zM433 279h3v10h-3zM495 263h3v6h-3zM501 289h3v11h-3zM532 269h3v20h-3zM542 289h3v11h-3zM545 309h3v10h-3zM548 309h3v10h-3zM573 269h3v10h-3zM585 269h3v10h-3zM588 289h3v11h-3zM591 269h3v10h-3zM594 289h4v11h-4zM594 309h4v10h-4zM604 289h3v11h-3zM607 300h3v9h-3zM613 300h3v9h-3zM616 279h3v10h-3zM638 289h3v11h-3zM650 279h3v10h-3zM657 289h3v11h-3z"/>
<path fill="#3c00e2" d="M411 289h3v11h-3zM430 269h3v10h-3zM439 263h3v6h-3zM445 300h3v19h-3zM610 289h3v11h-3zM613 269h3v10h-3zM622 269h3v10h-3z"/>
<path fill="#0032ff" d="M411 300h3v9h-3zM430 289h3v11h-3zM433 300h3v9h-3zM483 263h3v6h-3zM486 289h3v11h-3zM517 269h3v10h-3zM545 279h3v10h-3zM563 289h3v11h-3zM570 300h3v9h-3zM610 319h3v10h-3zM613 319h3v10h-3zM644 319h3v10h-3zM663 319h3v10h-3zM669 289h3v11h-3zM672 300h3v9h-3zM681 319h4v10h-4z"/>
<path fill="#1b11f5" d="M411 309h3v10h-3zM442 300h3v9h-3zM498 309h3v10h-3zM514 300h3v9h-3zM529 263h3v6h-3zM557 263h3v6h-3zM560 269h3v10h-3zM570 319h3v10h-3zM576 319h3v10h-3zM616 269h3v10h-3zM657 263h3v6h-3zM663 309h3v10h-3zM675 319h3v10h-3zM688 319h3v10h-3z"/>
<path fill="#009bff" d="M411 319h3v10h-3zM483 300h3v9h-3zM538 279h4v10h-4zM542 319h3v10h-3zM560 289h3v11h-3zM579 319h3v10h-3zM582 319h3v10h-3zM610 269h3v10h-3zM616 309h3v10h-3zM650 319h3v10h-3zM688 289h3v11h-3zM691 269h3v10h-3zM694 319h3v10h-3z"/>
<path fill="#95ff00" d="M411 329h3v10h-3zM451 279h4v10h-4zM476 329h3v10h-3zM538 329h4v10h-4zM560 329h3v10h-3zM563 329h3v10h-3zM570 329h3v10h-3zM579 329h3v10h-3zM613 329h3v10h-3zM641 329h3v10h-3zM660 329h3v10h-3zM691 329h3v10h-3z"/>
<path fill="#ff1900" d="M411 339h3v5h-3zM414 339h3v5h-3zM417 339h3v5h-3zM424 339h3v5h-3zM427 339h3v5h-3zM430 339h3v5h-3zM433 339h3v5h-3zM436 339h3v5h-3zM439 339h3v5h-3zM455 339h3v5h-3zM458 339h3v5h-3zM461 339h3v5h-3zM492 339h3v5h-3zM498 339h3v5h-3zM501 339h3v5h-3zM511 339h3v5h-3zM520 339h3v5h-3zM532 339h3v5h-3zM548 339h3v5h-3zM551 339h3v5h-3zM557 339h3v5h-3zM560 339h3v5h-3zM563 339h3v5h-3zM573 339h3v5h-3zM582 339h3v5h-3zM594 339h4v5h-4zM604 339h3v5h-3zM607 339h3v5h-3zM610 339h3v5h-3zM613 339h3v5h-3zM616 339h3v5h-3zM635 339h3v5h-3zM641 339h3v5h-3zM647 339h3v5h-3zM669 339h3v5h-3zM685 339h3v5h-3zM688 339h3v5h-3z"/>
<path fill="#520074" d="M414 263h3v6h-3zM498 279h3v10h-3zM520 279h3v10h-3zM526 309h3v10h-3zM532 289h3v11h-3zM538 300h4v9h-4zM542 269h3v10h-3zM582 309h3v10h-3zM616 289h3v11h-3zM622 289h3v11h-3zM644 309h3v10h-3zM660 309h3v10h-3zM685 279h3v10h-3z"/>
<path fill="#62008b" d="M414 289h3v11h-3zM495 289h3v11h-3zM501 269h3v10h-3zM507 269h4v10h-4zM511 279h3v10h-3zM520 263h3v6h-3zM529 279h3v10h-3zM545 269h3v10h-3zM548 300h3v9h-3zM551 300h3v9h-3zM563 269h3v10h-3zM573 279h3v10h-3zM576 269h3v10h-3zM579 309h3v10h-3zM582 263h3v6h-3zM582 279h3v10h-3zM588 279h3v10h-3zM598 263h3v6h-3zM610 263h3v6h-3zM622 300h3v19h-3zM625 309h4v10h-4zM632 263h3v6h-3zM632 289h3v11h-3zM647 263h3v6h-3zM650 289h3v11h-3zM675 300h3v9h-3z"/>
<path fill="#2108f2" d="M414 300h3v9h-3zM436 309h3v10h-3zM464 309h3v10h-3zM517 289h3v11h-3zM535 289h3v11h-3zM538 269h4v10h-4zM563 300h3v9h-3zM582 269h3v10h-3zM591 319h3v10h-3zM598 309h3v10h-3zM694 279h3v10h-3z"/>
<path fill="#0068ff" d="M414 319h3v10h-3zM464 319h3v10h-3zM467 263h3v6h-3zM504 319h3v10h-3zM507 319h4v10h-4zM517 319h3v10h-3zM535 319h3v10h-3zM545 319h3v10h-3zM557 309h3v10h-3zM560 319h3v10h-3zM601 289h3v11h-3zM607 279h3v10h-3zM607 319h3v10h-3zM619 309h3v10h-3zM622 319h3v10h-3zM635 319h3v10h-3zM657 319h3v10h-3z"/>
<path fill="#c0ff00" d="M414 329h3v10h-3zM451 300h4v9h-4zM511 329h3v10h-3zM619 329h3v10h-3zM694 329h3v10h-3z"/>
<path fill="#0d21fa" d="M417 269h3v10h-3zM442 263h3v16h-3zM483 289h3v11h-3zM483 309h3v10h-3zM495 319h3v10h-3zM520 319h3v10h-3zM526 300h3v9h-3zM529 269h3v10h-3zM535 263h3v6h-3zM554 319h3v10h-3zM585 309h3v20h-3zM601 263h3v6h-3zM629 319h3v10h-3zM647 319h3v10h-3zM657 279h3v10h-3zM691 300h3v9h-3z"/>
<path fill="#4b0069" d="M417 279h3v10h-3zM420 279h4v10h-4zM424 289h3v20h-3zM436 300h3v9h-3zM495 300h3v9h-3zM498 263h3v16h-3zM507 300h4v19h-4zM517 279h3v10h-3zM523 309h3v10h-3zM526 289h3v11h-3zM538 263h4v6h-4zM560 309h3v10h-3zM576 263h3v6h-3zM576 289h3v11h-3zM579 263h3v6h-3zM591 309h3v10h-3zM594 269h4v10h-4zM598 279h3v21h-3zM610 300h3v9h-3zM629 263h3v6h-3zM629 279h3v10h-3zM663 263h3v6h-3zM669 263h3v6h-3zM694 269h3v10h-3z"/>
<path fill="#3f0058" d="M417 289h3v11h-3zM424 279h3v10h-3zM427 309h3v10h-3zM436 289h3v11h-3zM489 263h3v6h-3zM489 289h3v11h-3zM504 269h3v10h-3zM504 309h3v10h-3zM507 263h4v6h-4zM517 300h3v9h-3zM520 269h3v10h-3zM520 300h3v9h-3zM551 269h3v10h-3zM554 309h3v10h-3zM557 279h3v10h-3zM591 263h3v6h-3zM619 263h3v6h-3zM638 300h3v9h-3zM650 269h3v10h-3zM663 300h3v9h-3zM666 279h3v10h-3zM669 279h3v10h-3zM678 269h3v10h-3z"/>
<path fill="#260034" d="M417 309h3v10h-3zM420 300h4v9h-4zM436 279h3v10h-3zM492 289h3v11h-3zM507 279h4v10h-4zM511 289h3v11h-3zM517 309h3v10h-3zM529 289h3v11h-3zM535 279h3v10h-3zM548 279h3v10h-3zM563 263h3v6h-3zM570 289h3v11h-3zM570 309h3v10h-3zM576 279h3v10h-3zM579 279h3v10h-3zM588 309h3v10h-3zM604 279h3v10h-3zM613 289h3v11h-3zM619 269h3v10h-3zM625 289h4v11h-4zM660 279h3v10h-3zM660 300h3v9h-3zM666 309h3v10h-3zM685 289h3v11h-3zM685 309h3v10h-3zM688 300h3v9h-3zM694 263h3v6h-3z"/>
<path fill="#00aaff" d="M417 319h3v10h-3zM467 289h3v11h-3zM470 300h3v9h-3zM489 300h3v9h-3zM576 300h3v9h-3zM588 300h3v9h-3zM588 319h3v10h-3zM601 319h3v10h-3zM607 263h3v6h-3zM607 289h3v11h-3zM625 300h4v9h-4zM638 319h3v10h-3zM660 319h3v10h-3zM675 279h3v10h-3zM681 300h4v9h-4z"/>
<path fill="#5aff00" d="M417 329h3v10h-3zM420 329h4v10h-4zM427 329h3v10h-3zM458 300h3v19h-3zM476 279h3v10h-3zM486 329h3v10h-3zM588 329h3v10h-3zM598 329h3v10h-3zM622 329h3v10h-3zM678 329h3v10h-3z"/>
<path fill="#1419f8" d="M420 269h4v10h-4zM424 309h3v10h-3zM427 279h3v10h-3zM464 279h3v10h-3zM523 319h3v10h-3zM535 269h3v10h-3zM538 289h4v11h-4zM557 300h3v9h-3zM598 269h3v10h-3zM666 289h3v11h-3z"/>
<path fill="#2800f0" d="M420 289h4v11h-4zM424 269h3v10h-3zM439 279h3v21h-3zM442 319h3v10h-3zM445 319h3v10h-3zM486 269h3v10h-3zM486 319h3v10h-3zM504 279h3v10h-3zM504 300h3v9h-3zM517 263h3v6h-3zM535 309h3v10h-3zM566 279h4v10h-4zM641 279h3v10h-3zM669 309h3v10h-3zM678 289h3v20h-3zM681 269h4v10h-4z"/>
<path fill="#00c8ff" d="M420 319h4v10h-4zM464 289h3v11h-3zM467 319h3v10h-3zM529 319h3v10h-3zM653 263h4v6h-4z"/>
<path fill="#fb1600" d="M420 339h4v5h-4zM442 339h3v5h-3zM445 339h3v5h-3zM448 339h3v5h-3zM451 339h4v5h-4zM464 339h3v5h-3zM467 339h3v5h-3zM470 339h3v5h-3zM483 339h3v5h-3zM486 339h3v5h-3zM495 339h3v5h-3zM507 339h4v5h-4zM517 339h3v5h-3zM523 339h3v5h-3zM526 339h3v5h-3zM529 339h3v5h-3zM538 339h4v5h-4zM542 339h3v5h-3zM545 339h3v5h-3zM554 339h3v5h-3zM570 339h3v5h-3zM576 339h3v5h-3zM585 339h3v5h-3zM588 339h3v5h-3zM591 339h3v5h-3zM598 339h3v5h-3zM601 339h3v5h-3zM619 339h3v5h-3zM622 339h3v5h-3zM625 339h4v5h-4zM629 339h3v5h-3zM638 339h3v5h-3zM644 339h3v5h-3zM650 339h3v5h-3zM653 339h4v5h-4zM657 339h3v5h-3zM660 339h3v5h-3zM663 339h3v5h-3zM666 339h3v5h-3zM672 339h3v5h-3zM675 339h3v5h-3zM678 339h3v5h-3zM681 339h4v5h-4zM691 339h3v5h-3zM694 339h3v5h-3z"/>
<path fill="#0056ff" d="M424 319h3v10h-3zM483 279h3v10h-3zM483 319h3v10h-3zM526 319h3v10h-3zM532 319h3v10h-3zM598 319h3v10h-3zM619 279h3v10h-3zM625 269h4v10h-4zM644 300h3v9h-3zM688 309h3v10h-3z"/>
<path fill="#69ff00" d="M424 329h3v10h-3zM473 309h3v10h-3zM514 329h3v10h-3zM554 329h3v10h-3zM573 329h3v10h-3zM594 329h4v10h-4zM625 329h4v10h-4zM632 329h3v10h-3zM675 329h3v10h-3z"/>
<path fill="#3200e9" d="M427 269h3v10h-3zM445 269h3v10h-3zM486 279h3v10h-3zM486 300h3v9h-3zM492 263h3v6h-3zM492 300h3v9h-3zM511 300h3v9h-3zM570 263h3v26h-3zM582 300h3v9h-3zM594 300h4v9h-4zM601 300h3v9h-3zM644 279h3v10h-3zM685 269h3v10h-3zM685 300h3v9h-3z"/>
<path fill="#00b9ff" d="M427 319h3v10h-3z"/>
<path fill="#5a0080" d="M430 300h3v9h-3zM433 269h3v10h-3zM439 269h3v10h-3zM495 279h3v10h-3zM501 300h3v9h-3zM514 263h3v6h-3zM523 263h3v6h-3zM529 300h3v19h-3zM532 263h3v6h-3zM545 289h3v11h-3zM548 289h3v11h-3zM551 263h3v6h-3zM551 289h3v11h-3zM560 263h3v6h-3zM560 300h3v9h-3zM573 263h3v6h-3zM579 269h3v10h-3zM585 300h3v9h-3zM610 279h3v10h-3zM619 300h3v9h-3zM629 309h3v10h-3zM635 300h3v9h-3zM641 309h3v10h-3zM644 269h3v10h-3zM657 269h3v10h-3zM681 309h4v10h-4zM688 279h3v10h-3z"/>
<path fill="#0044ff" d="M430 319h3v10h-3zM467 300h3v9h-3zM483 269h3v10h-3zM486 263h3v6h-3zM486 309h3v10h-3zM489 319h3v10h-3zM514 269h3v10h-3zM523 279h3v10h-3zM554 289h3v11h-3zM557 269h3v10h-3zM557 319h3v10h-3zM563 279h3v10h-3zM576 309h3v10h-3zM582 289h3v11h-3zM601 269h3v10h-3zM604 269h3v10h-3zM632 319h3v10h-3zM635 309h3v10h-3zM638 269h3v10h-3zM641 269h3v10h-3zM650 263h3v6h-3zM653 319h4v10h-4zM672 289h3v11h-3zM672 319h3v10h-3zM691 263h3v6h-3zM694 309h3v10h-3z"/>
<path fill="#86ff00" d="M430 329h3v10h-3zM445 329h3v10h-3zM470 329h3v10h-3zM495 329h3v10h-3zM504 329h3v10h-3zM520 329h3v10h-3zM542 329h3v10h-3zM548 329h3v10h-3zM604 329h3v10h-3zM650 329h3v10h-3z"/>
<path fill="#6600a1" d="M433 309h3v10h-3zM439 309h3v10h-3zM489 309h3v10h-3zM492 269h3v10h-3zM501 309h3v10h-3zM514 309h3v10h-3zM523 269h3v10h-3zM523 300h3v9h-3zM532 309h3v10h-3zM542 309h3v10h-3zM554 279h3v10h-3zM566 269h4v10h-4zM629 289h3v11h-3zM638 263h3v6h-3zM638 279h3v10h-3zM641 263h3v6h-3zM641 289h3v11h-3zM644 263h3v6h-3zM644 289h3v11h-3zM647 279h3v10h-3zM650 300h3v19h-3zM657 300h3v9h-3zM660 269h3v10h-3zM669 269h3v10h-3zM672 263h3v6h-3zM672 309h3v10h-3zM678 263h3v6h-3zM678 279h3v10h-3z"/>
<path fill="#072afc" d="M433 319h3v10h-3zM442 279h3v10h-3zM442 309h3v10h-3zM445 279h3v10h-3zM511 319h3v10h-3zM526 269h3v10h-3zM566 263h4v6h-4zM566 319h4v10h-4zM573 309h3v10h-3zM591 289h3v11h-3zM594 319h4v10h-4zM604 319h3v10h-3zM610 309h3v10h-3zM629 269h3v10h-3zM653 309h4v10h-4zM666 300h3v9h-3zM666 319h3v10h-3zM685 319h3v10h-3zM691 289h3v11h-3z"/>
<path fill="#3cff00" d="M433 329h3v10h-3zM473 279h3v10h-3zM473 319h3v10h-3zM523 329h3v10h-3zM629 329h3v10h-3zM638 329h3v10h-3z"/>
<path fill="#007aff" d="M436 319h3v10h-3zM501 319h3v10h-3zM507 289h4v11h-4zM548 319h3v10h-3zM573 319h3v10h-3zM616 319h3v10h-3zM619 319h3v10h-3zM641 319h3v10h-3zM663 279h3v10h-3zM669 300h3v9h-3zM669 319h3v10h-3zM678 319h3v10h-3zM691 319h3v10h-3z"/>
<path fill="#ceff00" d="M436 329h3v10h-3zM458 269h3v10h-3zM582 329h3v10h-3zM657 329h3v10h-3zM666 329h3v10h-3z"/>
<path fill="#6000b7" d="M439 300h3v9h-3z"/>
<path fill="#5000d4" d="M439 319h3v10h-3zM442 289h3v11h-3z"/>
<path fill="#a3ff00" d="M439 329h3v10h-3zM442 329h3v10h-3zM448 329h3v10h-3zM479 329h4v10h-4zM507 329h4v10h-4zM585 329h3v10h-3zM591 329h3v10h-3zM672 329h3v10h-3z"/>
<path fill="#4600db" d="M445 263h3v6h-3zM445 289h3v11h-3zM625 319h4v10h-4zM632 269h3v10h-3zM632 309h3v10h-3z"/>
<path fill="#00efd2" d="M448 263h3v6h-3zM464 269h3v10h-3zM526 263h3v6h-3zM694 289h3v11h-3z"/>
<path fill="#00ff2f" d="M448 269h3v10h-3zM470 279h3v10h-3z"/>
<path fill="#00ff78" d="M448 279h3v10h-3z"/>
<path fill="#00ff07" d="M448 289h3v11h-3zM473 269h3v10h-3zM476 309h3v20h-3zM557 329h3v10h-3z"/>
<path fill="#00ff0d" d="M448 300h3v9h-3zM458 289h3v11h-3z"/>
<path fill="#00f7c3" d="M448 309h3v10h-3zM467 279h3v10h-3zM470 319h3v10h-3zM498 289h3v11h-3zM635 269h3v10h-3z"/>
<path fill="#00ffa0" d="M448 319h3v10h-3zM461 269h3v10h-3zM479 300h4v9h-4zM479 319h4v10h-4z"/>
<path fill="#ddff00" d="M451 263h4v16h-4zM607 329h3v10h-3z"/>
<path fill="#b1ff00" d="M451 289h4v11h-4zM458 263h3v6h-3zM458 319h3v10h-3zM467 329h3v10h-3zM473 329h3v10h-3zM483 329h3v10h-3zM489 329h3v10h-3zM616 329h3v10h-3zM644 329h3v10h-3zM647 329h3v10h-3z"/>
<path fill="#ebff00" d="M451 309h4v10h-4zM455 263h3v6h-3zM455 309h3v10h-3zM455 329h3v10h-3zM681 329h4v10h-4z"/>
<path fill="#78ff00" d="M451 319h4v10h-4zM458 279h3v10h-3zM458 329h3v10h-3zM461 329h3v10h-3zM473 300h3v9h-3zM501 329h3v10h-3zM517 329h3v10h-3zM566 329h4v10h-4zM610 329h3v10h-3z"/>
<path fill="#ffb100" d="M451 329h4v10h-4z"/>
<path fill="#ff9400" d="M455 269h3v20h-3z"/>
<path fill="#f3eb00" d="M455 289h3v11h-3z"/>
<path fill="#ffcd00" d="M455 300h3v9h-3zM455 319h3v10h-3z"/>
<path fill="#00e7e1" d="M461 263h3v6h-3zM461 289h3v11h-3zM479 263h4v6h-4zM688 269h3v10h-3zM694 300h3v9h-3z"/>
<path fill="#00ff64" d="M461 279h3v10h-3z"/>
<path fill="#00ffb4" d="M461 300h3v9h-3zM470 263h3v6h-3z"/>
<path fill="#00ff35" d="M461 309h3v10h-3zM476 300h3v9h-3zM479 269h4v10h-4z"/>
<path fill="#00ff1b" d="M461 319h3v10h-3z"/>
<path fill="#008cff" d="M464 263h3v6h-3zM464 300h3v9h-3zM467 269h3v10h-3zM501 279h3v10h-3zM511 309h3v10h-3zM514 319h3v10h-3zM538 319h4v10h-4zM551 319h3v10h-3zM601 309h3v10h-3zM635 289h3v11h-3zM653 300h4v9h-4zM663 289h3v11h-3z"/>
<path fill="#4bff00" d="M464 329h3v10h-3zM492 329h3v10h-3zM498 329h3v10h-3zM526 329h3v10h-3zM532 329h3v10h-3zM576 329h3v10h-3zM653 329h4v10h-4zM663 329h3v10h-3zM669 329h3v10h-3zM688 329h3v10h-3z"/>
<path fill="#00d7ff" d="M467 309h3v10h-3zM492 319h3v10h-3zM545 300h3v9h-3zM563 319h3v10h-3z"/>
<path fill="#00ff8c" d="M470 269h3v10h-3zM479 279h4v21h-4z"/>
<path fill="#00ff14" d="M470 289h3v11h-3zM476 269h3v10h-3z"/>
<path fill="#00ff50" d="M470 309h3v10h-3z"/>
<path fill="#1eff00" d="M473 263h3v6h-3zM545 329h3v10h-3z"/>
<path fill="#2dff00" d="M473 289h3v11h-3zM529 329h3v10h-3zM535 329h3v10h-3zM551 329h3v10h-3zM601 329h3v10h-3zM635 329h3v10h-3zM685 329h3v10h-3z"/>
<path fill="#ff2900" d="M473 339h3v5h-3zM476 339h3v5h-3zM489 339h3v5h-3zM514 339h3v5h-3zM579 339h3v5h-3z"/>
<path fill="#0fff00" d="M476 263h3v6h-3z"/>
<path fill="#00ff21" d="M476 289h3v11h-3z"/>
<path fill="#00dff0" d="M479 309h4v10h-4zM498 319h3v10h-3zM681 279h4v10h-4z"/>
<path fill="#f61300" d="M479 339h4v5h-4zM504 339h3v5h-3zM535 339h3v5h-3zM566 339h4v5h-4zM632 339h3v5h-3z"/>
<path fill="#6300ac" d="M489 279h3v10h-3zM495 309h3v10h-3zM498 300h3v9h-3zM548 263h3v6h-3zM554 269h3v10h-3zM613 309h3v10h-3zM622 279h3v10h-3zM641 300h3v9h-3zM647 300h3v9h-3zM653 269h4v10h-4zM672 269h3v10h-3zM675 269h3v10h-3z"/>
</g>
<rect x="412.80" y="339.00" width="7.70" height="4.90" fill="#fff"/>
<rect x="423.40" y="339.00" width="12.40" height="4.90" fill="#fff"/>
<rect x="457.80" y="339.00" width="2.80" height="4.90" fill="#fff"/>
<rect x="464.50" y="339.00" width="5.70" height="4.90" fill="#fff"/>
<rect x="510.30" y="339.00" width="6.70" height="4.90" fill="#fff"/>
<rect x="519.90" y="339.00" width="2.80" height="4.90" fill="#fff"/>
<rect x="528.50" y="339.00" width="3.80" height="4.90" fill="#fff"/>
<rect x="535.10" y="339.00" width="6.70" height="4.90" fill="#fff"/>
<rect x="563.40" y="339.00" width="3.40" height="4.90" fill="#fff"/>
<rect x="572.90" y="339.00" width="2.90" height="4.90" fill="#fff"/>
<rect x="597.80" y="339.00" width="2.80" height="4.90" fill="#fff"/>
<rect x="603.50" y="339.00" width="3.40" height="4.90" fill="#fff"/>
<rect x="610.80" y="339.00" width="5.10" height="4.90" fill="#fff"/>
<rect x="622.60" y="339.00" width="5.70" height="4.90" fill="#fff"/>
<rect x="635.00" y="339.00" width="2.90" height="4.90" fill="#fff"/>
<rect x="640.80" y="339.00" width="2.80" height="4.90" fill="#fff"/>
<rect x="650.30" y="339.00" width="9.60" height="4.90" fill="#fff"/>
<rect x="662.70" y="339.00" width="2.90" height="4.90" fill="#fff"/>
<rect x="672.30" y="339.00" width="2.80" height="4.90" fill="#fff"/>
<rect x="681.80" y="339.00" width="9.60" height="4.90" fill="#fff"/>
<rect x="63.50" y="93.70" width="280.80" height="2.60" fill="#fff"/>
<line x1="63.50" y1="93.70" x2="63.50" y2="96.30" stroke="#222" stroke-width="0.7"/>
<line x1="71.09" y1="93.70" x2="71.09" y2="96.30" stroke="#222" stroke-width="0.7"/>
<line x1="78.68" y1="93.70" x2="78.68" y2="96.30" stroke="#222" stroke-width="0.7"/>
<line x1="86.27" y1="93.70" x2="86.27" y2="96.30" stroke="#222" stroke-width="0.7"/>
<line x1="93.86" y1="93.70" x2="93.86" y2="96.30" stroke="#222" stroke-width="0.7"/>
<line x1="101.45" y1="93.70" x2="101.45" y2="96.30" stroke="#222" stroke-width="0.7"/>
<line x1="109.04" y1="93.70" x2="109.04" y2="96.30" stroke="#222" stroke-width="0.7"/>
<line x1="116.62" y1="93.70" x2="116.62" y2="96.30" stroke="#222" stroke-width="0.7"/>
<line x1="124.21" y1="93.70" x2="124.21" y2="96.30" stroke="#222" stroke-width="0.7"/>
<line x1="131.80" y1="93.70" x2="131.80" y2="96.30" stroke="#222" stroke-width="0.7"/>
<line x1="139.39" y1="93.70" x2="139.39" y2="96.30" stroke="#222" stroke-width="0.7"/>
<line x1="146.98" y1="93.70" x2="146.98" y2="96.30" stroke="#222" stroke-width="0.7"/>
<line x1="154.57" y1="93.70" x2="154.57" y2="96.30" stroke="#222" stroke-width="0.7"/>
<line x1="162.16" y1="93.70" x2="162.16" y2="96.30" stroke="#222" stroke-width="0.7"/>
<line x1="169.75" y1="93.70" x2="169.75" y2="96.30" stroke="#222" stroke-width="0.7"/>
<line x1="177.34" y1="93.70" x2="177.34" y2="96.30" stroke="#222" stroke-width="0.7"/>
<line x1="184.93" y1="93.70" x2="184.93" y2="96.30" stroke="#222" stroke-width="0.7"/>
<line x1="192.52" y1="93.70" x2="192.52" y2="96.30" stroke="#222" stroke-width="0.7"/>
<line x1="200.11" y1="93.70" x2="200.11" y2="96.30" stroke="#222" stroke-width="0.7"/>
<line x1="207.69" y1="93.70" x2="207.69" y2="96.30" stroke="#222" stroke-width="0.7"/>
<line x1="215.28" y1="93.70" x2="215.28" y2="96.30" stroke="#222" stroke-width="0.7"/>
<line x1="222.87" y1="93.70" x2="222.87" y2="96.30" stroke="#222" stroke-width="0.7"/>
<line x1="230.46" y1="93.70" x2="230.46" y2="96.30" stroke="#222" stroke-width="0.7"/>
<line x1="238.05" y1="93.70" x2="238.05" y2="96.30" stroke="#222" stroke-width="0.7"/>
<line x1="245.64" y1="93.70" x2="245.64" y2="96.30" stroke="#222" stroke-width="0.7"/>
<line x1="253.23" y1="93.70" x2="253.23" y2="96.30" stroke="#222" stroke-width="0.7"/>
<line x1="260.82" y1="93.70" x2="260.82" y2="96.30" stroke="#222" stroke-width="0.7"/>
<line x1="268.41" y1="93.70" x2="268.41" y2="96.30" stroke="#222" stroke-width="0.7"/>
<line x1="276.00" y1="93.70" x2="276.00" y2="96.30" stroke="#222" stroke-width="0.7"/>
<line x1="283.59" y1="93.70" x2="283.59" y2="96.30" stroke="#222" stroke-width="0.7"/>
<line x1="291.18" y1="93.70" x2="291.18" y2="96.30" stroke="#222" stroke-width="0.7"/>
<line x1="298.76" y1="93.70" x2="298.76" y2="96.30" stroke="#222" stroke-width="0.7"/>
<line x1="306.35" y1="93.70" x2="306.35" y2="96.30" stroke="#222" stroke-width="0.7"/>
<line x1="313.94" y1="93.70" x2="313.94" y2="96.30" stroke="#222" stroke-width="0.7"/>
<line x1="321.53" y1="93.70" x2="321.53" y2="96.30" stroke="#222" stroke-width="0.7"/>
<line x1="329.12" y1="93.70" x2="329.12" y2="96.30" stroke="#222" stroke-width="0.7"/>
<line x1="336.71" y1="93.70" x2="336.71" y2="96.30" stroke="#222" stroke-width="0.7"/>
<line x1="344.30" y1="93.70" x2="344.30" y2="96.30" stroke="#222" stroke-width="0.7"/>
<rect x="63.50" y="177.20" width="280.80" height="3.70" fill="#fff"/>
<line x1="63.50" y1="177.20" x2="63.50" y2="180.90" stroke="#222" stroke-width="0.7"/>
<line x1="71.09" y1="177.20" x2="71.09" y2="180.90" stroke="#222" stroke-width="0.7"/>
<line x1="78.68" y1="177.20" x2="78.68" y2="180.90" stroke="#222" stroke-width="0.7"/>
<line x1="86.27" y1="177.20" x2="86.27" y2="180.90" stroke="#222" stroke-width="0.7"/>
<line x1="93.86" y1="177.20" x2="93.86" y2="180.90" stroke="#222" stroke-width="0.7"/>
<line x1="101.45" y1="177.20" x2="101.45" y2="180.90" stroke="#222" stroke-width="0.7"/>
<line x1="109.04" y1="177.20" x2="109.04" y2="180.90" stroke="#222" stroke-width="0.7"/>
<line x1="116.62" y1="177.20" x2="116.62" y2="180.90" stroke="#222" stroke-width="0.7"/>
<line x1="124.21" y1="177.20" x2="124.21" y2="180.90" stroke="#222" stroke-width="0.7"/>
<line x1="131.80" y1="177.20" x2="131.80" y2="180.90" stroke="#222" stroke-width="0.7"/>
<line x1="139.39" y1="177.20" x2="139.39" y2="180.90" stroke="#222" stroke-width="0.7"/>
<line x1="146.98" y1="177.20" x2="146.98" y2="180.90" stroke="#222" stroke-width="0.7"/>
<line x1="154.57" y1="177.20" x2="154.57" y2="180.90" stroke="#222" stroke-width="0.7"/>
<line x1="162.16" y1="177.20" x2="162.16" y2="180.90" stroke="#222" stroke-width="0.7"/>
<line x1="169.75" y1="177.20" x2="169.75" y2="180.90" stroke="#222" stroke-width="0.7"/>
<line x1="177.34" y1="177.20" x2="177.34" y2="180.90" stroke="#222" stroke-width="0.7"/>
<line x1="184.93" y1="177.20" x2="184.93" y2="180.90" stroke="#222" stroke-width="0.7"/>
<line x1="192.52" y1="177.20" x2="192.52" y2="180.90" stroke="#222" stroke-width="0.7"/>
<line x1="200.11" y1="177.20" x2="200.11" y2="180.90" stroke="#222" stroke-width="0.7"/>
<line x1="207.69" y1="177.20" x2="207.69" y2="180.90" stroke="#222" stroke-width="0.7"/>
<line x1="215.28" y1="177.20" x2="215.28" y2="180.90" stroke="#222" stroke-width="0.7"/>
<line x1="222.87" y1="177.20" x2="222.87" y2="180.90" stroke="#222" stroke-width="0.7"/>
<line x1="230.46" y1="177.20" x2="230.46" y2="180.90" stroke="#222" stroke-width="0.7"/>
<line x1="238.05" y1="177.20" x2="238.05" y2="180.90" stroke="#222" stroke-width="0.7"/>
<line x1="245.64" y1="177.20" x2="245.64" y2="180.90" stroke="#222" stroke-width="0.7"/>
<line x1="253.23" y1="177.20" x2="253.23" y2="180.90" stroke="#222" stroke-width="0.7"/>
<line x1="260.82" y1="177.20" x2="260.82" y2="180.90" stroke="#222" stroke-width="0.7"/>
<line x1="268.41" y1="177.20" x2="268.41" y2="180.90" stroke="#222" stroke-width="0.7"/>
<line x1="276.00" y1="177.20" x2="276.00" y2="180.90" stroke="#222" stroke-width="0.7"/>
<line x1="283.59" y1="177.20" x2="283.59" y2="180.90" stroke="#222" stroke-width="0.7"/>
<line x1="291.18" y1="177.20" x2="291.18" y2="180.90" stroke="#222" stroke-width="0.7"/>
<line x1="298.76" y1="177.20" x2="298.76" y2="180.90" stroke="#222" stroke-width="0.7"/>
<line x1="306.35" y1="177.20" x2="306.35" y2="180.90" stroke="#222" stroke-width="0.7"/>
<line x1="313.94" y1="177.20" x2="313.94" y2="180.90" stroke="#222" stroke-width="0.7"/>
<line x1="321.53" y1="177.20" x2="321.53" y2="180.90" stroke="#222" stroke-width="0.7"/>
<line x1="329.12" y1="177.20" x2="329.12" y2="180.90" stroke="#222" stroke-width="0.7"/>
<line x1="336.71" y1="177.20" x2="336.71" y2="180.90" stroke="#222" stroke-width="0.7"/>
<line x1="344.30" y1="177.20" x2="344.30" y2="180.90" stroke="#222" stroke-width="0.7"/>
<line x1="63.50" y1="177.40" x2="344.30" y2="177.40" stroke="#444" stroke-width="0.6"/>
<line x1="63.50" y1="179.50" x2="344.30" y2="179.50" stroke="#444" stroke-width="0.6"/>
<rect x="63.50" y="260.70" width="280.80" height="2.60" fill="#fff"/>
<line x1="63.50" y1="260.70" x2="63.50" y2="263.30" stroke="#222" stroke-width="0.7"/>
<line x1="71.09" y1="260.70" x2="71.09" y2="263.30" stroke="#222" stroke-width="0.7"/>
<line x1="78.68" y1="260.70" x2="78.68" y2="263.30" stroke="#222" stroke-width="0.7"/>
<line x1="86.27" y1="260.70" x2="86.27" y2="263.30" stroke="#222" stroke-width="0.7"/>
<line x1="93.86" y1="260.70" x2="93.86" y2="263.30" stroke="#222" stroke-width="0.7"/>
<line x1="101.45" y1="260.70" x2="101.45" y2="263.30" stroke="#222" stroke-width="0.7"/>
<line x1="109.04" y1="260.70" x2="109.04" y2="263.30" stroke="#222" stroke-width="0.7"/>
<line x1="116.62" y1="260.70" x2="116.62" y2="263.30" stroke="#222" stroke-width="0.7"/>
<line x1="124.21" y1="260.70" x2="124.21" y2="263.30" stroke="#222" stroke-width="0.7"/>
<line x1="131.80" y1="260.70" x2="131.80" y2="263.30" stroke="#222" stroke-width="0.7"/>
<line x1="139.39" y1="260.70" x2="139.39" y2="263.30" stroke="#222" stroke-width="0.7"/>
<line x1="146.98" y1="260.70" x2="146.98" y2="263.30" stroke="#222" stroke-width="0.7"/>
<line x1="154.57" y1="260.70" x2="154.57" y2="263.30" stroke="#222" stroke-width="0.7"/>
<line x1="162.16" y1="260.70" x2="162.16" y2="263.30" stroke="#222" stroke-width="0.7"/>
<line x1="169.75" y1="260.70" x2="169.75" y2="263.30" stroke="#222" stroke-width="0.7"/>
<line x1="177.34" y1="260.70" x2="177.34" y2="263.30" stroke="#222" stroke-width="0.7"/>
<line x1="184.93" y1="260.70" x2="184.93" y2="263.30" stroke="#222" stroke-width="0.7"/>
<line x1="192.52" y1="260.70" x2="192.52" y2="263.30" stroke="#222" stroke-width="0.7"/>
<line x1="200.11" y1="260.70" x2="200.11" y2="263.30" stroke="#222" stroke-width="0.7"/>
<line x1="207.69" y1="260.70" x2="207.69" y2="263.30" stroke="#222" stroke-width="0.7"/>
<line x1="215.28" y1="260.70" x2="215.28" y2="263.30" stroke="#222" stroke-width="0.7"/>
<line x1="222.87" y1="260.70" x2="222.87" y2="263.30" stroke="#222" stroke-width="0.7"/>
<line x1="230.46" y1="260.70" x2="230.46" y2="263.30" stroke="#222" stroke-width="0.7"/>
<line x1="238.05" y1="260.70" x2="238.05" y2="263.30" stroke="#222" stroke-width="0.7"/>
<line x1="245.64" y1="260.70" x2="245.64" y2="263.30" stroke="#222" stroke-width="0.7"/>
<line x1="253.23" y1="260.70" x2="253.23" y2="263.30" stroke="#222" stroke-width="0.7"/>
<line x1="260.82" y1="260.70" x2="260.82" y2="263.30" stroke="#222" stroke-width="0.7"/>
<line x1="268.41" y1="260.70" x2="268.41" y2="263.30" stroke="#222" stroke-width="0.7"/>
<line x1="276.00" y1="260.70" x2="276.00" y2="263.30" stroke="#222" stroke-width="0.7"/>
<line x1="283.59" y1="260.70" x2="283.59" y2="263.30" stroke="#222" stroke-width="0.7"/>
<line x1="291.18" y1="260.70" x2="291.18" y2="263.30" stroke="#222" stroke-width="0.7"/>
<line x1="298.76" y1="260.70" x2="298.76" y2="263.30" stroke="#222" stroke-width="0.7"/>
<line x1="306.35" y1="260.70" x2="306.35" y2="263.30" stroke="#222" stroke-width="0.7"/>
<line x1="313.94" y1="260.70" x2="313.94" y2="263.30" stroke="#222" stroke-width="0.7"/>
<line x1="321.53" y1="260.70" x2="321.53" y2="263.30" stroke="#222" stroke-width="0.7"/>
<line x1="329.12" y1="260.70" x2="329.12" y2="263.30" stroke="#222" stroke-width="0.7"/>
<line x1="336.71" y1="260.70" x2="336.71" y2="263.30" stroke="#222" stroke-width="0.7"/>
<line x1="344.30" y1="260.70" x2="344.30" y2="263.30" stroke="#222" stroke-width="0.7"/>
<rect x="63.50" y="343.9" width="280.80" height="2.5" fill="#fff"/>
<line x1="63.50" y1="344.00" x2="344.30" y2="344.00" stroke="#aaa" stroke-width="1.3"/>
<line x1="63.50" y1="343.90" x2="63.50" y2="346.40" stroke="#222" stroke-width="0.7"/>
<line x1="71.09" y1="343.90" x2="71.09" y2="346.40" stroke="#222" stroke-width="0.7"/>
<line x1="78.68" y1="343.90" x2="78.68" y2="346.40" stroke="#222" stroke-width="0.7"/>
<line x1="86.27" y1="343.90" x2="86.27" y2="346.40" stroke="#222" stroke-width="0.7"/>
<line x1="93.86" y1="343.90" x2="93.86" y2="346.40" stroke="#222" stroke-width="0.7"/>
<line x1="101.45" y1="343.90" x2="101.45" y2="346.40" stroke="#222" stroke-width="0.7"/>
<line x1="109.04" y1="343.90" x2="109.04" y2="346.40" stroke="#222" stroke-width="0.7"/>
<line x1="116.62" y1="343.90" x2="116.62" y2="346.40" stroke="#222" stroke-width="0.7"/>
<line x1="124.21" y1="343.90" x2="124.21" y2="346.40" stroke="#222" stroke-width="0.7"/>
<line x1="131.80" y1="343.90" x2="131.80" y2="346.40" stroke="#222" stroke-width="0.7"/>
<line x1="139.39" y1="343.90" x2="139.39" y2="346.40" stroke="#222" stroke-width="0.7"/>
<line x1="146.98" y1="343.90" x2="146.98" y2="346.40" stroke="#222" stroke-width="0.7"/>
<line x1="154.57" y1="343.90" x2="154.57" y2="346.40" stroke="#222" stroke-width="0.7"/>
<line x1="162.16" y1="343.90" x2="162.16" y2="346.40" stroke="#222" stroke-width="0.7"/>
<line x1="169.75" y1="343.90" x2="169.75" y2="346.40" stroke="#222" stroke-width="0.7"/>
<line x1="177.34" y1="343.90" x2="177.34" y2="346.40" stroke="#222" stroke-width="0.7"/>
<line x1="184.93" y1="343.90" x2="184.93" y2="346.40" stroke="#222" stroke-width="0.7"/>
<line x1="192.52" y1="343.90" x2="192.52" y2="346.40" stroke="#222" stroke-width="0.7"/>
<line x1="200.11" y1="343.90" x2="200.11" y2="346.40" stroke="#222" stroke-width="0.7"/>
<line x1="207.69" y1="343.90" x2="207.69" y2="346.40" stroke="#222" stroke-width="0.7"/>
<line x1="215.28" y1="343.90" x2="215.28" y2="346.40" stroke="#222" stroke-width="0.7"/>
<line x1="222.87" y1="343.90" x2="222.87" y2="346.40" stroke="#222" stroke-width="0.7"/>
<line x1="230.46" y1="343.90" x2="230.46" y2="346.40" stroke="#222" stroke-width="0.7"/>
<line x1="238.05" y1="343.90" x2="238.05" y2="346.40" stroke="#222" stroke-width="0.7"/>
<line x1="245.64" y1="343.90" x2="245.64" y2="346.40" stroke="#222" stroke-width="0.7"/>
<line x1="253.23" y1="343.90" x2="253.23" y2="346.40" stroke="#222" stroke-width="0.7"/>
<line x1="260.82" y1="343.90" x2="260.82" y2="346.40" stroke="#222" stroke-width="0.7"/>
<line x1="268.41" y1="343.90" x2="268.41" y2="346.40" stroke="#222" stroke-width="0.7"/>
<line x1="276.00" y1="343.90" x2="276.00" y2="346.40" stroke="#222" stroke-width="0.7"/>
<line x1="283.59" y1="343.90" x2="283.59" y2="346.40" stroke="#222" stroke-width="0.7"/>
<line x1="291.18" y1="343.90" x2="291.18" y2="346.40" stroke="#222" stroke-width="0.7"/>
<line x1="298.76" y1="343.90" x2="298.76" y2="346.40" stroke="#222" stroke-width="0.7"/>
<line x1="306.35" y1="343.90" x2="306.35" y2="346.40" stroke="#222" stroke-width="0.7"/>
<line x1="313.94" y1="343.90" x2="313.94" y2="346.40" stroke="#222" stroke-width="0.7"/>
<line x1="321.53" y1="343.90" x2="321.53" y2="346.40" stroke="#222" stroke-width="0.7"/>
<line x1="329.12" y1="343.90" x2="329.12" y2="346.40" stroke="#222" stroke-width="0.7"/>
<line x1="336.71" y1="343.90" x2="336.71" y2="346.40" stroke="#222" stroke-width="0.7"/>
<line x1="344.30" y1="343.90" x2="344.30" y2="346.40" stroke="#222" stroke-width="0.7"/>
<line x1="63.50" y1="12.50" x2="63.50" y2="10.70" stroke="#222" stroke-width="0.7"/>
<line x1="71.09" y1="12.50" x2="71.09" y2="10.70" stroke="#222" stroke-width="0.7"/>
<line x1="78.68" y1="12.50" x2="78.68" y2="9.10" stroke="#222" stroke-width="0.7"/>
<line x1="86.27" y1="12.50" x2="86.27" y2="10.70" stroke="#222" stroke-width="0.7"/>
<line x1="93.86" y1="12.50" x2="93.86" y2="10.70" stroke="#222" stroke-width="0.7"/>
<line x1="101.45" y1="12.50" x2="101.45" y2="10.70" stroke="#222" stroke-width="0.7"/>
<line x1="109.04" y1="12.50" x2="109.04" y2="10.70" stroke="#222" stroke-width="0.7"/>
<line x1="116.62" y1="12.50" x2="116.62" y2="10.70" stroke="#222" stroke-width="0.7"/>
<line x1="124.21" y1="12.50" x2="124.21" y2="10.70" stroke="#222" stroke-width="0.7"/>
<line x1="131.80" y1="12.50" x2="131.80" y2="10.70" stroke="#222" stroke-width="0.7"/>
<line x1="139.39" y1="12.50" x2="139.39" y2="10.70" stroke="#222" stroke-width="0.7"/>
<line x1="146.98" y1="12.50" x2="146.98" y2="10.70" stroke="#222" stroke-width="0.7"/>
<line x1="154.57" y1="12.50" x2="154.57" y2="9.10" stroke="#222" stroke-width="0.7"/>
<line x1="162.16" y1="12.50" x2="162.16" y2="10.70" stroke="#222" stroke-width="0.7"/>
<line x1="169.75" y1="12.50" x2="169.75" y2="10.70" stroke="#222" stroke-width="0.7"/>
<line x1="177.34" y1="12.50" x2="177.34" y2="10.70" stroke="#222" stroke-width="0.7"/>
<line x1="184.93" y1="12.50" x2="184.93" y2="10.70" stroke="#222" stroke-width="0.7"/>
<line x1="192.52" y1="12.50" x2="192.52" y2="10.70" stroke="#222" stroke-width="0.7"/>
<line x1="200.11" y1="12.50" x2="200.11" y2="10.70" stroke="#222" stroke-width="0.7"/>
<line x1="207.69" y1="12.50" x2="207.69" y2="10.70" stroke="#222" stroke-width="0.7"/>
<line x1="215.28" y1="12.50" x2="215.28" y2="10.70" stroke="#222" stroke-width="0.7"/>
<line x1="222.87" y1="12.50" x2="222.87" y2="10.70" stroke="#222" stroke-width="0.7"/>
<line x1="230.46" y1="12.50" x2="230.46" y2="9.10" stroke="#222" stroke-width="0.7"/>
<line x1="238.05" y1="12.50" x2="238.05" y2="10.70" stroke="#222" stroke-width="0.7"/>
<line x1="245.64" y1="12.50" x2="245.64" y2="10.70" stroke="#222" stroke-width="0.7"/>
<line x1="253.23" y1="12.50" x2="253.23" y2="10.70" stroke="#222" stroke-width="0.7"/>
<line x1="260.82" y1="12.50" x2="260.82" y2="10.70" stroke="#222" stroke-width="0.7"/>
<line x1="268.41" y1="12.50" x2="268.41" y2="10.70" stroke="#222" stroke-width="0.7"/>
<line x1="276.00" y1="12.50" x2="276.00" y2="10.70" stroke="#222" stroke-width="0.7"/>
<line x1="283.59" y1="12.50" x2="283.59" y2="10.70" stroke="#222" stroke-width="0.7"/>
<line x1="291.18" y1="12.50" x2="291.18" y2="10.70" stroke="#222" stroke-width="0.7"/>
<line x1="298.76" y1="12.50" x2="298.76" y2="10.70" stroke="#222" stroke-width="0.7"/>
<line x1="306.35" y1="12.50" x2="306.35" y2="9.10" stroke="#222" stroke-width="0.7"/>
<line x1="313.94" y1="12.50" x2="313.94" y2="10.70" stroke="#222" stroke-width="0.7"/>
<line x1="321.53" y1="12.50" x2="321.53" y2="10.70" stroke="#222" stroke-width="0.7"/>
<line x1="329.12" y1="12.50" x2="329.12" y2="10.70" stroke="#222" stroke-width="0.7"/>
<line x1="336.71" y1="12.50" x2="336.71" y2="10.70" stroke="#222" stroke-width="0.7"/>
<line x1="344.30" y1="12.50" x2="344.30" y2="10.70" stroke="#222" stroke-width="0.7"/>
<line x1="63.50" y1="12.50" x2="344.30" y2="12.50" stroke="#555" stroke-width="0.7"/>
<line x1="63.50" y1="346.40" x2="344.30" y2="346.40" stroke="#333" stroke-width="0.8"/>
<line x1="63.50" y1="427.30" x2="344.30" y2="427.30" stroke="#333" stroke-width="0.8"/>
<line x1="63.50" y1="427.30" x2="63.50" y2="429.10" stroke="#222" stroke-width="0.7"/>
<line x1="71.09" y1="427.30" x2="71.09" y2="429.10" stroke="#222" stroke-width="0.7"/>
<line x1="78.68" y1="427.30" x2="78.68" y2="430.70" stroke="#222" stroke-width="0.7"/>
<line x1="86.27" y1="427.30" x2="86.27" y2="429.10" stroke="#222" stroke-width="0.7"/>
<line x1="93.86" y1="427.30" x2="93.86" y2="429.10" stroke="#222" stroke-width="0.7"/>
<line x1="101.45" y1="427.30" x2="101.45" y2="429.10" stroke="#222" stroke-width="0.7"/>
<line x1="109.04" y1="427.30" x2="109.04" y2="429.10" stroke="#222" stroke-width="0.7"/>
<line x1="116.62" y1="427.30" x2="116.62" y2="429.10" stroke="#222" stroke-width="0.7"/>
<line x1="124.21" y1="427.30" x2="124.21" y2="429.10" stroke="#222" stroke-width="0.7"/>
<line x1="131.80" y1="427.30" x2="131.80" y2="429.10" stroke="#222" stroke-width="0.7"/>
<line x1="139.39" y1="427.30" x2="139.39" y2="429.10" stroke="#222" stroke-width="0.7"/>
<line x1="146.98" y1="427.30" x2="146.98" y2="429.10" stroke="#222" stroke-width="0.7"/>
<line x1="154.57" y1="427.30" x2="154.57" y2="430.70" stroke="#222" stroke-width="0.7"/>
<line x1="162.16" y1="427.30" x2="162.16" y2="429.10" stroke="#222" stroke-width="0.7"/>
<line x1="169.75" y1="427.30" x2="169.75" y2="429.10" stroke="#222" stroke-width="0.7"/>
<line x1="177.34" y1="427.30" x2="177.34" y2="429.10" stroke="#222" stroke-width="0.7"/>
<line x1="184.93" y1="427.30" x2="184.93" y2="429.10" stroke="#222" stroke-width="0.7"/>
<line x1="192.52" y1="427.30" x2="192.52" y2="429.10" stroke="#222" stroke-width="0.7"/>
<line x1="200.11" y1="427.30" x2="200.11" y2="429.10" stroke="#222" stroke-width="0.7"/>
<line x1="207.69" y1="427.30" x2="207.69" y2="429.10" stroke="#222" stroke-width="0.7"/>
<line x1="215.28" y1="427.30" x2="215.28" y2="429.10" stroke="#222" stroke-width="0.7"/>
<line x1="222.87" y1="427.30" x2="222.87" y2="429.10" stroke="#222" stroke-width="0.7"/>
<line x1="230.46" y1="427.30" x2="230.46" y2="430.70" stroke="#222" stroke-width="0.7"/>
<line x1="238.05" y1="427.30" x2="238.05" y2="429.10" stroke="#222" stroke-width="0.7"/>
<line x1="245.64" y1="427.30" x2="245.64" y2="429.10" stroke="#222" stroke-width="0.7"/>
<line x1="253.23" y1="427.30" x2="253.23" y2="429.10" stroke="#222" stroke-width="0.7"/>
<line x1="260.82" y1="427.30" x2="260.82" y2="429.10" stroke="#222" stroke-width="0.7"/>
<line x1="268.41" y1="427.30" x2="268.41" y2="429.10" stroke="#222" stroke-width="0.7"/>
<line x1="276.00" y1="427.30" x2="276.00" y2="429.10" stroke="#222" stroke-width="0.7"/>
<line x1="283.59" y1="427.30" x2="283.59" y2="429.10" stroke="#222" stroke-width="0.7"/>
<line x1="291.18" y1="427.30" x2="291.18" y2="429.10" stroke="#222" stroke-width="0.7"/>
<line x1="298.76" y1="427.30" x2="298.76" y2="429.10" stroke="#222" stroke-width="0.7"/>
<line x1="306.35" y1="427.30" x2="306.35" y2="430.70" stroke="#222" stroke-width="0.7"/>
<line x1="313.94" y1="427.30" x2="313.94" y2="429.10" stroke="#222" stroke-width="0.7"/>
<line x1="321.53" y1="427.30" x2="321.53" y2="429.10" stroke="#222" stroke-width="0.7"/>
<line x1="329.12" y1="427.30" x2="329.12" y2="429.10" stroke="#222" stroke-width="0.7"/>
<line x1="336.71" y1="427.30" x2="336.71" y2="429.10" stroke="#222" stroke-width="0.7"/>
<line x1="344.30" y1="427.30" x2="344.30" y2="429.10" stroke="#222" stroke-width="0.7"/>
<line x1="63.50" y1="12.50" x2="63.50" y2="427.30" stroke="#333" stroke-width="0.8"/>
<line x1="344.30" y1="12.50" x2="344.30" y2="427.30" stroke="#333" stroke-width="0.8"/>
<rect x="412.80" y="93.70" width="281.40" height="2.60" fill="#fff"/>
<line x1="412.80" y1="93.70" x2="412.80" y2="96.30" stroke="#222" stroke-width="0.7"/>
<line x1="420.41" y1="93.70" x2="420.41" y2="96.30" stroke="#222" stroke-width="0.7"/>
<line x1="428.01" y1="93.70" x2="428.01" y2="96.30" stroke="#222" stroke-width="0.7"/>
<line x1="435.62" y1="93.70" x2="435.62" y2="96.30" stroke="#222" stroke-width="0.7"/>
<line x1="443.22" y1="93.70" x2="443.22" y2="96.30" stroke="#222" stroke-width="0.7"/>
<line x1="450.83" y1="93.70" x2="450.83" y2="96.30" stroke="#222" stroke-width="0.7"/>
<line x1="458.43" y1="93.70" x2="458.43" y2="96.30" stroke="#222" stroke-width="0.7"/>
<line x1="466.04" y1="93.70" x2="466.04" y2="96.30" stroke="#222" stroke-width="0.7"/>
<line x1="473.64" y1="93.70" x2="473.64" y2="96.30" stroke="#222" stroke-width="0.7"/>
<line x1="481.25" y1="93.70" x2="481.25" y2="96.30" stroke="#222" stroke-width="0.7"/>
<line x1="488.85" y1="93.70" x2="488.85" y2="96.30" stroke="#222" stroke-width="0.7"/>
<line x1="496.46" y1="93.70" x2="496.46" y2="96.30" stroke="#222" stroke-width="0.7"/>
<line x1="504.06" y1="93.70" x2="504.06" y2="96.30" stroke="#222" stroke-width="0.7"/>
<line x1="511.67" y1="93.70" x2="511.67" y2="96.30" stroke="#222" stroke-width="0.7"/>
<line x1="519.28" y1="93.70" x2="519.28" y2="96.30" stroke="#222" stroke-width="0.7"/>
<line x1="526.88" y1="93.70" x2="526.88" y2="96.30" stroke="#222" stroke-width="0.7"/>
<line x1="534.49" y1="93.70" x2="534.49" y2="96.30" stroke="#222" stroke-width="0.7"/>
<line x1="542.09" y1="93.70" x2="542.09" y2="96.30" stroke="#222" stroke-width="0.7"/>
<line x1="549.70" y1="93.70" x2="549.70" y2="96.30" stroke="#222" stroke-width="0.7"/>
<line x1="557.30" y1="93.70" x2="557.30" y2="96.30" stroke="#222" stroke-width="0.7"/>
<line x1="564.91" y1="93.70" x2="564.91" y2="96.30" stroke="#222" stroke-width="0.7"/>
<line x1="572.51" y1="93.70" x2="572.51" y2="96.30" stroke="#222" stroke-width="0.7"/>
<line x1="580.12" y1="93.70" x2="580.12" y2="96.30" stroke="#222" stroke-width="0.7"/>
<line x1="587.72" y1="93.70" x2="587.72" y2="96.30" stroke="#222" stroke-width="0.7"/>
<line x1="595.33" y1="93.70" x2="595.33" y2="96.30" stroke="#222" stroke-width="0.7"/>
<line x1="602.94" y1="93.70" x2="602.94" y2="96.30" stroke="#222" stroke-width="0.7"/>
<line x1="610.54" y1="93.70" x2="610.54" y2="96.30" stroke="#222" stroke-width="0.7"/>
<line x1="618.15" y1="93.70" x2="618.15" y2="96.30" stroke="#222" stroke-width="0.7"/>
<line x1="625.75" y1="93.70" x2="625.75" y2="96.30" stroke="#222" stroke-width="0.7"/>
<line x1="633.36" y1="93.70" x2="633.36" y2="96.30" stroke="#222" stroke-width="0.7"/>
<line x1="640.96" y1="93.70" x2="640.96" y2="96.30" stroke="#222" stroke-width="0.7"/>
<line x1="648.57" y1="93.70" x2="648.57" y2="96.30" stroke="#222" stroke-width="0.7"/>
<line x1="656.17" y1="93.70" x2="656.17" y2="96.30" stroke="#222" stroke-width="0.7"/>
<line x1="663.78" y1="93.70" x2="663.78" y2="96.30" stroke="#222" stroke-width="0.7"/>
<line x1="671.38" y1="93.70" x2="671.38" y2="96.30" stroke="#222" stroke-width="0.7"/>
<line x1="678.99" y1="93.70" x2="678.99" y2="96.30" stroke="#222" stroke-width="0.7"/>
<line x1="686.59" y1="93.70" x2="686.59" y2="96.30" stroke="#222" stroke-width="0.7"/>
<line x1="694.20" y1="93.70" x2="694.20" y2="96.30" stroke="#222" stroke-width="0.7"/>
<rect x="412.80" y="177.20" width="281.40" height="3.70" fill="#fff"/>
<line x1="412.80" y1="177.20" x2="412.80" y2="180.90" stroke="#222" stroke-width="0.7"/>
<line x1="420.41" y1="177.20" x2="420.41" y2="180.90" stroke="#222" stroke-width="0.7"/>
<line x1="428.01" y1="177.20" x2="428.01" y2="180.90" stroke="#222" stroke-width="0.7"/>
<line x1="435.62" y1="177.20" x2="435.62" y2="180.90" stroke="#222" stroke-width="0.7"/>
<line x1="443.22" y1="177.20" x2="443.22" y2="180.90" stroke="#222" stroke-width="0.7"/>
<line x1="450.83" y1="177.20" x2="450.83" y2="180.90" stroke="#222" stroke-width="0.7"/>
<line x1="458.43" y1="177.20" x2="458.43" y2="180.90" stroke="#222" stroke-width="0.7"/>
<line x1="466.04" y1="177.20" x2="466.04" y2="180.90" stroke="#222" stroke-width="0.7"/>
<line x1="473.64" y1="177.20" x2="473.64" y2="180.90" stroke="#222" stroke-width="0.7"/>
<line x1="481.25" y1="177.20" x2="481.25" y2="180.90" stroke="#222" stroke-width="0.7"/>
<line x1="488.85" y1="177.20" x2="488.85" y2="180.90" stroke="#222" stroke-width="0.7"/>
<line x1="496.46" y1="177.20" x2="496.46" y2="180.90" stroke="#222" stroke-width="0.7"/>
<line x1="504.06" y1="177.20" x2="504.06" y2="180.90" stroke="#222" stroke-width="0.7"/>
<line x1="511.67" y1="177.20" x2="511.67" y2="180.90" stroke="#222" stroke-width="0.7"/>
<line x1="519.28" y1="177.20" x2="519.28" y2="180.90" stroke="#222" stroke-width="0.7"/>
<line x1="526.88" y1="177.20" x2="526.88" y2="180.90" stroke="#222" stroke-width="0.7"/>
<line x1="534.49" y1="177.20" x2="534.49" y2="180.90" stroke="#222" stroke-width="0.7"/>
<line x1="542.09" y1="177.20" x2="542.09" y2="180.90" stroke="#222" stroke-width="0.7"/>
<line x1="549.70" y1="177.20" x2="549.70" y2="180.90" stroke="#222" stroke-width="0.7"/>
<line x1="557.30" y1="177.20" x2="557.30" y2="180.90" stroke="#222" stroke-width="0.7"/>
<line x1="564.91" y1="177.20" x2="564.91" y2="180.90" stroke="#222" stroke-width="0.7"/>
<line x1="572.51" y1="177.20" x2="572.51" y2="180.90" stroke="#222" stroke-width="0.7"/>
<line x1="580.12" y1="177.20" x2="580.12" y2="180.90" stroke="#222" stroke-width="0.7"/>
<line x1="587.72" y1="177.20" x2="587.72" y2="180.90" stroke="#222" stroke-width="0.7"/>
<line x1="595.33" y1="177.20" x2="595.33" y2="180.90" stroke="#222" stroke-width="0.7"/>
<line x1="602.94" y1="177.20" x2="602.94" y2="180.90" stroke="#222" stroke-width="0.7"/>
<line x1="610.54" y1="177.20" x2="610.54" y2="180.90" stroke="#222" stroke-width="0.7"/>
<line x1="618.15" y1="177.20" x2="618.15" y2="180.90" stroke="#222" stroke-width="0.7"/>
<line x1="625.75" y1="177.20" x2="625.75" y2="180.90" stroke="#222" stroke-width="0.7"/>
<line x1="633.36" y1="177.20" x2="633.36" y2="180.90" stroke="#222" stroke-width="0.7"/>
<line x1="640.96" y1="177.20" x2="640.96" y2="180.90" stroke="#222" stroke-width="0.7"/>
<line x1="648.57" y1="177.20" x2="648.57" y2="180.90" stroke="#222" stroke-width="0.7"/>
<line x1="656.17" y1="177.20" x2="656.17" y2="180.90" stroke="#222" stroke-width="0.7"/>
<line x1="663.78" y1="177.20" x2="663.78" y2="180.90" stroke="#222" stroke-width="0.7"/>
<line x1="671.38" y1="177.20" x2="671.38" y2="180.90" stroke="#222" stroke-width="0.7"/>
<line x1="678.99" y1="177.20" x2="678.99" y2="180.90" stroke="#222" stroke-width="0.7"/>
<line x1="686.59" y1="177.20" x2="686.59" y2="180.90" stroke="#222" stroke-width="0.7"/>
<line x1="694.20" y1="177.20" x2="694.20" y2="180.90" stroke="#222" stroke-width="0.7"/>
<line x1="412.80" y1="177.40" x2="694.20" y2="177.40" stroke="#444" stroke-width="0.6"/>
<line x1="412.80" y1="179.50" x2="694.20" y2="179.50" stroke="#444" stroke-width="0.6"/>
<rect x="412.80" y="260.70" width="281.40" height="2.60" fill="#fff"/>
<line x1="412.80" y1="260.70" x2="412.80" y2="263.30" stroke="#222" stroke-width="0.7"/>
<line x1="420.41" y1="260.70" x2="420.41" y2="263.30" stroke="#222" stroke-width="0.7"/>
<line x1="428.01" y1="260.70" x2="428.01" y2="263.30" stroke="#222" stroke-width="0.7"/>
<line x1="435.62" y1="260.70" x2="435.62" y2="263.30" stroke="#222" stroke-width="0.7"/>
<line x1="443.22" y1="260.70" x2="443.22" y2="263.30" stroke="#222" stroke-width="0.7"/>
<line x1="450.83" y1="260.70" x2="450.83" y2="263.30" stroke="#222" stroke-width="0.7"/>
<line x1="458.43" y1="260.70" x2="458.43" y2="263.30" stroke="#222" stroke-width="0.7"/>
<line x1="466.04" y1="260.70" x2="466.04" y2="263.30" stroke="#222" stroke-width="0.7"/>
<line x1="473.64" y1="260.70" x2="473.64" y2="263.30" stroke="#222" stroke-width="0.7"/>
<line x1="481.25" y1="260.70" x2="481.25" y2="263.30" stroke="#222" stroke-width="0.7"/>
<line x1="488.85" y1="260.70" x2="488.85" y2="263.30" stroke="#222" stroke-width="0.7"/>
<line x1="496.46" y1="260.70" x2="496.46" y2="263.30" stroke="#222" stroke-width="0.7"/>
<line x1="504.06" y1="260.70" x2="504.06" y2="263.30" stroke="#222" stroke-width="0.7"/>
<line x1="511.67" y1="260.70" x2="511.67" y2="263.30" stroke="#222" stroke-width="0.7"/>
<line x1="519.28" y1="260.70" x2="519.28" y2="263.30" stroke="#222" stroke-width="0.7"/>
<line x1="526.88" y1="260.70" x2="526.88" y2="263.30" stroke="#222" stroke-width="0.7"/>
<line x1="534.49" y1="260.70" x2="534.49" y2="263.30" stroke="#222" stroke-width="0.7"/>
<line x1="542.09" y1="260.70" x2="542.09" y2="263.30" stroke="#222" stroke-width="0.7"/>
<line x1="549.70" y1="260.70" x2="549.70" y2="263.30" stroke="#222" stroke-width="0.7"/>
<line x1="557.30" y1="260.70" x2="557.30" y2="263.30" stroke="#222" stroke-width="0.7"/>
<line x1="564.91" y1="260.70" x2="564.91" y2="263.30" stroke="#222" stroke-width="0.7"/>
<line x1="572.51" y1="260.70" x2="572.51" y2="263.30" stroke="#222" stroke-width="0.7"/>
<line x1="580.12" y1="260.70" x2="580.12" y2="263.30" stroke="#222" stroke-width="0.7"/>
<line x1="587.72" y1="260.70" x2="587.72" y2="263.30" stroke="#222" stroke-width="0.7"/>
<line x1="595.33" y1="260.70" x2="595.33" y2="263.30" stroke="#222" stroke-width="0.7"/>
<line x1="602.94" y1="260.70" x2="602.94" y2="263.30" stroke="#222" stroke-width="0.7"/>
<line x1="610.54" y1="260.70" x2="610.54" y2="263.30" stroke="#222" stroke-width="0.7"/>
<line x1="618.15" y1="260.70" x2="618.15" y2="263.30" stroke="#222" stroke-width="0.7"/>
<line x1="625.75" y1="260.70" x2="625.75" y2="263.30" stroke="#222" stroke-width="0.7"/>
<line x1="633.36" y1="260.70" x2="633.36" y2="263.30" stroke="#222" stroke-width="0.7"/>
<line x1="640.96" y1="260.70" x2="640.96" y2="263.30" stroke="#222" stroke-width="0.7"/>
<line x1="648.57" y1="260.70" x2="648.57" y2="263.30" stroke="#222" stroke-width="0.7"/>
<line x1="656.17" y1="260.70" x2="656.17" y2="263.30" stroke="#222" stroke-width="0.7"/>
<line x1="663.78" y1="260.70" x2="663.78" y2="263.30" stroke="#222" stroke-width="0.7"/>
<line x1="671.38" y1="260.70" x2="671.38" y2="263.30" stroke="#222" stroke-width="0.7"/>
<line x1="678.99" y1="260.70" x2="678.99" y2="263.30" stroke="#222" stroke-width="0.7"/>
<line x1="686.59" y1="260.70" x2="686.59" y2="263.30" stroke="#222" stroke-width="0.7"/>
<line x1="694.20" y1="260.70" x2="694.20" y2="263.30" stroke="#222" stroke-width="0.7"/>
<rect x="412.80" y="343.9" width="281.40" height="2.5" fill="#fff"/>
<line x1="412.80" y1="344.00" x2="694.20" y2="344.00" stroke="#aaa" stroke-width="1.3"/>
<line x1="412.80" y1="343.90" x2="412.80" y2="346.40" stroke="#222" stroke-width="0.7"/>
<line x1="420.41" y1="343.90" x2="420.41" y2="346.40" stroke="#222" stroke-width="0.7"/>
<line x1="428.01" y1="343.90" x2="428.01" y2="346.40" stroke="#222" stroke-width="0.7"/>
<line x1="435.62" y1="343.90" x2="435.62" y2="346.40" stroke="#222" stroke-width="0.7"/>
<line x1="443.22" y1="343.90" x2="443.22" y2="346.40" stroke="#222" stroke-width="0.7"/>
<line x1="450.83" y1="343.90" x2="450.83" y2="346.40" stroke="#222" stroke-width="0.7"/>
<line x1="458.43" y1="343.90" x2="458.43" y2="346.40" stroke="#222" stroke-width="0.7"/>
<line x1="466.04" y1="343.90" x2="466.04" y2="346.40" stroke="#222" stroke-width="0.7"/>
<line x1="473.64" y1="343.90" x2="473.64" y2="346.40" stroke="#222" stroke-width="0.7"/>
<line x1="481.25" y1="343.90" x2="481.25" y2="346.40" stroke="#222" stroke-width="0.7"/>
<line x1="488.85" y1="343.90" x2="488.85" y2="346.40" stroke="#222" stroke-width="0.7"/>
<line x1="496.46" y1="343.90" x2="496.46" y2="346.40" stroke="#222" stroke-width="0.7"/>
<line x1="504.06" y1="343.90" x2="504.06" y2="346.40" stroke="#222" stroke-width="0.7"/>
<line x1="511.67" y1="343.90" x2="511.67" y2="346.40" stroke="#222" stroke-width="0.7"/>
<line x1="519.28" y1="343.90" x2="519.28" y2="346.40" stroke="#222" stroke-width="0.7"/>
<line x1="526.88" y1="343.90" x2="526.88" y2="346.40" stroke="#222" stroke-width="0.7"/>
<line x1="534.49" y1="343.90" x2="534.49" y2="346.40" stroke="#222" stroke-width="0.7"/>
<line x1="542.09" y1="343.90" x2="542.09" y2="346.40" stroke="#222" stroke-width="0.7"/>
<line x1="549.70" y1="343.90" x2="549.70" y2="346.40" stroke="#222" stroke-width="0.7"/>
<line x1="557.30" y1="343.90" x2="557.30" y2="346.40" stroke="#222" stroke-width="0.7"/>
<line x1="564.91" y1="343.90" x2="564.91" y2="346.40" stroke="#222" stroke-width="0.7"/>
<line x1="572.51" y1="343.90" x2="572.51" y2="346.40" stroke="#222" stroke-width="0.7"/>
<line x1="580.12" y1="343.90" x2="580.12" y2="346.40" stroke="#222" stroke-width="0.7"/>
<line x1="587.72" y1="343.90" x2="587.72" y2="346.40" stroke="#222" stroke-width="0.7"/>
<line x1="595.33" y1="343.90" x2="595.33" y2="346.40" stroke="#222" stroke-width="0.7"/>
<line x1="602.94" y1="343.90" x2="602.94" y2="346.40" stroke="#222" stroke-width="0.7"/>
<line x1="610.54" y1="343.90" x2="610.54" y2="346.40" stroke="#222" stroke-width="0.7"/>
<line x1="618.15" y1="343.90" x2="618.15" y2="346.40" stroke="#222" stroke-width="0.7"/>
<line x1="625.75" y1="343.90" x2="625.75" y2="346.40" stroke="#222" stroke-width="0.7"/>
<line x1="633.36" y1="343.90" x2="633.36" y2="346.40" stroke="#222" stroke-width="0.7"/>
<line x1="640.96" y1="343.90" x2="640.96" y2="346.40" stroke="#222" stroke-width="0.7"/>
<line x1="648.57" y1="343.90" x2="648.57" y2="346.40" stroke="#222" stroke-width="0.7"/>
<line x1="656.17" y1="343.90" x2="656.17" y2="346.40" stroke="#222" stroke-width="0.7"/>
<line x1="663.78" y1="343.90" x2="663.78" y2="346.40" stroke="#222" stroke-width="0.7"/>
<line x1="671.38" y1="343.90" x2="671.38" y2="346.40" stroke="#222" stroke-width="0.7"/>
<line x1="678.99" y1="343.90" x2="678.99" y2="346.40" stroke="#222" stroke-width="0.7"/>
<line x1="686.59" y1="343.90" x2="686.59" y2="346.40" stroke="#222" stroke-width="0.7"/>
<line x1="694.20" y1="343.90" x2="694.20" y2="346.40" stroke="#222" stroke-width="0.7"/>
<line x1="412.80" y1="12.50" x2="412.80" y2="10.70" stroke="#222" stroke-width="0.7"/>
<line x1="420.41" y1="12.50" x2="420.41" y2="10.70" stroke="#222" stroke-width="0.7"/>
<line x1="428.01" y1="12.50" x2="428.01" y2="9.10" stroke="#222" stroke-width="0.7"/>
<line x1="435.62" y1="12.50" x2="435.62" y2="10.70" stroke="#222" stroke-width="0.7"/>
<line x1="443.22" y1="12.50" x2="443.22" y2="10.70" stroke="#222" stroke-width="0.7"/>
<line x1="450.83" y1="12.50" x2="450.83" y2="10.70" stroke="#222" stroke-width="0.7"/>
<line x1="458.43" y1="12.50" x2="458.43" y2="10.70" stroke="#222" stroke-width="0.7"/>
<line x1="466.04" y1="12.50" x2="466.04" y2="10.70" stroke="#222" stroke-width="0.7"/>
<line x1="473.64" y1="12.50" x2="473.64" y2="10.70" stroke="#222" stroke-width="0.7"/>
<line x1="481.25" y1="12.50" x2="481.25" y2="10.70" stroke="#222" stroke-width="0.7"/>
<line x1="488.85" y1="12.50" x2="488.85" y2="10.70" stroke="#222" stroke-width="0.7"/>
<line x1="496.46" y1="12.50" x2="496.46" y2="10.70" stroke="#222" stroke-width="0.7"/>
<line x1="504.06" y1="12.50" x2="504.06" y2="9.10" stroke="#222" stroke-width="0.7"/>
<line x1="511.67" y1="12.50" x2="511.67" y2="10.70" stroke="#222" stroke-width="0.7"/>
<line x1="519.28" y1="12.50" x2="519.28" y2="10.70" stroke="#222" stroke-width="0.7"/>
<line x1="526.88" y1="12.50" x2="526.88" y2="10.70" stroke="#222" stroke-width="0.7"/>
<line x1="534.49" y1="12.50" x2="534.49" y2="10.70" stroke="#222" stroke-width="0.7"/>
<line x1="542.09" y1="12.50" x2="542.09" y2="10.70" stroke="#222" stroke-width="0.7"/>
<line x1="549.70" y1="12.50" x2="549.70" y2="10.70" stroke="#222" stroke-width="0.7"/>
<line x1="557.30" y1="12.50" x2="557.30" y2="10.70" stroke="#222" stroke-width="0.7"/>
<line x1="564.91" y1="12.50" x2="564.91" y2="10.70" stroke="#222" stroke-width="0.7"/>
<line x1="572.51" y1="12.50" x2="572.51" y2="10.70" stroke="#222" stroke-width="0.7"/>
<line x1="580.12" y1="12.50" x2="580.12" y2="9.10" stroke="#222" stroke-width="0.7"/>
<line x1="587.72" y1="12.50" x2="587.72" y2="10.70" stroke="#222" stroke-width="0.7"/>
<line x1="595.33" y1="12.50" x2="595.33" y2="10.70" stroke="#222" stroke-width="0.7"/>
<line x1="602.94" y1="12.50" x2="602.94" y2="10.70" stroke="#222" stroke-width="0.7"/>
<line x1="610.54" y1="12.50" x2="610.54" y2="10.70" stroke="#222" stroke-width="0.7"/>
<line x1="618.15" y1="12.50" x2="618.15" y2="10.70" stroke="#222" stroke-width="0.7"/>
<line x1="625.75" y1="12.50" x2="625.75" y2="10.70" stroke="#222" stroke-width="0.7"/>
<line x1="633.36" y1="12.50" x2="633.36" y2="10.70" stroke="#222" stroke-width="0.7"/>
<line x1="640.96" y1="12.50" x2="640.96" y2="10.70" stroke="#222" stroke-width="0.7"/>
<line x1="648.57" y1="12.50" x2="648.57" y2="10.70" stroke="#222" stroke-width="0.7"/>
<line x1="656.17" y1="12.50" x2="656.17" y2="9.10" stroke="#222" stroke-width="0.7"/>
<line x1="663.78" y1="12.50" x2="663.78" y2="10.70" stroke="#222" stroke-width="0.7"/>
<line x1="671.38" y1="12.50" x2="671.38" y2="10.70" stroke="#222" stroke-width="0.7"/>
<line x1="678.99" y1="12.50" x2="678.99" y2="10.70" stroke="#222" stroke-width="0.7"/>
<line x1="686.59" y1="12.50" x2="686.59" y2="10.70" stroke="#222" stroke-width="0.7"/>
<line x1="694.20" y1="12.50" x2="694.20" y2="10.70" stroke="#222" stroke-width="0.7"/>
<line x1="412.80" y1="12.50" x2="694.20" y2="12.50" stroke="#555" stroke-width="0.7"/>
<line x1="412.80" y1="346.40" x2="694.20" y2="346.40" stroke="#333" stroke-width="0.8"/>
<line x1="412.80" y1="427.30" x2="694.20" y2="427.30" stroke="#333" stroke-width="0.8"/>
<line x1="412.80" y1="427.30" x2="412.80" y2="429.10" stroke="#222" stroke-width="0.7"/>
<line x1="420.41" y1="427.30" x2="420.41" y2="429.10" stroke="#222" stroke-width="0.7"/>
<line x1="428.01" y1="427.30" x2="428.01" y2="430.70" stroke="#222" stroke-width="0.7"/>
<line x1="435.62" y1="427.30" x2="435.62" y2="429.10" stroke="#222" stroke-width="0.7"/>
<line x1="443.22" y1="427.30" x2="443.22" y2="429.10" stroke="#222" stroke-width="0.7"/>
<line x1="450.83" y1="427.30" x2="450.83" y2="429.10" stroke="#222" stroke-width="0.7"/>
<line x1="458.43" y1="427.30" x2="458.43" y2="429.10" stroke="#222" stroke-width="0.7"/>
<line x1="466.04" y1="427.30" x2="466.04" y2="429.10" stroke="#222" stroke-width="0.7"/>
<line x1="473.64" y1="427.30" x2="473.64" y2="429.10" stroke="#222" stroke-width="0.7"/>
<line x1="481.25" y1="427.30" x2="481.25" y2="429.10" stroke="#222" stroke-width="0.7"/>
<line x1="488.85" y1="427.30" x2="488.85" y2="429.10" stroke="#222" stroke-width="0.7"/>
<line x1="496.46" y1="427.30" x2="496.46" y2="429.10" stroke="#222" stroke-width="0.7"/>
<line x1="504.06" y1="427.30" x2="504.06" y2="430.70" stroke="#222" stroke-width="0.7"/>
<line x1="511.67" y1="427.30" x2="511.67" y2="429.10" stroke="#222" stroke-width="0.7"/>
<line x1="519.28" y1="427.30" x2="519.28" y2="429.10" stroke="#222" stroke-width="0.7"/>
<line x1="526.88" y1="427.30" x2="526.88" y2="429.10" stroke="#222" stroke-width="0.7"/>
<line x1="534.49" y1="427.30" x2="534.49" y2="429.10" stroke="#222" stroke-width="0.7"/>
<line x1="542.09" y1="427.30" x2="542.09" y2="429.10" stroke="#222" stroke-width="0.7"/>
<line x1="549.70" y1="427.30" x2="549.70" y2="429.10" stroke="#222" stroke-width="0.7"/>
<line x1="557.30" y1="427.30" x2="557.30" y2="429.10" stroke="#222" stroke-width="0.7"/>
<line x1="564.91" y1="427.30" x2="564.91" y2="429.10" stroke="#222" stroke-width="0.7"/>
<line x1="572.51" y1="427.30" x2="572.51" y2="429.10" stroke="#222" stroke-width="0.7"/>
<line x1="580.12" y1="427.30" x2="580.12" y2="430.70" stroke="#222" stroke-width="0.7"/>
<line x1="587.72" y1="427.30" x2="587.72" y2="429.10" stroke="#222" stroke-width="0.7"/>
<line x1="595.33" y1="427.30" x2="595.33" y2="429.10" stroke="#222" stroke-width="0.7"/>
<line x1="602.94" y1="427.30" x2="602.94" y2="429.10" stroke="#222" stroke-width="0.7"/>
<line x1="610.54" y1="427.30" x2="610.54" y2="429.10" stroke="#222" stroke-width="0.7"/>
<line x1="618.15" y1="427.30" x2="618.15" y2="429.10" stroke="#222" stroke-width="0.7"/>
<line x1="625.75" y1="427.30" x2="625.75" y2="429.10" stroke="#222" stroke-width="0.7"/>
<line x1="633.36" y1="427.30" x2="633.36" y2="429.10" stroke="#222" stroke-width="0.7"/>
<line x1="640.96" y1="427.30" x2="640.96" y2="429.10" stroke="#222" stroke-width="0.7"/>
<line x1="648.57" y1="427.30" x2="648.57" y2="429.10" stroke="#222" stroke-width="0.7"/>
<line x1="656.17" y1="427.30" x2="656.17" y2="430.70" stroke="#222" stroke-width="0.7"/>
<line x1="663.78" y1="427.30" x2="663.78" y2="429.10" stroke="#222" stroke-width="0.7"/>
<line x1="671.38" y1="427.30" x2="671.38" y2="429.10" stroke="#222" stroke-width="0.7"/>
<line x1="678.99" y1="427.30" x2="678.99" y2="429.10" stroke="#222" stroke-width="0.7"/>
<line x1="686.59" y1="427.30" x2="686.59" y2="429.10" stroke="#222" stroke-width="0.7"/>
<line x1="694.20" y1="427.30" x2="694.20" y2="429.10" stroke="#222" stroke-width="0.7"/>
<line x1="412.80" y1="12.50" x2="412.80" y2="427.30" stroke="#333" stroke-width="0.8"/>
<line x1="694.20" y1="12.50" x2="694.20" y2="427.30" stroke="#333" stroke-width="0.8"/>
<line x1="63.50" y1="83.70" x2="59.90" y2="83.70" stroke="#222" stroke-width="0.7"/>
<line x1="344.30" y1="83.70" x2="347.90" y2="83.70" stroke="#222" stroke-width="0.7"/>
<line x1="63.50" y1="53.20" x2="59.90" y2="53.20" stroke="#222" stroke-width="0.7"/>
<line x1="344.30" y1="53.20" x2="347.90" y2="53.20" stroke="#222" stroke-width="0.7"/>
<line x1="63.50" y1="22.70" x2="59.90" y2="22.70" stroke="#222" stroke-width="0.7"/>
<line x1="344.30" y1="22.70" x2="347.90" y2="22.70" stroke="#222" stroke-width="0.7"/>
<line x1="63.50" y1="92.88" x2="61.60" y2="92.88" stroke="#222" stroke-width="0.6"/>
<line x1="344.30" y1="92.88" x2="346.20" y2="92.88" stroke="#222" stroke-width="0.6"/>
<line x1="63.50" y1="90.47" x2="61.60" y2="90.47" stroke="#222" stroke-width="0.6"/>
<line x1="344.30" y1="90.47" x2="346.20" y2="90.47" stroke="#222" stroke-width="0.6"/>
<line x1="63.50" y1="88.42" x2="61.60" y2="88.42" stroke="#222" stroke-width="0.6"/>
<line x1="344.30" y1="88.42" x2="346.20" y2="88.42" stroke="#222" stroke-width="0.6"/>
<line x1="63.50" y1="86.66" x2="61.60" y2="86.66" stroke="#222" stroke-width="0.6"/>
<line x1="344.30" y1="86.66" x2="346.20" y2="86.66" stroke="#222" stroke-width="0.6"/>
<line x1="63.50" y1="85.10" x2="61.60" y2="85.10" stroke="#222" stroke-width="0.6"/>
<line x1="344.30" y1="85.10" x2="346.20" y2="85.10" stroke="#222" stroke-width="0.6"/>
<line x1="63.50" y1="74.52" x2="61.60" y2="74.52" stroke="#222" stroke-width="0.6"/>
<line x1="344.30" y1="74.52" x2="346.20" y2="74.52" stroke="#222" stroke-width="0.6"/>
<line x1="63.50" y1="69.15" x2="61.60" y2="69.15" stroke="#222" stroke-width="0.6"/>
<line x1="344.30" y1="69.15" x2="346.20" y2="69.15" stroke="#222" stroke-width="0.6"/>
<line x1="63.50" y1="65.34" x2="61.60" y2="65.34" stroke="#222" stroke-width="0.6"/>
<line x1="344.30" y1="65.34" x2="346.20" y2="65.34" stroke="#222" stroke-width="0.6"/>
<line x1="63.50" y1="62.38" x2="61.60" y2="62.38" stroke="#222" stroke-width="0.6"/>
<line x1="344.30" y1="62.38" x2="346.20" y2="62.38" stroke="#222" stroke-width="0.6"/>
<line x1="63.50" y1="59.97" x2="61.60" y2="59.97" stroke="#222" stroke-width="0.6"/>
<line x1="344.30" y1="59.97" x2="346.20" y2="59.97" stroke="#222" stroke-width="0.6"/>
<line x1="63.50" y1="57.92" x2="61.60" y2="57.92" stroke="#222" stroke-width="0.6"/>
<line x1="344.30" y1="57.92" x2="346.20" y2="57.92" stroke="#222" stroke-width="0.6"/>
<line x1="63.50" y1="56.16" x2="61.60" y2="56.16" stroke="#222" stroke-width="0.6"/>
<line x1="344.30" y1="56.16" x2="346.20" y2="56.16" stroke="#222" stroke-width="0.6"/>
<line x1="63.50" y1="54.60" x2="61.60" y2="54.60" stroke="#222" stroke-width="0.6"/>
<line x1="344.30" y1="54.60" x2="346.20" y2="54.60" stroke="#222" stroke-width="0.6"/>
<line x1="63.50" y1="44.02" x2="61.60" y2="44.02" stroke="#222" stroke-width="0.6"/>
<line x1="344.30" y1="44.02" x2="346.20" y2="44.02" stroke="#222" stroke-width="0.6"/>
<line x1="63.50" y1="38.65" x2="61.60" y2="38.65" stroke="#222" stroke-width="0.6"/>
<line x1="344.30" y1="38.65" x2="346.20" y2="38.65" stroke="#222" stroke-width="0.6"/>
<line x1="63.50" y1="34.84" x2="61.60" y2="34.84" stroke="#222" stroke-width="0.6"/>
<line x1="344.30" y1="34.84" x2="346.20" y2="34.84" stroke="#222" stroke-width="0.6"/>
<line x1="63.50" y1="31.88" x2="61.60" y2="31.88" stroke="#222" stroke-width="0.6"/>
<line x1="344.30" y1="31.88" x2="346.20" y2="31.88" stroke="#222" stroke-width="0.6"/>
<line x1="63.50" y1="29.47" x2="61.60" y2="29.47" stroke="#222" stroke-width="0.6"/>
<line x1="344.30" y1="29.47" x2="346.20" y2="29.47" stroke="#222" stroke-width="0.6"/>
<line x1="63.50" y1="27.42" x2="61.60" y2="27.42" stroke="#222" stroke-width="0.6"/>
<line x1="344.30" y1="27.42" x2="346.20" y2="27.42" stroke="#222" stroke-width="0.6"/>
<line x1="63.50" y1="25.66" x2="61.60" y2="25.66" stroke="#222" stroke-width="0.6"/>
<line x1="344.30" y1="25.66" x2="346.20" y2="25.66" stroke="#222" stroke-width="0.6"/>
<line x1="63.50" y1="24.10" x2="61.60" y2="24.10" stroke="#222" stroke-width="0.6"/>
<line x1="344.30" y1="24.10" x2="346.20" y2="24.10" stroke="#222" stroke-width="0.6"/>
<line x1="63.50" y1="13.52" x2="61.60" y2="13.52" stroke="#222" stroke-width="0.6"/>
<line x1="344.30" y1="13.52" x2="346.20" y2="13.52" stroke="#222" stroke-width="0.6"/>
<line x1="63.50" y1="177.20" x2="59.90" y2="177.20" stroke="#222" stroke-width="0.7"/>
<line x1="344.30" y1="177.20" x2="347.90" y2="177.20" stroke="#222" stroke-width="0.7"/>
<line x1="63.50" y1="154.80" x2="59.90" y2="154.80" stroke="#222" stroke-width="0.7"/>
<line x1="344.30" y1="154.80" x2="347.90" y2="154.80" stroke="#222" stroke-width="0.7"/>
<line x1="63.50" y1="132.40" x2="59.90" y2="132.40" stroke="#222" stroke-width="0.7"/>
<line x1="344.30" y1="132.40" x2="347.90" y2="132.40" stroke="#222" stroke-width="0.7"/>
<line x1="63.50" y1="110.00" x2="59.90" y2="110.00" stroke="#222" stroke-width="0.7"/>
<line x1="344.30" y1="110.00" x2="347.90" y2="110.00" stroke="#222" stroke-width="0.7"/>
<line x1="63.50" y1="172.72" x2="61.60" y2="172.72" stroke="#222" stroke-width="0.6"/>
<line x1="344.30" y1="172.72" x2="346.20" y2="172.72" stroke="#222" stroke-width="0.6"/>
<line x1="63.50" y1="168.24" x2="61.60" y2="168.24" stroke="#222" stroke-width="0.6"/>
<line x1="344.30" y1="168.24" x2="346.20" y2="168.24" stroke="#222" stroke-width="0.6"/>
<line x1="63.50" y1="163.76" x2="61.60" y2="163.76" stroke="#222" stroke-width="0.6"/>
<line x1="344.30" y1="163.76" x2="346.20" y2="163.76" stroke="#222" stroke-width="0.6"/>
<line x1="63.50" y1="159.28" x2="61.60" y2="159.28" stroke="#222" stroke-width="0.6"/>
<line x1="344.30" y1="159.28" x2="346.20" y2="159.28" stroke="#222" stroke-width="0.6"/>
<line x1="63.50" y1="150.32" x2="61.60" y2="150.32" stroke="#222" stroke-width="0.6"/>
<line x1="344.30" y1="150.32" x2="346.20" y2="150.32" stroke="#222" stroke-width="0.6"/>
<line x1="63.50" y1="145.84" x2="61.60" y2="145.84" stroke="#222" stroke-width="0.6"/>
<line x1="344.30" y1="145.84" x2="346.20" y2="145.84" stroke="#222" stroke-width="0.6"/>
<line x1="63.50" y1="141.36" x2="61.60" y2="141.36" stroke="#222" stroke-width="0.6"/>
<line x1="344.30" y1="141.36" x2="346.20" y2="141.36" stroke="#222" stroke-width="0.6"/>
<line x1="63.50" y1="136.88" x2="61.60" y2="136.88" stroke="#222" stroke-width="0.6"/>
<line x1="344.30" y1="136.88" x2="346.20" y2="136.88" stroke="#222" stroke-width="0.6"/>
<line x1="63.50" y1="127.92" x2="61.60" y2="127.92" stroke="#222" stroke-width="0.6"/>
<line x1="344.30" y1="127.92" x2="346.20" y2="127.92" stroke="#222" stroke-width="0.6"/>
<line x1="63.50" y1="123.44" x2="61.60" y2="123.44" stroke="#222" stroke-width="0.6"/>
<line x1="344.30" y1="123.44" x2="346.20" y2="123.44" stroke="#222" stroke-width="0.6"/>
<line x1="63.50" y1="118.96" x2="61.60" y2="118.96" stroke="#222" stroke-width="0.6"/>
<line x1="344.30" y1="118.96" x2="346.20" y2="118.96" stroke="#222" stroke-width="0.6"/>
<line x1="63.50" y1="114.48" x2="61.60" y2="114.48" stroke="#222" stroke-width="0.6"/>
<line x1="344.30" y1="114.48" x2="346.20" y2="114.48" stroke="#222" stroke-width="0.6"/>
<line x1="63.50" y1="105.52" x2="61.60" y2="105.52" stroke="#222" stroke-width="0.6"/>
<line x1="344.30" y1="105.52" x2="346.20" y2="105.52" stroke="#222" stroke-width="0.6"/>
<line x1="63.50" y1="101.04" x2="61.60" y2="101.04" stroke="#222" stroke-width="0.6"/>
<line x1="344.30" y1="101.04" x2="346.20" y2="101.04" stroke="#222" stroke-width="0.6"/>
<line x1="63.50" y1="243.10" x2="59.90" y2="243.10" stroke="#222" stroke-width="0.7"/>
<line x1="344.30" y1="243.10" x2="347.90" y2="243.10" stroke="#222" stroke-width="0.7"/>
<line x1="63.50" y1="220.80" x2="59.90" y2="220.80" stroke="#222" stroke-width="0.7"/>
<line x1="344.30" y1="220.80" x2="347.90" y2="220.80" stroke="#222" stroke-width="0.7"/>
<line x1="63.50" y1="198.50" x2="59.90" y2="198.50" stroke="#222" stroke-width="0.7"/>
<line x1="344.30" y1="198.50" x2="347.90" y2="198.50" stroke="#222" stroke-width="0.7"/>
<line x1="63.50" y1="256.48" x2="61.60" y2="256.48" stroke="#222" stroke-width="0.6"/>
<line x1="344.30" y1="256.48" x2="346.20" y2="256.48" stroke="#222" stroke-width="0.6"/>
<line x1="63.50" y1="252.02" x2="61.60" y2="252.02" stroke="#222" stroke-width="0.6"/>
<line x1="344.30" y1="252.02" x2="346.20" y2="252.02" stroke="#222" stroke-width="0.6"/>
<line x1="63.50" y1="247.56" x2="61.60" y2="247.56" stroke="#222" stroke-width="0.6"/>
<line x1="344.30" y1="247.56" x2="346.20" y2="247.56" stroke="#222" stroke-width="0.6"/>
<line x1="63.50" y1="238.64" x2="61.60" y2="238.64" stroke="#222" stroke-width="0.6"/>
<line x1="344.30" y1="238.64" x2="346.20" y2="238.64" stroke="#222" stroke-width="0.6"/>
<line x1="63.50" y1="234.18" x2="61.60" y2="234.18" stroke="#222" stroke-width="0.6"/>
<line x1="344.30" y1="234.18" x2="346.20" y2="234.18" stroke="#222" stroke-width="0.6"/>
<line x1="63.50" y1="229.72" x2="61.60" y2="229.72" stroke="#222" stroke-width="0.6"/>
<line x1="344.30" y1="229.72" x2="346.20" y2="229.72" stroke="#222" stroke-width="0.6"/>
<line x1="63.50" y1="225.26" x2="61.60" y2="225.26" stroke="#222" stroke-width="0.6"/>
<line x1="344.30" y1="225.26" x2="346.20" y2="225.26" stroke="#222" stroke-width="0.6"/>
<line x1="63.50" y1="216.34" x2="61.60" y2="216.34" stroke="#222" stroke-width="0.6"/>
<line x1="344.30" y1="216.34" x2="346.20" y2="216.34" stroke="#222" stroke-width="0.6"/>
<line x1="63.50" y1="211.88" x2="61.60" y2="211.88" stroke="#222" stroke-width="0.6"/>
<line x1="344.30" y1="211.88" x2="346.20" y2="211.88" stroke="#222" stroke-width="0.6"/>
<line x1="63.50" y1="207.42" x2="61.60" y2="207.42" stroke="#222" stroke-width="0.6"/>
<line x1="344.30" y1="207.42" x2="346.20" y2="207.42" stroke="#222" stroke-width="0.6"/>
<line x1="63.50" y1="202.96" x2="61.60" y2="202.96" stroke="#222" stroke-width="0.6"/>
<line x1="344.30" y1="202.96" x2="346.20" y2="202.96" stroke="#222" stroke-width="0.6"/>
<line x1="63.50" y1="194.04" x2="61.60" y2="194.04" stroke="#222" stroke-width="0.6"/>
<line x1="344.30" y1="194.04" x2="346.20" y2="194.04" stroke="#222" stroke-width="0.6"/>
<line x1="63.50" y1="189.58" x2="61.60" y2="189.58" stroke="#222" stroke-width="0.6"/>
<line x1="344.30" y1="189.58" x2="346.20" y2="189.58" stroke="#222" stroke-width="0.6"/>
<line x1="63.50" y1="185.12" x2="61.60" y2="185.12" stroke="#222" stroke-width="0.6"/>
<line x1="344.30" y1="185.12" x2="346.20" y2="185.12" stroke="#222" stroke-width="0.6"/>
<line x1="63.50" y1="394.00" x2="59.90" y2="394.00" stroke="#222" stroke-width="0.7"/>
<line x1="344.30" y1="394.00" x2="347.90" y2="394.00" stroke="#222" stroke-width="0.7"/>
<line x1="63.50" y1="420.14" x2="61.60" y2="420.14" stroke="#222" stroke-width="0.6"/>
<line x1="344.30" y1="420.14" x2="346.20" y2="420.14" stroke="#222" stroke-width="0.6"/>
<line x1="63.50" y1="413.90" x2="61.60" y2="413.90" stroke="#222" stroke-width="0.6"/>
<line x1="344.30" y1="413.90" x2="346.20" y2="413.90" stroke="#222" stroke-width="0.6"/>
<line x1="63.50" y1="409.05" x2="61.60" y2="409.05" stroke="#222" stroke-width="0.6"/>
<line x1="344.30" y1="409.05" x2="346.20" y2="409.05" stroke="#222" stroke-width="0.6"/>
<line x1="63.50" y1="405.09" x2="61.60" y2="405.09" stroke="#222" stroke-width="0.6"/>
<line x1="344.30" y1="405.09" x2="346.20" y2="405.09" stroke="#222" stroke-width="0.6"/>
<line x1="63.50" y1="401.75" x2="61.60" y2="401.75" stroke="#222" stroke-width="0.6"/>
<line x1="344.30" y1="401.75" x2="346.20" y2="401.75" stroke="#222" stroke-width="0.6"/>
<line x1="63.50" y1="398.85" x2="61.60" y2="398.85" stroke="#222" stroke-width="0.6"/>
<line x1="344.30" y1="398.85" x2="346.20" y2="398.85" stroke="#222" stroke-width="0.6"/>
<line x1="63.50" y1="396.29" x2="61.60" y2="396.29" stroke="#222" stroke-width="0.6"/>
<line x1="344.30" y1="396.29" x2="346.20" y2="396.29" stroke="#222" stroke-width="0.6"/>
<line x1="63.50" y1="378.95" x2="61.60" y2="378.95" stroke="#222" stroke-width="0.6"/>
<line x1="344.30" y1="378.95" x2="346.20" y2="378.95" stroke="#222" stroke-width="0.6"/>
<line x1="63.50" y1="370.14" x2="61.60" y2="370.14" stroke="#222" stroke-width="0.6"/>
<line x1="344.30" y1="370.14" x2="346.20" y2="370.14" stroke="#222" stroke-width="0.6"/>
<line x1="63.50" y1="363.90" x2="61.60" y2="363.90" stroke="#222" stroke-width="0.6"/>
<line x1="344.30" y1="363.90" x2="346.20" y2="363.90" stroke="#222" stroke-width="0.6"/>
<line x1="63.50" y1="359.05" x2="61.60" y2="359.05" stroke="#222" stroke-width="0.6"/>
<line x1="344.30" y1="359.05" x2="346.20" y2="359.05" stroke="#222" stroke-width="0.6"/>
<line x1="63.50" y1="355.09" x2="61.60" y2="355.09" stroke="#222" stroke-width="0.6"/>
<line x1="344.30" y1="355.09" x2="346.20" y2="355.09" stroke="#222" stroke-width="0.6"/>
<line x1="63.50" y1="351.75" x2="61.60" y2="351.75" stroke="#222" stroke-width="0.6"/>
<line x1="344.30" y1="351.75" x2="346.20" y2="351.75" stroke="#222" stroke-width="0.6"/>
<line x1="63.50" y1="348.85" x2="61.60" y2="348.85" stroke="#222" stroke-width="0.6"/>
<line x1="344.30" y1="348.85" x2="346.20" y2="348.85" stroke="#222" stroke-width="0.6"/>
<line x1="63.50" y1="346.29" x2="61.60" y2="346.29" stroke="#222" stroke-width="0.6"/>
<line x1="344.30" y1="346.29" x2="346.20" y2="346.29" stroke="#222" stroke-width="0.6"/>
<line x1="412.80" y1="83.70" x2="409.20" y2="83.70" stroke="#222" stroke-width="0.7"/>
<line x1="694.20" y1="83.70" x2="697.80" y2="83.70" stroke="#222" stroke-width="0.7"/>
<line x1="412.80" y1="53.20" x2="409.20" y2="53.20" stroke="#222" stroke-width="0.7"/>
<line x1="694.20" y1="53.20" x2="697.80" y2="53.20" stroke="#222" stroke-width="0.7"/>
<line x1="412.80" y1="22.70" x2="409.20" y2="22.70" stroke="#222" stroke-width="0.7"/>
<line x1="694.20" y1="22.70" x2="697.80" y2="22.70" stroke="#222" stroke-width="0.7"/>
<line x1="412.80" y1="92.88" x2="410.90" y2="92.88" stroke="#222" stroke-width="0.6"/>
<line x1="694.20" y1="92.88" x2="696.10" y2="92.88" stroke="#222" stroke-width="0.6"/>
<line x1="412.80" y1="90.47" x2="410.90" y2="90.47" stroke="#222" stroke-width="0.6"/>
<line x1="694.20" y1="90.47" x2="696.10" y2="90.47" stroke="#222" stroke-width="0.6"/>
<line x1="412.80" y1="88.42" x2="410.90" y2="88.42" stroke="#222" stroke-width="0.6"/>
<line x1="694.20" y1="88.42" x2="696.10" y2="88.42" stroke="#222" stroke-width="0.6"/>
<line x1="412.80" y1="86.66" x2="410.90" y2="86.66" stroke="#222" stroke-width="0.6"/>
<line x1="694.20" y1="86.66" x2="696.10" y2="86.66" stroke="#222" stroke-width="0.6"/>
<line x1="412.80" y1="85.10" x2="410.90" y2="85.10" stroke="#222" stroke-width="0.6"/>
<line x1="694.20" y1="85.10" x2="696.10" y2="85.10" stroke="#222" stroke-width="0.6"/>
<line x1="412.80" y1="74.52" x2="410.90" y2="74.52" stroke="#222" stroke-width="0.6"/>
<line x1="694.20" y1="74.52" x2="696.10" y2="74.52" stroke="#222" stroke-width="0.6"/>
<line x1="412.80" y1="69.15" x2="410.90" y2="69.15" stroke="#222" stroke-width="0.6"/>
<line x1="694.20" y1="69.15" x2="696.10" y2="69.15" stroke="#222" stroke-width="0.6"/>
<line x1="412.80" y1="65.34" x2="410.90" y2="65.34" stroke="#222" stroke-width="0.6"/>
<line x1="694.20" y1="65.34" x2="696.10" y2="65.34" stroke="#222" stroke-width="0.6"/>
<line x1="412.80" y1="62.38" x2="410.90" y2="62.38" stroke="#222" stroke-width="0.6"/>
<line x1="694.20" y1="62.38" x2="696.10" y2="62.38" stroke="#222" stroke-width="0.6"/>
<line x1="412.80" y1="59.97" x2="410.90" y2="59.97" stroke="#222" stroke-width="0.6"/>
<line x1="694.20" y1="59.97" x2="696.10" y2="59.97" stroke="#222" stroke-width="0.6"/>
<line x1="412.80" y1="57.92" x2="410.90" y2="57.92" stroke="#222" stroke-width="0.6"/>
<line x1="694.20" y1="57.92" x2="696.10" y2="57.92" stroke="#222" stroke-width="0.6"/>
<line x1="412.80" y1="56.16" x2="410.90" y2="56.16" stroke="#222" stroke-width="0.6"/>
<line x1="694.20" y1="56.16" x2="696.10" y2="56.16" stroke="#222" stroke-width="0.6"/>
<line x1="412.80" y1="54.60" x2="410.90" y2="54.60" stroke="#222" stroke-width="0.6"/>
<line x1="694.20" y1="54.60" x2="696.10" y2="54.60" stroke="#222" stroke-width="0.6"/>
<line x1="412.80" y1="44.02" x2="410.90" y2="44.02" stroke="#222" stroke-width="0.6"/>
<line x1="694.20" y1="44.02" x2="696.10" y2="44.02" stroke="#222" stroke-width="0.6"/>
<line x1="412.80" y1="38.65" x2="410.90" y2="38.65" stroke="#222" stroke-width="0.6"/>
<line x1="694.20" y1="38.65" x2="696.10" y2="38.65" stroke="#222" stroke-width="0.6"/>
<line x1="412.80" y1="34.84" x2="410.90" y2="34.84" stroke="#222" stroke-width="0.6"/>
<line x1="694.20" y1="34.84" x2="696.10" y2="34.84" stroke="#222" stroke-width="0.6"/>
<line x1="412.80" y1="31.88" x2="410.90" y2="31.88" stroke="#222" stroke-width="0.6"/>
<line x1="694.20" y1="31.88" x2="696.10" y2="31.88" stroke="#222" stroke-width="0.6"/>
<line x1="412.80" y1="29.47" x2="410.90" y2="29.47" stroke="#222" stroke-width="0.6"/>
<line x1="694.20" y1="29.47" x2="696.10" y2="29.47" stroke="#222" stroke-width="0.6"/>
<line x1="412.80" y1="27.42" x2="410.90" y2="27.42" stroke="#222" stroke-width="0.6"/>
<line x1="694.20" y1="27.42" x2="696.10" y2="27.42" stroke="#222" stroke-width="0.6"/>
<line x1="412.80" y1="25.66" x2="410.90" y2="25.66" stroke="#222" stroke-width="0.6"/>
<line x1="694.20" y1="25.66" x2="696.10" y2="25.66" stroke="#222" stroke-width="0.6"/>
<line x1="412.80" y1="24.10" x2="410.90" y2="24.10" stroke="#222" stroke-width="0.6"/>
<line x1="694.20" y1="24.10" x2="696.10" y2="24.10" stroke="#222" stroke-width="0.6"/>
<line x1="412.80" y1="13.52" x2="410.90" y2="13.52" stroke="#222" stroke-width="0.6"/>
<line x1="694.20" y1="13.52" x2="696.10" y2="13.52" stroke="#222" stroke-width="0.6"/>
<line x1="412.80" y1="177.20" x2="409.20" y2="177.20" stroke="#222" stroke-width="0.7"/>
<line x1="694.20" y1="177.20" x2="697.80" y2="177.20" stroke="#222" stroke-width="0.7"/>
<line x1="412.80" y1="154.80" x2="409.20" y2="154.80" stroke="#222" stroke-width="0.7"/>
<line x1="694.20" y1="154.80" x2="697.80" y2="154.80" stroke="#222" stroke-width="0.7"/>
<line x1="412.80" y1="132.40" x2="409.20" y2="132.40" stroke="#222" stroke-width="0.7"/>
<line x1="694.20" y1="132.40" x2="697.80" y2="132.40" stroke="#222" stroke-width="0.7"/>
<line x1="412.80" y1="110.00" x2="409.20" y2="110.00" stroke="#222" stroke-width="0.7"/>
<line x1="694.20" y1="110.00" x2="697.80" y2="110.00" stroke="#222" stroke-width="0.7"/>
<line x1="412.80" y1="172.72" x2="410.90" y2="172.72" stroke="#222" stroke-width="0.6"/>
<line x1="694.20" y1="172.72" x2="696.10" y2="172.72" stroke="#222" stroke-width="0.6"/>
<line x1="412.80" y1="168.24" x2="410.90" y2="168.24" stroke="#222" stroke-width="0.6"/>
<line x1="694.20" y1="168.24" x2="696.10" y2="168.24" stroke="#222" stroke-width="0.6"/>
<line x1="412.80" y1="163.76" x2="410.90" y2="163.76" stroke="#222" stroke-width="0.6"/>
<line x1="694.20" y1="163.76" x2="696.10" y2="163.76" stroke="#222" stroke-width="0.6"/>
<line x1="412.80" y1="159.28" x2="410.90" y2="159.28" stroke="#222" stroke-width="0.6"/>
<line x1="694.20" y1="159.28" x2="696.10" y2="159.28" stroke="#222" stroke-width="0.6"/>
<line x1="412.80" y1="150.32" x2="410.90" y2="150.32" stroke="#222" stroke-width="0.6"/>
<line x1="694.20" y1="150.32" x2="696.10" y2="150.32" stroke="#222" stroke-width="0.6"/>
<line x1="412.80" y1="145.84" x2="410.90" y2="145.84" stroke="#222" stroke-width="0.6"/>
<line x1="694.20" y1="145.84" x2="696.10" y2="145.84" stroke="#222" stroke-width="0.6"/>
<line x1="412.80" y1="141.36" x2="410.90" y2="141.36" stroke="#222" stroke-width="0.6"/>
<line x1="694.20" y1="141.36" x2="696.10" y2="141.36" stroke="#222" stroke-width="0.6"/>
<line x1="412.80" y1="136.88" x2="410.90" y2="136.88" stroke="#222" stroke-width="0.6"/>
<line x1="694.20" y1="136.88" x2="696.10" y2="136.88" stroke="#222" stroke-width="0.6"/>
<line x1="412.80" y1="127.92" x2="410.90" y2="127.92" stroke="#222" stroke-width="0.6"/>
<line x1="694.20" y1="127.92" x2="696.10" y2="127.92" stroke="#222" stroke-width="0.6"/>
<line x1="412.80" y1="123.44" x2="410.90" y2="123.44" stroke="#222" stroke-width="0.6"/>
<line x1="694.20" y1="123.44" x2="696.10" y2="123.44" stroke="#222" stroke-width="0.6"/>
<line x1="412.80" y1="118.96" x2="410.90" y2="118.96" stroke="#222" stroke-width="0.6"/>
<line x1="694.20" y1="118.96" x2="696.10" y2="118.96" stroke="#222" stroke-width="0.6"/>
<line x1="412.80" y1="114.48" x2="410.90" y2="114.48" stroke="#222" stroke-width="0.6"/>
<line x1="694.20" y1="114.48" x2="696.10" y2="114.48" stroke="#222" stroke-width="0.6"/>
<line x1="412.80" y1="105.52" x2="410.90" y2="105.52" stroke="#222" stroke-width="0.6"/>
<line x1="694.20" y1="105.52" x2="696.10" y2="105.52" stroke="#222" stroke-width="0.6"/>
<line x1="412.80" y1="101.04" x2="410.90" y2="101.04" stroke="#222" stroke-width="0.6"/>
<line x1="694.20" y1="101.04" x2="696.10" y2="101.04" stroke="#222" stroke-width="0.6"/>
<line x1="412.80" y1="243.10" x2="409.20" y2="243.10" stroke="#222" stroke-width="0.7"/>
<line x1="694.20" y1="243.10" x2="697.80" y2="243.10" stroke="#222" stroke-width="0.7"/>
<line x1="412.80" y1="220.80" x2="409.20" y2="220.80" stroke="#222" stroke-width="0.7"/>
<line x1="694.20" y1="220.80" x2="697.80" y2="220.80" stroke="#222" stroke-width="0.7"/>
<line x1="412.80" y1="198.50" x2="409.20" y2="198.50" stroke="#222" stroke-width="0.7"/>
<line x1="694.20" y1="198.50" x2="697.80" y2="198.50" stroke="#222" stroke-width="0.7"/>
<line x1="412.80" y1="256.48" x2="410.90" y2="256.48" stroke="#222" stroke-width="0.6"/>
<line x1="694.20" y1="256.48" x2="696.10" y2="256.48" stroke="#222" stroke-width="0.6"/>
<line x1="412.80" y1="252.02" x2="410.90" y2="252.02" stroke="#222" stroke-width="0.6"/>
<line x1="694.20" y1="252.02" x2="696.10" y2="252.02" stroke="#222" stroke-width="0.6"/>
<line x1="412.80" y1="247.56" x2="410.90" y2="247.56" stroke="#222" stroke-width="0.6"/>
<line x1="694.20" y1="247.56" x2="696.10" y2="247.56" stroke="#222" stroke-width="0.6"/>
<line x1="412.80" y1="238.64" x2="410.90" y2="238.64" stroke="#222" stroke-width="0.6"/>
<line x1="694.20" y1="238.64" x2="696.10" y2="238.64" stroke="#222" stroke-width="0.6"/>
<line x1="412.80" y1="234.18" x2="410.90" y2="234.18" stroke="#222" stroke-width="0.6"/>
<line x1="694.20" y1="234.18" x2="696.10" y2="234.18" stroke="#222" stroke-width="0.6"/>
<line x1="412.80" y1="229.72" x2="410.90" y2="229.72" stroke="#222" stroke-width="0.6"/>
<line x1="694.20" y1="229.72" x2="696.10" y2="229.72" stroke="#222" stroke-width="0.6"/>
<line x1="412.80" y1="225.26" x2="410.90" y2="225.26" stroke="#222" stroke-width="0.6"/>
<line x1="694.20" y1="225.26" x2="696.10" y2="225.26" stroke="#222" stroke-width="0.6"/>
<line x1="412.80" y1="216.34" x2="410.90" y2="216.34" stroke="#222" stroke-width="0.6"/>
<line x1="694.20" y1="216.34" x2="696.10" y2="216.34" stroke="#222" stroke-width="0.6"/>
<line x1="412.80" y1="211.88" x2="410.90" y2="211.88" stroke="#222" stroke-width="0.6"/>
<line x1="694.20" y1="211.88" x2="696.10" y2="211.88" stroke="#222" stroke-width="0.6"/>
<line x1="412.80" y1="207.42" x2="410.90" y2="207.42" stroke="#222" stroke-width="0.6"/>
<line x1="694.20" y1="207.42" x2="696.10" y2="207.42" stroke="#222" stroke-width="0.6"/>
<line x1="412.80" y1="202.96" x2="410.90" y2="202.96" stroke="#222" stroke-width="0.6"/>
<line x1="694.20" y1="202.96" x2="696.10" y2="202.96" stroke="#222" stroke-width="0.6"/>
<line x1="412.80" y1="194.04" x2="410.90" y2="194.04" stroke="#222" stroke-width="0.6"/>
<line x1="694.20" y1="194.04" x2="696.10" y2="194.04" stroke="#222" stroke-width="0.6"/>
<line x1="412.80" y1="189.58" x2="410.90" y2="189.58" stroke="#222" stroke-width="0.6"/>
<line x1="694.20" y1="189.58" x2="696.10" y2="189.58" stroke="#222" stroke-width="0.6"/>
<line x1="412.80" y1="185.12" x2="410.90" y2="185.12" stroke="#222" stroke-width="0.6"/>
<line x1="694.20" y1="185.12" x2="696.10" y2="185.12" stroke="#222" stroke-width="0.6"/>
<line x1="412.80" y1="394.00" x2="409.20" y2="394.00" stroke="#222" stroke-width="0.7"/>
<line x1="694.20" y1="394.00" x2="697.80" y2="394.00" stroke="#222" stroke-width="0.7"/>
<line x1="412.80" y1="420.14" x2="410.90" y2="420.14" stroke="#222" stroke-width="0.6"/>
<line x1="694.20" y1="420.14" x2="696.10" y2="420.14" stroke="#222" stroke-width="0.6"/>
<line x1="412.80" y1="413.90" x2="410.90" y2="413.90" stroke="#222" stroke-width="0.6"/>
<line x1="694.20" y1="413.90" x2="696.10" y2="413.90" stroke="#222" stroke-width="0.6"/>
<line x1="412.80" y1="409.05" x2="410.90" y2="409.05" stroke="#222" stroke-width="0.6"/>
<line x1="694.20" y1="409.05" x2="696.10" y2="409.05" stroke="#222" stroke-width="0.6"/>
<line x1="412.80" y1="405.09" x2="410.90" y2="405.09" stroke="#222" stroke-width="0.6"/>
<line x1="694.20" y1="405.09" x2="696.10" y2="405.09" stroke="#222" stroke-width="0.6"/>
<line x1="412.80" y1="401.75" x2="410.90" y2="401.75" stroke="#222" stroke-width="0.6"/>
<line x1="694.20" y1="401.75" x2="696.10" y2="401.75" stroke="#222" stroke-width="0.6"/>
<line x1="412.80" y1="398.85" x2="410.90" y2="398.85" stroke="#222" stroke-width="0.6"/>
<line x1="694.20" y1="398.85" x2="696.10" y2="398.85" stroke="#222" stroke-width="0.6"/>
<line x1="412.80" y1="396.29" x2="410.90" y2="396.29" stroke="#222" stroke-width="0.6"/>
<line x1="694.20" y1="396.29" x2="696.10" y2="396.29" stroke="#222" stroke-width="0.6"/>
<line x1="412.80" y1="378.95" x2="410.90" y2="378.95" stroke="#222" stroke-width="0.6"/>
<line x1="694.20" y1="378.95" x2="696.10" y2="378.95" stroke="#222" stroke-width="0.6"/>
<line x1="412.80" y1="370.14" x2="410.90" y2="370.14" stroke="#222" stroke-width="0.6"/>
<line x1="694.20" y1="370.14" x2="696.10" y2="370.14" stroke="#222" stroke-width="0.6"/>
<line x1="412.80" y1="363.90" x2="410.90" y2="363.90" stroke="#222" stroke-width="0.6"/>
<line x1="694.20" y1="363.90" x2="696.10" y2="363.90" stroke="#222" stroke-width="0.6"/>
<line x1="412.80" y1="359.05" x2="410.90" y2="359.05" stroke="#222" stroke-width="0.6"/>
<line x1="694.20" y1="359.05" x2="696.10" y2="359.05" stroke="#222" stroke-width="0.6"/>
<line x1="412.80" y1="355.09" x2="410.90" y2="355.09" stroke="#222" stroke-width="0.6"/>
<line x1="694.20" y1="355.09" x2="696.10" y2="355.09" stroke="#222" stroke-width="0.6"/>
<line x1="412.80" y1="351.75" x2="410.90" y2="351.75" stroke="#222" stroke-width="0.6"/>
<line x1="694.20" y1="351.75" x2="696.10" y2="351.75" stroke="#222" stroke-width="0.6"/>
<line x1="412.80" y1="348.85" x2="410.90" y2="348.85" stroke="#222" stroke-width="0.6"/>
<line x1="694.20" y1="348.85" x2="696.10" y2="348.85" stroke="#222" stroke-width="0.6"/>
<line x1="412.80" y1="346.29" x2="410.90" y2="346.29" stroke="#222" stroke-width="0.6"/>
<line x1="694.20" y1="346.29" x2="696.10" y2="346.29" stroke="#222" stroke-width="0.6"/>
<line x1="63.50" y1="293.20" x2="59.90" y2="293.20" stroke="#222" stroke-width="0.7"/>
<line x1="344.30" y1="293.20" x2="347.90" y2="293.20" stroke="#222" stroke-width="0.7"/>
<line x1="63.50" y1="331.64" x2="61.60" y2="331.64" stroke="#222" stroke-width="0.6"/>
<line x1="344.30" y1="331.64" x2="346.20" y2="331.64" stroke="#222" stroke-width="0.6"/>
<line x1="63.50" y1="321.96" x2="61.60" y2="321.96" stroke="#222" stroke-width="0.6"/>
<line x1="344.30" y1="321.96" x2="346.20" y2="321.96" stroke="#222" stroke-width="0.6"/>
<line x1="63.50" y1="315.09" x2="61.60" y2="315.09" stroke="#222" stroke-width="0.6"/>
<line x1="344.30" y1="315.09" x2="346.20" y2="315.09" stroke="#222" stroke-width="0.6"/>
<line x1="63.50" y1="309.76" x2="61.60" y2="309.76" stroke="#222" stroke-width="0.6"/>
<line x1="344.30" y1="309.76" x2="346.20" y2="309.76" stroke="#222" stroke-width="0.6"/>
<line x1="63.50" y1="305.40" x2="61.60" y2="305.40" stroke="#222" stroke-width="0.6"/>
<line x1="344.30" y1="305.40" x2="346.20" y2="305.40" stroke="#222" stroke-width="0.6"/>
<line x1="63.50" y1="301.72" x2="61.60" y2="301.72" stroke="#222" stroke-width="0.6"/>
<line x1="344.30" y1="301.72" x2="346.20" y2="301.72" stroke="#222" stroke-width="0.6"/>
<line x1="63.50" y1="298.53" x2="61.60" y2="298.53" stroke="#222" stroke-width="0.6"/>
<line x1="344.30" y1="298.53" x2="346.20" y2="298.53" stroke="#222" stroke-width="0.6"/>
<line x1="63.50" y1="295.72" x2="61.60" y2="295.72" stroke="#222" stroke-width="0.6"/>
<line x1="344.30" y1="295.72" x2="346.20" y2="295.72" stroke="#222" stroke-width="0.6"/>
<line x1="63.50" y1="276.64" x2="61.60" y2="276.64" stroke="#222" stroke-width="0.6"/>
<line x1="344.30" y1="276.64" x2="346.20" y2="276.64" stroke="#222" stroke-width="0.6"/>
<line x1="63.50" y1="266.96" x2="61.60" y2="266.96" stroke="#222" stroke-width="0.6"/>
<line x1="344.30" y1="266.96" x2="346.20" y2="266.96" stroke="#222" stroke-width="0.6"/>
<line x1="412.80" y1="320.70" x2="409.20" y2="320.70" stroke="#222" stroke-width="0.7"/>
<line x1="694.20" y1="320.70" x2="697.80" y2="320.70" stroke="#222" stroke-width="0.7"/>
<line x1="412.80" y1="276.70" x2="409.20" y2="276.70" stroke="#222" stroke-width="0.7"/>
<line x1="694.20" y1="276.70" x2="697.80" y2="276.70" stroke="#222" stroke-width="0.7"/>
<line x1="412.80" y1="343.71" x2="410.90" y2="343.71" stroke="#222" stroke-width="0.6"/>
<line x1="694.20" y1="343.71" x2="696.10" y2="343.71" stroke="#222" stroke-width="0.6"/>
<line x1="412.80" y1="338.21" x2="410.90" y2="338.21" stroke="#222" stroke-width="0.6"/>
<line x1="694.20" y1="338.21" x2="696.10" y2="338.21" stroke="#222" stroke-width="0.6"/>
<line x1="412.80" y1="333.95" x2="410.90" y2="333.95" stroke="#222" stroke-width="0.6"/>
<line x1="694.20" y1="333.95" x2="696.10" y2="333.95" stroke="#222" stroke-width="0.6"/>
<line x1="412.80" y1="330.46" x2="410.90" y2="330.46" stroke="#222" stroke-width="0.6"/>
<line x1="694.20" y1="330.46" x2="696.10" y2="330.46" stroke="#222" stroke-width="0.6"/>
<line x1="412.80" y1="327.52" x2="410.90" y2="327.52" stroke="#222" stroke-width="0.6"/>
<line x1="694.20" y1="327.52" x2="696.10" y2="327.52" stroke="#222" stroke-width="0.6"/>
<line x1="412.80" y1="324.96" x2="410.90" y2="324.96" stroke="#222" stroke-width="0.6"/>
<line x1="694.20" y1="324.96" x2="696.10" y2="324.96" stroke="#222" stroke-width="0.6"/>
<line x1="412.80" y1="322.71" x2="410.90" y2="322.71" stroke="#222" stroke-width="0.6"/>
<line x1="694.20" y1="322.71" x2="696.10" y2="322.71" stroke="#222" stroke-width="0.6"/>
<line x1="412.80" y1="307.45" x2="410.90" y2="307.45" stroke="#222" stroke-width="0.6"/>
<line x1="694.20" y1="307.45" x2="696.10" y2="307.45" stroke="#222" stroke-width="0.6"/>
<line x1="412.80" y1="299.71" x2="410.90" y2="299.71" stroke="#222" stroke-width="0.6"/>
<line x1="694.20" y1="299.71" x2="696.10" y2="299.71" stroke="#222" stroke-width="0.6"/>
<line x1="412.80" y1="294.21" x2="410.90" y2="294.21" stroke="#222" stroke-width="0.6"/>
<line x1="694.20" y1="294.21" x2="696.10" y2="294.21" stroke="#222" stroke-width="0.6"/>
<line x1="412.80" y1="289.95" x2="410.90" y2="289.95" stroke="#222" stroke-width="0.6"/>
<line x1="694.20" y1="289.95" x2="696.10" y2="289.95" stroke="#222" stroke-width="0.6"/>
<line x1="412.80" y1="286.46" x2="410.90" y2="286.46" stroke="#222" stroke-width="0.6"/>
<line x1="694.20" y1="286.46" x2="696.10" y2="286.46" stroke="#222" stroke-width="0.6"/>
<line x1="412.80" y1="283.52" x2="410.90" y2="283.52" stroke="#222" stroke-width="0.6"/>
<line x1="694.20" y1="283.52" x2="696.10" y2="283.52" stroke="#222" stroke-width="0.6"/>
<line x1="412.80" y1="280.96" x2="410.90" y2="280.96" stroke="#222" stroke-width="0.6"/>
<line x1="694.20" y1="280.96" x2="696.10" y2="280.96" stroke="#222" stroke-width="0.6"/>
<line x1="412.80" y1="278.71" x2="410.90" y2="278.71" stroke="#222" stroke-width="0.6"/>
<line x1="694.20" y1="278.71" x2="696.10" y2="278.71" stroke="#222" stroke-width="0.6"/>
<line x1="412.80" y1="263.45" x2="410.90" y2="263.45" stroke="#222" stroke-width="0.6"/>
<line x1="694.20" y1="263.45" x2="696.10" y2="263.45" stroke="#222" stroke-width="0.6"/>
<text x="55.30" y="26.50" font-family='"Liberation Sans", sans-serif' font-size="11" text-anchor="end" letter-spacing="0.4" fill="#222">10000</text>
<text x="55.30" y="57.00" font-family='"Liberation Sans", sans-serif' font-size="11" text-anchor="end" letter-spacing="0.4" fill="#222">1000</text>
<text x="55.30" y="87.50" font-family='"Liberation Sans", sans-serif' font-size="11" text-anchor="end" letter-spacing="0.4" fill="#222">100</text>
<text x="55.30" y="177.30" font-family='"Liberation Sans", sans-serif' font-size="11" text-anchor="end" letter-spacing="0.4" fill="#222">0</text>
<text x="55.30" y="158.60" font-family='"Liberation Sans", sans-serif' font-size="11" text-anchor="end" letter-spacing="0.4" fill="#222">100</text>
<text x="55.30" y="136.20" font-family='"Liberation Sans", sans-serif' font-size="11" text-anchor="end" letter-spacing="0.4" fill="#222">200</text>
<text x="55.30" y="113.80" font-family='"Liberation Sans", sans-serif' font-size="11" text-anchor="end" letter-spacing="0.4" fill="#222">300</text>
<text x="55.30" y="246.90" font-family='"Liberation Sans", sans-serif' font-size="11" text-anchor="end" letter-spacing="0.4" fill="#222">−50</text>
<text x="55.30" y="224.60" font-family='"Liberation Sans", sans-serif' font-size="11" text-anchor="end" letter-spacing="0.4" fill="#222">0</text>
<text x="55.30" y="202.30" font-family='"Liberation Sans", sans-serif' font-size="11" text-anchor="end" letter-spacing="0.4" fill="#222">50</text>
<text x="55.30" y="397.80" font-family='"Liberation Sans", sans-serif' font-size="11" text-anchor="end" letter-spacing="0.4" fill="#222">0.1</text>
<text x="405.40" y="26.50" font-family='"Liberation Sans", sans-serif' font-size="11" text-anchor="end" letter-spacing="0.4" fill="#222">10000</text>
<text x="405.40" y="57.00" font-family='"Liberation Sans", sans-serif' font-size="11" text-anchor="end" letter-spacing="0.4" fill="#222">1000</text>
<text x="405.40" y="87.50" font-family='"Liberation Sans", sans-serif' font-size="11" text-anchor="end" letter-spacing="0.4" fill="#222">100</text>
<text x="405.40" y="177.30" font-family='"Liberation Sans", sans-serif' font-size="11" text-anchor="end" letter-spacing="0.4" fill="#222">0</text>
<text x="405.40" y="158.60" font-family='"Liberation Sans", sans-serif' font-size="11" text-anchor="end" letter-spacing="0.4" fill="#222">100</text>
<text x="405.40" y="136.20" font-family='"Liberation Sans", sans-serif' font-size="11" text-anchor="end" letter-spacing="0.4" fill="#222">200</text>
<text x="405.40" y="113.80" font-family='"Liberation Sans", sans-serif' font-size="11" text-anchor="end" letter-spacing="0.4" fill="#222">300</text>
<text x="405.40" y="246.90" font-family='"Liberation Sans", sans-serif' font-size="11" text-anchor="end" letter-spacing="0.4" fill="#222">−50</text>
<text x="405.40" y="224.60" font-family='"Liberation Sans", sans-serif' font-size="11" text-anchor="end" letter-spacing="0.4" fill="#222">0</text>
<text x="405.40" y="202.30" font-family='"Liberation Sans", sans-serif' font-size="11" text-anchor="end" letter-spacing="0.4" fill="#222">50</text>
<text x="405.40" y="397.80" font-family='"Liberation Sans", sans-serif' font-size="11" text-anchor="end" letter-spacing="0.4" fill="#222">0.1</text>
<text x="55.30" y="297.00" font-family='"Liberation Sans", sans-serif' font-size="11" text-anchor="end" letter-spacing="0.4" fill="#222">10000</text>
<text x="405.40" y="280.50" font-family='"Liberation Sans", sans-serif' font-size="11" text-anchor="end" letter-spacing="0.4" fill="#222">10000</text>
<text x="405.40" y="324.50" font-family='"Liberation Sans", sans-serif' font-size="11" text-anchor="end" letter-spacing="0.4" fill="#222">1000</text>
<text x="78.68" y="446.60" font-family='"Liberation Sans", sans-serif' font-size="11" text-anchor="middle" letter-spacing="0.4" fill="#222">200</text>
<text x="154.57" y="446.60" font-family='"Liberation Sans", sans-serif' font-size="11" text-anchor="middle" letter-spacing="0.4" fill="#222">300</text>
<text x="230.46" y="446.60" font-family='"Liberation Sans", sans-serif' font-size="11" text-anchor="middle" letter-spacing="0.4" fill="#222">400</text>
<text x="306.35" y="446.60" font-family='"Liberation Sans", sans-serif' font-size="11" text-anchor="middle" letter-spacing="0.4" fill="#222">500</text>
<text x="204.40" y="460.30" font-family='"Liberation Sans", sans-serif' font-size="11" text-anchor="middle" letter-spacing="0.72" fill="#222">seconds after 13:16:59</text>
<text x="428.01" y="446.60" font-family='"Liberation Sans", sans-serif' font-size="11" text-anchor="middle" letter-spacing="0.4" fill="#222">200</text>
<text x="504.06" y="446.60" font-family='"Liberation Sans", sans-serif' font-size="11" text-anchor="middle" letter-spacing="0.4" fill="#222">300</text>
<text x="580.12" y="446.60" font-family='"Liberation Sans", sans-serif' font-size="11" text-anchor="middle" letter-spacing="0.4" fill="#222">400</text>
<text x="656.17" y="446.60" font-family='"Liberation Sans", sans-serif' font-size="11" text-anchor="middle" letter-spacing="0.4" fill="#222">500</text>
<text x="554.00" y="460.30" font-family='"Liberation Sans", sans-serif' font-size="11" text-anchor="middle" letter-spacing="0.72" fill="#222">seconds after 13:16:59</text>
<text x="13.20" y="53.00" font-family='"Liberation Sans", sans-serif' font-size="11" text-anchor="middle" letter-spacing="0.6" fill="#222" transform="rotate(-90 13.20 53.00)" word-spacing="2.5">energy [eV]</text>
<text x="27.00" y="136.70" font-family='"Liberation Sans", sans-serif' font-size="11" text-anchor="middle" letter-spacing="0.6" fill="#222" transform="rotate(-90 27.00 136.70)" word-spacing="2.5">phi [°]</text>
<text x="24.60" y="220.80" font-family='"Liberation Sans", sans-serif' font-size="11" text-anchor="middle" letter-spacing="0.6" fill="#222" transform="rotate(-90 24.60 220.80)" word-spacing="2.5">theta [°]</text>
<text x="13.00" y="303.80" font-family='"Liberation Sans", sans-serif' font-size="11" text-anchor="middle" letter-spacing="0.6" fill="#222" transform="rotate(-90 13.00 303.80)" word-spacing="2.5">energy [eV]</text>
<text x="31.60" y="386.90" font-family='"Liberation Sans", sans-serif' font-size="11" text-anchor="middle" letter-spacing="0.6" fill="#222" transform="rotate(-90 31.60 386.90)">flux</text>
<text x="-0.90" y="11.70" font-family='"Liberation Serif", serif' font-size="17.5" fill="#111">(</text>
<text transform="translate(6.20,11.70) scale(1.17,1)" x="0" y="0" font-family='"Liberation Serif", serif' font-size="15.5" fill="#111">a</text>
<text x="15.30" y="11.70" font-family='"Liberation Serif", serif' font-size="17.5" fill="#111">)</text>
<text x="-0.90" y="99.30" font-family='"Liberation Serif", serif' font-size="17.5" fill="#111">(</text>
<text transform="translate(6.20,99.30) scale(1.17,1)" x="0" y="0" font-family='"Liberation Serif", serif' font-size="15.5" fill="#111">b</text>
<text x="15.30" y="99.30" font-family='"Liberation Serif", serif' font-size="17.5" fill="#111">)</text>
<text x="-0.90" y="178.60" font-family='"Liberation Serif", serif' font-size="17.5" fill="#111">(</text>
<text transform="translate(6.20,178.60) scale(1.17,1)" x="0" y="0" font-family='"Liberation Serif", serif' font-size="15.5" fill="#111">c</text>
<text x="15.30" y="178.60" font-family='"Liberation Serif", serif' font-size="17.5" fill="#111">)</text>
<text x="-0.90" y="261.90" font-family='"Liberation Serif", serif' font-size="17.5" fill="#111">(</text>
<text transform="translate(6.20,261.90) scale(1.17,1)" x="0" y="0" font-family='"Liberation Serif", serif' font-size="15.5" fill="#111">d</text>
<text x="15.30" y="261.90" font-family='"Liberation Serif", serif' font-size="17.5" fill="#111">)</text>
<text x="-0.90" y="351.20" font-family='"Liberation Serif", serif' font-size="17.5" fill="#111">(</text>
<text transform="translate(6.20,351.20) scale(1.17,1)" x="0" y="0" font-family='"Liberation Serif", serif' font-size="15.5" fill="#111">e</text>
<text x="15.30" y="351.20" font-family='"Liberation Serif", serif' font-size="17.5" fill="#111">)</text>
<text x="356.50" y="11.70" font-family='"Liberation Serif", serif' font-size="17.5" fill="#111">(</text>
<text transform="translate(363.60,11.70) scale(1.17,1)" x="0" y="0" font-family='"Liberation Serif", serif' font-size="15.5" fill="#111">f</text>
<text x="371.20" y="11.70" font-family='"Liberation Serif", serif' font-size="17.5" fill="#111">)</text>
<text x="356.50" y="95.00" font-family='"Liberation Serif", serif' font-size="17.5" fill="#111">(</text>
<text transform="translate(363.60,95.00) scale(1.17,1)" x="0" y="0" font-family='"Liberation Serif", serif' font-size="15.5" fill="#111">g</text>
<text x="372.70" y="95.00" font-family='"Liberation Serif", serif' font-size="17.5" fill="#111">)</text>
<text x="356.50" y="178.70" font-family='"Liberation Serif", serif' font-size="17.5" fill="#111">(</text>
<text transform="translate(363.60,178.70) scale(1.17,1)" x="0" y="0" font-family='"Liberation Serif", serif' font-size="15.5" fill="#111">h</text>
<text x="372.70" y="178.70" font-family='"Liberation Serif", serif' font-size="17.5" fill="#111">)</text>
<text x="356.50" y="262.10" font-family='"Liberation Serif", serif' font-size="17.5" fill="#111">(</text>
<text transform="translate(363.60,262.10) scale(1.17,1)" x="0" y="0" font-family='"Liberation Serif", serif' font-size="15.5" fill="#111">i</text>
<text x="369.00" y="262.10" font-family='"Liberation Serif", serif' font-size="17.5" fill="#111">)</text>
<text x="356.50" y="345.50" font-family='"Liberation Serif", serif' font-size="17.5" fill="#111">(</text>
<text transform="translate(363.60,345.50) scale(1.17,1)" x="0" y="0" font-family='"Liberation Serif", serif' font-size="15.5" fill="#111">j</text>
<text x="369.40" y="345.50" font-family='"Liberation Serif", serif' font-size="17.5" fill="#111">)</text>
<clipPath id="ce"><rect x="63.5" y="346.4" width="280.8" height="81"/></clipPath>
<clipPath id="cj"><rect x="412.8" y="346.4" width="281.40000000000003" height="81"/></clipPath>
<g clip-path="url(#ce)">
<path d="M63.50,408.70 L66.25,408.70 L66.25,411.60 L69.51,411.60 L69.51,410.30 L72.76,410.30 L72.76,413.90 L76.02,413.90 L76.02,412.60 L79.27,412.60 L79.27,421.10 L82.52,421.10 L82.52,405.10 L85.78,405.10 L85.78,412.30 L89.03,412.30 L89.03,414.90 L92.29,414.90 L92.29,399.50 L95.54,399.50 L95.54,379.10 L98.79,379.10 L98.79,358.70 L102.05,358.70 L102.05,358.30 L105.30,358.30 L105.30,370.20 L108.56,370.20 L108.56,386.00 L111.81,386.00 L111.81,393.30 L115.06,393.30 L115.06,396.70 L118.32,396.70 L118.32,399.30 L121.57,399.30 L121.57,373.90 L124.83,373.90 L124.83,368.70 L128.08,368.70 L128.08,380.90 L131.33,380.90 L131.33,391.70 L134.59,391.70 L134.59,401.00 L137.84,401.00 L137.84,409.40 L141.10,409.40 L141.10,413.50 L144.35,413.50 L144.35,408.60 L147.60,408.60 L147.60,409.40 L150.86,409.40 L150.86,411.60 L154.11,411.60 L154.11,418.90 L157.37,418.90 L157.37,416.20 L160.62,416.20 L160.62,409.20 L163.87,409.20 L163.87,412.50 L167.13,412.50 L167.13,414.70 L170.38,414.70 L170.38,414.20 L173.64,414.20 L173.64,416.70 L176.89,416.70 L176.89,414.20 L180.14,414.20 L180.14,421.60 L183.40,421.60 L183.40,423.00 L186.65,423.00 L186.65,406.40 L189.91,406.40 L189.91,415.70 L193.16,415.70 L193.16,419.10 L196.41,419.10 L196.41,419.60 L199.67,419.60 L199.67,407.40 L202.92,407.40 L202.92,414.20 L206.18,414.20 L206.18,412.30 L209.43,412.30 L209.43,418.20 L212.68,418.20 L212.68,413.30 L215.94,413.30 L215.94,408.40 L219.19,408.40 L219.19,420.10 L222.45,420.10 L222.45,413.80 L225.70,413.80 L225.70,409.40 L228.95,409.40 L228.95,419.60 L232.21,419.60 L232.21,411.50 L235.46,411.50 L235.46,412.30 L238.72,412.30 L238.72,419.10 L241.97,419.10 L241.97,410.50 L245.22,410.50 L245.22,415.70 L248.48,415.70 L248.48,423.10 L251.73,423.10 L251.73,413.30 L254.99,413.30 L254.99,407.90 L258.24,407.90 L258.24,416.20 L261.49,416.20 L261.49,406.20 L264.75,406.20 L264.75,408.40 L268.00,408.40 L268.00,415.70 L271.26,415.70 L271.26,418.20 L274.51,418.20 L274.51,404.50 L277.76,404.50 L277.76,407.90 L281.02,407.90 L281.02,419.00 L284.27,419.00 L284.27,410.30 L287.53,410.30 L287.53,405.40 L290.78,405.40 L290.78,413.00 L294.03,413.00 L294.03,411.40 L297.29,411.40 L297.29,426.00 L300.54,426.00 L300.54,413.00 L303.80,413.00 L303.80,412.50 L307.05,412.50 L307.05,412.00 L310.30,412.00 L310.30,408.70 L313.56,408.70 L313.56,400.50 L316.81,400.50 L316.81,414.70 L320.07,414.70 L320.07,410.70 L323.32,410.70 L323.32,413.90 L326.57,413.90 L326.57,411.40 L329.83,411.40 L329.83,409.60 L333.08,409.60 L333.08,412.80 L336.34,412.80 L336.34,413.90 L339.59,413.90 L339.59,410.30 L342.84,410.30 L342.84,410.30 L344.30,410.30" fill="none" stroke="#2f6aa8" stroke-width="1.15" stroke-linejoin="miter"/>
<path d="M63.50,402.20 L66.25,402.20 L66.25,396.60 L69.51,396.60 L69.51,400.20 L72.76,400.20 L72.76,403.40 L76.02,403.40 L76.02,407.40 L79.27,407.40 L79.27,405.40 L82.52,405.40 L82.52,415.50 L85.78,415.50 L85.78,409.70 L89.03,409.70 L89.03,394.00 L92.29,394.00 L92.29,386.40 L95.54,386.40 L95.54,367.20 L98.79,367.20 L98.79,359.00 L102.05,359.00 L102.05,357.40 L105.30,357.40 L105.30,360.40 L108.56,360.40 L108.56,371.30 L111.81,371.30 L111.81,383.50 L115.06,383.50 L115.06,389.50 L118.32,389.50 L118.32,385.60 L121.57,385.60 L121.57,365.50 L124.83,365.50 L124.83,360.30 L128.08,360.30 L128.08,372.60 L131.33,372.60 L131.33,381.30 L134.59,381.30 L134.59,392.30 L137.84,392.30 L137.84,396.80 L141.10,396.80 L141.10,396.40 L144.35,396.40 L144.35,396.40 L147.60,396.40 L147.60,399.10 L150.86,399.10 L150.86,407.10 L154.11,407.10 L154.11,402.10 L157.37,402.10 L157.37,413.90 L160.62,413.90 L160.62,408.70 L163.87,408.70 L163.87,398.40 L167.13,398.40 L167.13,403.80 L170.38,403.80 L170.38,406.40 L173.64,406.40 L173.64,397.60 L176.89,397.60 L176.89,398.10 L180.14,398.10 L180.14,405.90 L183.40,405.90 L183.40,401.30 L186.65,401.30 L186.65,401.70 L189.91,401.70 L189.91,414.70 L193.16,414.70 L193.16,405.00 L196.41,405.00 L196.41,396.10 L199.67,396.10 L199.67,404.00 L202.92,404.00 L202.92,396.40 L206.18,396.40 L206.18,409.20 L209.43,409.20 L209.43,410.30 L212.68,410.30 L212.68,408.40 L215.94,408.40 L215.94,403.30 L219.19,403.30 L219.19,398.60 L222.45,398.60 L222.45,402.30 L225.70,402.30 L225.70,408.40 L228.95,408.40 L228.95,406.90 L232.21,406.90 L232.21,403.50 L235.46,403.50 L235.46,405.60 L238.72,405.60 L238.72,394.70 L241.97,394.70 L241.97,407.40 L245.22,407.40 L245.22,403.50 L248.48,403.50 L248.48,414.20 L251.73,414.20 L251.73,411.30 L254.99,411.30 L254.99,406.90 L258.24,406.90 L258.24,405.00 L261.49,405.00 L261.49,405.60 L264.75,405.60 L264.75,395.50 L268.00,395.50 L268.00,402.00 L271.26,402.00 L271.26,407.40 L274.51,407.40 L274.51,399.10 L277.76,399.10 L277.76,404.50 L281.02,404.50 L281.02,397.70 L284.27,397.70 L284.27,403.80 L287.53,403.80 L287.53,408.20 L290.78,408.20 L290.78,397.60 L294.03,397.60 L294.03,401.10 L297.29,401.10 L297.29,409.60 L300.54,409.60 L300.54,397.30 L303.80,397.30 L303.80,398.40 L307.05,398.40 L307.05,395.40 L310.30,395.40 L310.30,396.20 L313.56,396.20 L313.56,391.30 L316.81,391.30 L316.81,395.40 L320.07,395.40 L320.07,396.20 L323.32,396.20 L323.32,398.40 L326.57,398.40 L326.57,399.10 L329.83,399.10 L329.83,410.00 L333.08,410.00 L333.08,394.80 L336.34,394.80 L336.34,392.60 L339.59,392.60 L339.59,404.10 L342.84,404.10 L342.84,404.90 L344.30,404.90" fill="none" stroke="#c8334a" stroke-width="1.15" stroke-linejoin="miter"/>
</g>
<g clip-path="url(#cj)">
<path d="M412.80,408.40 L413.23,408.40 L413.23,408.40 L416.36,408.40 L416.36,415.70 L419.48,415.70 L419.48,414.20 L422.61,414.20 L422.61,410.50 L425.74,410.50 L425.74,411.80 L428.87,411.80 L428.87,419.60 L432.00,419.60 L432.00,417.20 L435.12,417.20 L435.12,414.40 L438.25,414.40 L438.25,405.00 L441.38,405.00 L441.38,405.00 L444.51,405.00 L444.51,376.50 L447.64,376.50 L447.64,356.40 L450.76,356.40 L450.76,351.50 L453.89,351.50 L453.89,361.80 L457.02,361.80 L457.02,378.70 L460.15,378.70 L460.15,382.20 L463.28,382.20 L463.28,397.60 L466.40,397.60 L466.40,397.80 L469.53,397.80 L469.53,380.30 L472.66,380.30 L472.66,365.70 L475.79,365.70 L475.79,363.50 L478.92,363.50 L478.92,383.00 L482.04,383.00 L482.04,400.10 L485.17,400.10 L485.17,400.10 L488.30,400.10 L488.30,405.90 L491.43,405.90 L491.43,410.20 L494.56,410.20 L494.56,415.90 L497.68,415.90 L497.68,404.60 L500.81,404.60 L500.81,408.50 L503.94,408.50 L503.94,402.40 L507.07,402.40 L507.07,410.70 L510.20,410.70 L510.20,410.70 L513.32,410.70 L513.32,421.50 L516.45,421.50 L516.45,416.30 L519.58,416.30 L519.58,418.50 L522.71,418.50 L522.71,412.70 L525.84,412.70 L525.84,413.30 L528.96,413.30 L528.96,418.50 L532.09,418.50 L532.09,413.70 L535.22,413.70 L535.22,418.50 L538.35,418.50 L538.35,409.30 L541.48,409.30 L541.48,418.90 L544.60,418.90 L544.60,413.30 L547.73,413.30 L547.73,416.70 L550.86,416.70 L550.86,412.80 L553.99,412.80 L553.99,415.00 L557.12,415.00 L557.12,415.00 L560.24,415.00 L560.24,412.40 L563.37,412.40 L563.37,411.10 L566.50,411.10 L566.50,412.00 L569.63,412.00 L569.63,415.90 L572.76,415.90 L572.76,413.30 L575.88,413.30 L575.88,410.70 L579.01,410.70 L579.01,408.50 L582.14,408.50 L582.14,414.60 L585.27,414.60 L585.27,412.80 L588.40,412.80 L588.40,414.10 L591.52,414.10 L591.52,409.80 L594.65,409.80 L594.65,404.60 L597.78,404.60 L597.78,408.00 L600.91,408.00 L600.91,409.30 L604.04,409.30 L604.04,412.00 L607.16,412.00 L607.16,417.60 L610.29,417.60 L610.29,405.00 L613.42,405.00 L613.42,422.40 L616.55,422.40 L616.55,414.60 L619.68,414.60 L619.68,415.00 L622.80,415.00 L622.80,404.60 L625.93,404.60 L625.93,408.00 L629.06,408.00 L629.06,412.10 L632.19,412.10 L632.19,409.20 L635.32,409.20 L635.32,416.30 L638.44,416.30 L638.44,411.70 L641.57,411.70 L641.57,408.60 L644.70,408.60 L644.70,413.20 L647.83,413.20 L647.83,407.60 L650.96,407.60 L650.96,422.90 L654.08,422.90 L654.08,412.70 L657.21,412.70 L657.21,408.50 L660.34,408.50 L660.34,402.50 L663.47,402.50 L663.47,395.40 L666.60,395.40 L666.60,410.00 L669.72,410.00 L669.72,400.80 L672.85,400.80 L672.85,410.00 L675.98,410.00 L675.98,419.30 L679.11,419.30 L679.11,417.10 L682.24,417.10 L682.24,412.80 L685.36,412.80 L685.36,413.80 L688.49,413.80 L688.49,411.70 L691.62,411.70 L691.62,412.20 L694.20,412.20" fill="none" stroke="#2f6aa8" stroke-width="1.15" stroke-linejoin="miter"/>
<path d="M412.80,399.00 L413.23,399.00 L413.23,395.70 L416.36,395.70 L416.36,391.30 L419.48,391.30 L419.48,398.10 L422.61,398.10 L422.61,399.60 L425.74,399.60 L425.74,394.70 L428.87,394.70 L428.87,393.20 L432.00,393.20 L432.00,405.40 L435.12,405.40 L435.12,398.10 L438.25,398.10 L438.25,390.80 L441.38,390.80 L441.38,387.30 L444.51,387.30 L444.51,368.40 L447.64,368.40 L447.64,351.00 L450.76,351.00 L450.76,347.20 L453.89,347.20 L453.89,352.10 L457.02,352.10 L457.02,367.30 L460.15,367.30 L460.15,371.10 L463.28,371.10 L463.28,385.30 L466.40,385.30 L466.40,387.00 L469.53,387.00 L469.53,369.50 L472.66,369.50 L472.66,361.30 L475.79,361.30 L475.79,358.60 L478.92,358.60 L478.92,366.20 L482.04,366.20 L482.04,381.50 L485.17,381.50 L485.17,388.40 L488.30,388.40 L488.30,389.80 L491.43,389.80 L491.43,391.70 L494.56,391.70 L494.56,403.50 L497.68,403.50 L497.68,390.30 L500.81,390.30 L500.81,401.00 L503.94,401.00 L503.94,400.40 L507.07,400.40 L507.07,396.60 L510.20,396.60 L510.20,401.00 L513.32,401.00 L513.32,389.70 L516.45,389.70 L516.45,408.50 L519.58,408.50 L519.58,398.90 L522.71,398.90 L522.71,405.40 L525.84,405.40 L525.84,405.60 L528.96,405.60 L528.96,409.20 L532.09,409.20 L532.09,397.20 L535.22,397.20 L535.22,398.90 L538.35,398.90 L538.35,405.90 L541.48,405.90 L541.48,404.60 L544.60,404.60 L544.60,400.70 L547.73,400.70 L547.73,396.30 L550.86,396.30 L550.86,403.30 L553.99,403.30 L553.99,401.10 L557.12,401.10 L557.12,398.50 L560.24,398.50 L560.24,396.30 L563.37,396.30 L563.37,393.70 L566.50,393.70 L566.50,400.70 L569.63,400.70 L569.63,404.00 L572.76,404.00 L572.76,400.70 L575.88,400.70 L575.88,402.80 L579.01,402.80 L579.01,397.20 L582.14,397.20 L582.14,414.10 L585.27,414.10 L585.27,405.40 L588.40,405.40 L588.40,391.80 L591.52,391.80 L591.52,402.80 L594.65,402.80 L594.65,403.70 L597.78,403.70 L597.78,410.20 L600.91,410.20 L600.91,403.70 L604.04,403.70 L604.04,404.60 L607.16,404.60 L607.16,404.60 L610.29,404.60 L610.29,408.00 L613.42,408.00 L613.42,406.70 L616.55,406.70 L616.55,403.70 L619.68,403.70 L619.68,408.00 L622.80,408.00 L622.80,402.80 L625.93,402.80 L625.93,397.60 L629.06,397.60 L629.06,403.80 L632.19,403.80 L632.19,402.00 L635.32,402.00 L635.32,406.10 L638.44,406.10 L638.44,401.50 L641.57,401.50 L641.57,397.40 L644.70,397.40 L644.70,405.10 L647.83,405.10 L647.83,394.90 L650.96,394.90 L650.96,394.90 L654.08,394.90 L654.08,403.00 L657.21,403.00 L657.21,400.20 L660.34,400.20 L660.34,391.50 L663.47,391.50 L663.47,379.10 L666.60,379.10 L666.60,387.20 L669.72,387.20 L669.72,397.50 L672.85,397.50 L672.85,400.30 L675.98,400.30 L675.98,387.20 L679.11,387.20 L679.11,394.80 L682.24,394.80 L682.24,394.30 L685.36,394.30 L685.36,392.10 L688.49,392.10 L688.49,402.40 L691.62,402.40 L691.62,401.30 L694.20,401.30" fill="none" stroke="#c8334a" stroke-width="1.15" stroke-linejoin="miter"/>
</g>
<g shape-rendering="crispEdges">
<rect x="701.90" y="54.30" width="4.30" height="1.40" fill="#d90100"/>
<rect x="701.90" y="55.65" width="4.30" height="1.40" fill="#dd0300"/>
<rect x="701.90" y="56.99" width="4.30" height="1.40" fill="#e00600"/>
<rect x="701.90" y="58.34" width="4.30" height="1.40" fill="#e40800"/>
<rect x="701.90" y="59.68" width="4.30" height="1.40" fill="#e80a00"/>
<rect x="701.90" y="61.03" width="4.30" height="1.40" fill="#eb0d00"/>
<rect x="701.90" y="62.38" width="4.30" height="1.40" fill="#ef0f00"/>
<rect x="701.90" y="63.72" width="4.30" height="1.40" fill="#f31100"/>
<rect x="701.90" y="65.07" width="4.30" height="1.40" fill="#f61400"/>
<rect x="701.90" y="66.41" width="4.30" height="1.40" fill="#fa1600"/>
<rect x="701.90" y="67.76" width="4.30" height="1.40" fill="#fe1800"/>
<rect x="701.90" y="69.10" width="4.30" height="1.40" fill="#ff2200"/>
<rect x="701.90" y="70.45" width="4.30" height="1.40" fill="#ff2f00"/>
<rect x="701.90" y="71.80" width="4.30" height="1.40" fill="#ff3d00"/>
<rect x="701.90" y="73.14" width="4.30" height="1.40" fill="#ff4a00"/>
<rect x="701.90" y="74.49" width="4.30" height="1.40" fill="#ff5700"/>
<rect x="701.90" y="75.83" width="4.30" height="1.40" fill="#ff6400"/>
<rect x="701.90" y="77.18" width="4.30" height="1.40" fill="#ff7100"/>
<rect x="701.90" y="78.53" width="4.30" height="1.40" fill="#ff7e00"/>
<rect x="701.90" y="79.87" width="4.30" height="1.40" fill="#ff8a00"/>
<rect x="701.90" y="81.22" width="4.30" height="1.40" fill="#ff9600"/>
<rect x="701.90" y="82.56" width="4.30" height="1.40" fill="#ffa100"/>
<rect x="701.90" y="83.91" width="4.30" height="1.40" fill="#ffad00"/>
<rect x="701.90" y="85.25" width="4.30" height="1.40" fill="#ffb900"/>
<rect x="701.90" y="86.60" width="4.30" height="1.40" fill="#ffc500"/>
<rect x="701.90" y="87.95" width="4.30" height="1.40" fill="#fed000"/>
<rect x="701.90" y="89.29" width="4.30" height="1.40" fill="#fbd800"/>
<rect x="701.90" y="90.64" width="4.30" height="1.40" fill="#f7e000"/>
<rect x="701.90" y="91.98" width="4.30" height="1.40" fill="#f4e900"/>
<rect x="701.90" y="93.33" width="4.30" height="1.40" fill="#f1f100"/>
<rect x="701.90" y="94.67" width="4.30" height="1.40" fill="#edf900"/>
<rect x="701.90" y="96.02" width="4.30" height="1.40" fill="#e7ff00"/>
<rect x="701.90" y="97.37" width="4.30" height="1.40" fill="#dbff00"/>
<rect x="701.90" y="98.71" width="4.30" height="1.40" fill="#cfff00"/>
<rect x="701.90" y="100.06" width="4.30" height="1.40" fill="#c3ff00"/>
<rect x="701.90" y="101.40" width="4.30" height="1.40" fill="#b7ff00"/>
<rect x="701.90" y="102.75" width="4.30" height="1.40" fill="#acff00"/>
<rect x="701.90" y="104.10" width="4.30" height="1.40" fill="#a0ff00"/>
<rect x="701.90" y="105.44" width="4.30" height="1.40" fill="#94ff00"/>
<rect x="701.90" y="106.79" width="4.30" height="1.40" fill="#88ff00"/>
<rect x="701.90" y="108.13" width="4.30" height="1.40" fill="#7cff00"/>
<rect x="701.90" y="109.48" width="4.30" height="1.40" fill="#6fff00"/>
<rect x="701.90" y="110.83" width="4.30" height="1.40" fill="#63ff00"/>
<rect x="701.90" y="112.17" width="4.30" height="1.40" fill="#56ff00"/>
<rect x="701.90" y="113.52" width="4.30" height="1.40" fill="#4aff00"/>
<rect x="701.90" y="114.86" width="4.30" height="1.40" fill="#3dff00"/>
<rect x="701.90" y="116.21" width="4.30" height="1.40" fill="#31ff00"/>
<rect x="701.90" y="117.55" width="4.30" height="1.40" fill="#24ff00"/>
<rect x="701.90" y="118.90" width="4.30" height="1.40" fill="#18ff00"/>
<rect x="701.90" y="120.25" width="4.30" height="1.40" fill="#0bff00"/>
<rect x="701.90" y="121.59" width="4.30" height="1.40" fill="#00ff01"/>
<rect x="701.90" y="122.94" width="4.30" height="1.40" fill="#00ff06"/>
<rect x="701.90" y="124.28" width="4.30" height="1.40" fill="#00ff0c"/>
<rect x="701.90" y="125.63" width="4.30" height="1.40" fill="#00ff11"/>
<rect x="701.90" y="126.98" width="4.30" height="1.40" fill="#00ff17"/>
<rect x="701.90" y="128.32" width="4.30" height="1.40" fill="#00ff1c"/>
<rect x="701.90" y="129.67" width="4.30" height="1.40" fill="#00ff22"/>
<rect x="701.90" y="131.01" width="4.30" height="1.40" fill="#00ff27"/>
<rect x="701.90" y="132.36" width="4.30" height="1.40" fill="#00ff2d"/>
<rect x="701.90" y="133.70" width="4.30" height="1.40" fill="#00ff33"/>
<rect x="701.90" y="135.05" width="4.30" height="1.40" fill="#00ff38"/>
<rect x="701.90" y="136.40" width="4.30" height="1.40" fill="#00ff41"/>
<rect x="701.90" y="137.74" width="4.30" height="1.40" fill="#00ff52"/>
<rect x="701.90" y="139.09" width="4.30" height="1.40" fill="#00ff62"/>
<rect x="701.90" y="140.43" width="4.30" height="1.40" fill="#00ff73"/>
<rect x="701.90" y="141.78" width="4.30" height="1.40" fill="#00ff84"/>
<rect x="701.90" y="143.12" width="4.30" height="1.40" fill="#00ff94"/>
<rect x="701.90" y="144.47" width="4.30" height="1.40" fill="#00ffa5"/>
<rect x="701.90" y="145.82" width="4.30" height="1.40" fill="#00feb5"/>
<rect x="701.90" y="147.16" width="4.30" height="1.40" fill="#00f8c2"/>
<rect x="701.90" y="148.51" width="4.30" height="1.40" fill="#00f1ce"/>
<rect x="701.90" y="149.85" width="4.30" height="1.40" fill="#00eadb"/>
<rect x="701.90" y="151.20" width="4.30" height="1.40" fill="#00e4e7"/>
<rect x="701.90" y="152.55" width="4.30" height="1.40" fill="#00ddf4"/>
<rect x="701.90" y="153.89" width="4.30" height="1.40" fill="#00d6ff"/>
<rect x="701.90" y="155.24" width="4.30" height="1.40" fill="#00c9ff"/>
<rect x="701.90" y="156.58" width="4.30" height="1.40" fill="#00bdff"/>
<rect x="701.90" y="157.93" width="4.30" height="1.40" fill="#00b0ff"/>
<rect x="701.90" y="159.28" width="4.30" height="1.40" fill="#00a4ff"/>
<rect x="701.90" y="160.62" width="4.30" height="1.40" fill="#0097ff"/>
<rect x="701.90" y="161.97" width="4.30" height="1.40" fill="#008bff"/>
<rect x="701.90" y="163.31" width="4.30" height="1.40" fill="#007bff"/>
<rect x="701.90" y="164.66" width="4.30" height="1.40" fill="#006cff"/>
<rect x="701.90" y="166.00" width="4.30" height="1.40" fill="#005eff"/>
<rect x="701.90" y="167.35" width="4.30" height="1.40" fill="#004eff"/>
<rect x="701.90" y="168.70" width="4.30" height="1.40" fill="#003fff"/>
<rect x="701.90" y="170.04" width="4.30" height="1.40" fill="#0131ff"/>
<rect x="701.90" y="171.39" width="4.30" height="1.40" fill="#062afd"/>
<rect x="701.90" y="172.73" width="4.30" height="1.40" fill="#0c23fb"/>
<rect x="701.90" y="174.08" width="4.30" height="1.40" fill="#111cf9"/>
<rect x="701.90" y="175.43" width="4.30" height="1.40" fill="#1716f6"/>
<rect x="701.90" y="176.77" width="4.30" height="1.40" fill="#1c0ff4"/>
<rect x="701.90" y="178.12" width="4.30" height="1.40" fill="#2208f2"/>
<rect x="701.90" y="179.46" width="4.30" height="1.40" fill="#2701f0"/>
<rect x="701.90" y="180.81" width="4.30" height="1.40" fill="#2f00eb"/>
<rect x="701.90" y="182.15" width="4.30" height="1.40" fill="#3800e5"/>
<rect x="701.90" y="183.50" width="4.30" height="1.40" fill="#4000df"/>
<rect x="701.90" y="184.85" width="4.30" height="1.40" fill="#4900d9"/>
<rect x="701.90" y="186.19" width="4.30" height="1.40" fill="#5100d3"/>
<rect x="701.90" y="187.54" width="4.30" height="1.40" fill="#5900ce"/>
<rect x="701.90" y="188.88" width="4.30" height="1.40" fill="#5c00c5"/>
<rect x="701.90" y="190.23" width="4.30" height="1.40" fill="#5f00bc"/>
<rect x="701.90" y="191.57" width="4.30" height="1.40" fill="#6100b2"/>
<rect x="701.90" y="192.92" width="4.30" height="1.40" fill="#6400a9"/>
<rect x="701.90" y="194.27" width="4.30" height="1.40" fill="#6600a0"/>
<rect x="701.90" y="195.61" width="4.30" height="1.40" fill="#690097"/>
<rect x="701.90" y="196.96" width="4.30" height="1.40" fill="#63008e"/>
<rect x="701.90" y="198.30" width="4.30" height="1.40" fill="#5d0084"/>
<rect x="701.90" y="199.65" width="4.30" height="1.40" fill="#57007b"/>
<rect x="701.90" y="201.00" width="4.30" height="1.40" fill="#510071"/>
<rect x="701.90" y="202.34" width="4.30" height="1.40" fill="#4a0068"/>
<rect x="701.90" y="203.69" width="4.30" height="1.40" fill="#400059"/>
<rect x="701.90" y="205.03" width="4.30" height="1.40" fill="#35004a"/>
<rect x="701.90" y="206.38" width="4.30" height="1.40" fill="#2b003c"/>
<rect x="701.90" y="207.73" width="4.30" height="1.40" fill="#20002d"/>
<rect x="701.90" y="209.07" width="4.30" height="1.40" fill="#170021"/>
<rect x="701.90" y="210.42" width="4.30" height="1.40" fill="#12001a"/>
<rect x="701.90" y="211.76" width="4.30" height="1.40" fill="#0d0012"/>
<rect x="701.90" y="213.11" width="4.30" height="1.40" fill="#08000b"/>
<rect x="701.90" y="214.45" width="4.30" height="1.40" fill="#030004"/>
<rect x="701.90" y="215.80" width="4.30" height="2.80" fill="#fff"/>
</g>
<rect x="701.90" y="54.30" width="4.30" height="164.30" fill="none" stroke="#222" stroke-width="0.8"/>
<g shape-rendering="crispEdges">
<rect x="701.90" y="262.90" width="4.30" height="0.71" fill="#d90100"/>
<rect x="701.90" y="263.56" width="4.30" height="0.71" fill="#dd0300"/>
<rect x="701.90" y="264.21" width="4.30" height="0.71" fill="#e00600"/>
<rect x="701.90" y="264.87" width="4.30" height="0.71" fill="#e40800"/>
<rect x="701.90" y="265.53" width="4.30" height="0.71" fill="#e80a00"/>
<rect x="701.90" y="266.19" width="4.30" height="0.71" fill="#eb0d00"/>
<rect x="701.90" y="266.84" width="4.30" height="0.71" fill="#ef0f00"/>
<rect x="701.90" y="267.50" width="4.30" height="0.71" fill="#f31100"/>
<rect x="701.90" y="268.16" width="4.30" height="0.71" fill="#f61400"/>
<rect x="701.90" y="268.82" width="4.30" height="0.71" fill="#fa1600"/>
<rect x="701.90" y="269.47" width="4.30" height="0.71" fill="#fe1800"/>
<rect x="701.90" y="270.13" width="4.30" height="0.71" fill="#ff2200"/>
<rect x="701.90" y="270.79" width="4.30" height="0.71" fill="#ff2f00"/>
<rect x="701.90" y="271.45" width="4.30" height="0.71" fill="#ff3d00"/>
<rect x="701.90" y="272.10" width="4.30" height="0.71" fill="#ff4a00"/>
<rect x="701.90" y="272.76" width="4.30" height="0.71" fill="#ff5700"/>
<rect x="701.90" y="273.42" width="4.30" height="0.71" fill="#ff6400"/>
<rect x="701.90" y="274.08" width="4.30" height="0.71" fill="#ff7100"/>
<rect x="701.90" y="274.73" width="4.30" height="0.71" fill="#ff7e00"/>
<rect x="701.90" y="275.39" width="4.30" height="0.71" fill="#ff8a00"/>
<rect x="701.90" y="276.05" width="4.30" height="0.71" fill="#ff9600"/>
<rect x="701.90" y="276.71" width="4.30" height="0.71" fill="#ffa100"/>
<rect x="701.90" y="277.37" width="4.30" height="0.71" fill="#ffad00"/>
<rect x="701.90" y="278.02" width="4.30" height="0.71" fill="#ffb900"/>
<rect x="701.90" y="278.68" width="4.30" height="0.71" fill="#ffc500"/>
<rect x="701.90" y="279.34" width="4.30" height="0.71" fill="#fed000"/>
<rect x="701.90" y="280.00" width="4.30" height="0.71" fill="#fbd800"/>
<rect x="701.90" y="280.65" width="4.30" height="0.71" fill="#f7e000"/>
<rect x="701.90" y="281.31" width="4.30" height="0.71" fill="#f4e900"/>
<rect x="701.90" y="281.97" width="4.30" height="0.71" fill="#f1f100"/>
<rect x="701.90" y="282.62" width="4.30" height="0.71" fill="#edf900"/>
<rect x="701.90" y="283.28" width="4.30" height="0.71" fill="#e7ff00"/>
<rect x="701.90" y="283.94" width="4.30" height="0.71" fill="#dbff00"/>
<rect x="701.90" y="284.60" width="4.30" height="0.71" fill="#cfff00"/>
<rect x="701.90" y="285.25" width="4.30" height="0.71" fill="#c3ff00"/>
<rect x="701.90" y="285.91" width="4.30" height="0.71" fill="#b7ff00"/>
<rect x="701.90" y="286.57" width="4.30" height="0.71" fill="#acff00"/>
<rect x="701.90" y="287.23" width="4.30" height="0.71" fill="#a0ff00"/>
<rect x="701.90" y="287.88" width="4.30" height="0.71" fill="#94ff00"/>
<rect x="701.90" y="288.54" width="4.30" height="0.71" fill="#88ff00"/>
<rect x="701.90" y="289.20" width="4.30" height="0.71" fill="#7cff00"/>
<rect x="701.90" y="289.86" width="4.30" height="0.71" fill="#6fff00"/>
<rect x="701.90" y="290.51" width="4.30" height="0.71" fill="#63ff00"/>
<rect x="701.90" y="291.17" width="4.30" height="0.71" fill="#56ff00"/>
<rect x="701.90" y="291.83" width="4.30" height="0.71" fill="#4aff00"/>
<rect x="701.90" y="292.49" width="4.30" height="0.71" fill="#3dff00"/>
<rect x="701.90" y="293.14" width="4.30" height="0.71" fill="#31ff00"/>
<rect x="701.90" y="293.80" width="4.30" height="0.71" fill="#24ff00"/>
<rect x="701.90" y="294.46" width="4.30" height="0.71" fill="#18ff00"/>
<rect x="701.90" y="295.12" width="4.30" height="0.71" fill="#0bff00"/>
<rect x="701.90" y="295.77" width="4.30" height="0.71" fill="#00ff01"/>
<rect x="701.90" y="296.43" width="4.30" height="0.71" fill="#00ff06"/>
<rect x="701.90" y="297.09" width="4.30" height="0.71" fill="#00ff0c"/>
<rect x="701.90" y="297.75" width="4.30" height="0.71" fill="#00ff11"/>
<rect x="701.90" y="298.40" width="4.30" height="0.71" fill="#00ff17"/>
<rect x="701.90" y="299.06" width="4.30" height="0.71" fill="#00ff1c"/>
<rect x="701.90" y="299.72" width="4.30" height="0.71" fill="#00ff22"/>
<rect x="701.90" y="300.38" width="4.30" height="0.71" fill="#00ff27"/>
<rect x="701.90" y="301.03" width="4.30" height="0.71" fill="#00ff2d"/>
<rect x="701.90" y="301.69" width="4.30" height="0.71" fill="#00ff33"/>
<rect x="701.90" y="302.35" width="4.30" height="0.71" fill="#00ff38"/>
<rect x="701.90" y="303.01" width="4.30" height="0.71" fill="#00ff41"/>
<rect x="701.90" y="303.67" width="4.30" height="0.71" fill="#00ff52"/>
<rect x="701.90" y="304.32" width="4.30" height="0.71" fill="#00ff62"/>
<rect x="701.90" y="304.98" width="4.30" height="0.71" fill="#00ff73"/>
<rect x="701.90" y="305.64" width="4.30" height="0.71" fill="#00ff84"/>
<rect x="701.90" y="306.30" width="4.30" height="0.71" fill="#00ff94"/>
<rect x="701.90" y="306.95" width="4.30" height="0.71" fill="#00ffa5"/>
<rect x="701.90" y="307.61" width="4.30" height="0.71" fill="#00feb5"/>
<rect x="701.90" y="308.27" width="4.30" height="0.71" fill="#00f8c2"/>
<rect x="701.90" y="308.93" width="4.30" height="0.71" fill="#00f1ce"/>
<rect x="701.90" y="309.58" width="4.30" height="0.71" fill="#00eadb"/>
<rect x="701.90" y="310.24" width="4.30" height="0.71" fill="#00e4e7"/>
<rect x="701.90" y="310.90" width="4.30" height="0.71" fill="#00ddf4"/>
<rect x="701.90" y="311.56" width="4.30" height="0.71" fill="#00d6ff"/>
<rect x="701.90" y="312.21" width="4.30" height="0.71" fill="#00c9ff"/>
<rect x="701.90" y="312.87" width="4.30" height="0.71" fill="#00bdff"/>
<rect x="701.90" y="313.53" width="4.30" height="0.71" fill="#00b0ff"/>
<rect x="701.90" y="314.19" width="4.30" height="0.71" fill="#00a4ff"/>
<rect x="701.90" y="314.84" width="4.30" height="0.71" fill="#0097ff"/>
<rect x="701.90" y="315.50" width="4.30" height="0.71" fill="#008bff"/>
<rect x="701.90" y="316.16" width="4.30" height="0.71" fill="#007bff"/>
<rect x="701.90" y="316.81" width="4.30" height="0.71" fill="#006cff"/>
<rect x="701.90" y="317.47" width="4.30" height="0.71" fill="#005eff"/>
<rect x="701.90" y="318.13" width="4.30" height="0.71" fill="#004eff"/>
<rect x="701.90" y="318.79" width="4.30" height="0.71" fill="#003fff"/>
<rect x="701.90" y="319.44" width="4.30" height="0.71" fill="#0131ff"/>
<rect x="701.90" y="320.10" width="4.30" height="0.71" fill="#062afd"/>
<rect x="701.90" y="320.76" width="4.30" height="0.71" fill="#0c23fb"/>
<rect x="701.90" y="321.42" width="4.30" height="0.71" fill="#111cf9"/>
<rect x="701.90" y="322.07" width="4.30" height="0.71" fill="#1716f6"/>
<rect x="701.90" y="322.73" width="4.30" height="0.71" fill="#1c0ff4"/>
<rect x="701.90" y="323.39" width="4.30" height="0.71" fill="#2208f2"/>
<rect x="701.90" y="324.05" width="4.30" height="0.71" fill="#2701f0"/>
<rect x="701.90" y="324.70" width="4.30" height="0.71" fill="#2f00eb"/>
<rect x="701.90" y="325.36" width="4.30" height="0.71" fill="#3800e5"/>
<rect x="701.90" y="326.02" width="4.30" height="0.71" fill="#4000df"/>
<rect x="701.90" y="326.68" width="4.30" height="0.71" fill="#4900d9"/>
<rect x="701.90" y="327.34" width="4.30" height="0.71" fill="#5100d3"/>
<rect x="701.90" y="327.99" width="4.30" height="0.71" fill="#5900ce"/>
<rect x="701.90" y="328.65" width="4.30" height="0.71" fill="#5c00c5"/>
<rect x="701.90" y="329.31" width="4.30" height="0.71" fill="#5f00bc"/>
<rect x="701.90" y="329.97" width="4.30" height="0.71" fill="#6100b2"/>
<rect x="701.90" y="330.62" width="4.30" height="0.71" fill="#6400a9"/>
<rect x="701.90" y="331.28" width="4.30" height="0.71" fill="#6600a0"/>
<rect x="701.90" y="331.94" width="4.30" height="0.71" fill="#690097"/>
<rect x="701.90" y="332.60" width="4.30" height="0.71" fill="#63008e"/>
<rect x="701.90" y="333.25" width="4.30" height="0.71" fill="#5d0084"/>
<rect x="701.90" y="333.91" width="4.30" height="0.71" fill="#57007b"/>
<rect x="701.90" y="334.57" width="4.30" height="0.71" fill="#510071"/>
<rect x="701.90" y="335.23" width="4.30" height="0.71" fill="#4a0068"/>
<rect x="701.90" y="335.88" width="4.30" height="0.71" fill="#400059"/>
<rect x="701.90" y="336.54" width="4.30" height="0.71" fill="#35004a"/>
<rect x="701.90" y="337.20" width="4.30" height="0.71" fill="#2b003c"/>
<rect x="701.90" y="337.86" width="4.30" height="0.71" fill="#20002d"/>
<rect x="701.90" y="338.51" width="4.30" height="0.71" fill="#170021"/>
<rect x="701.90" y="339.17" width="4.30" height="0.71" fill="#12001a"/>
<rect x="701.90" y="339.83" width="4.30" height="0.71" fill="#0d0012"/>
<rect x="701.90" y="340.49" width="4.30" height="0.71" fill="#08000b"/>
<rect x="701.90" y="341.14" width="4.30" height="0.71" fill="#030004"/>
<rect x="701.90" y="341.80" width="4.30" height="2.20" fill="#fff"/>
</g>
<rect x="701.90" y="262.90" width="4.30" height="81.10" fill="none" stroke="#222" stroke-width="0.8"/>
<line x1="706.20" y1="163.60" x2="709.60" y2="163.60" stroke="#222" stroke-width="0.7"/>
<line x1="706.20" y1="70.00" x2="708.00" y2="70.00" stroke="#222" stroke-width="0.6"/>
<line x1="706.20" y1="86.00" x2="708.00" y2="86.00" stroke="#222" stroke-width="0.6"/>
<line x1="706.20" y1="102.00" x2="708.00" y2="102.00" stroke="#222" stroke-width="0.6"/>
<line x1="706.20" y1="118.00" x2="708.00" y2="118.00" stroke="#222" stroke-width="0.6"/>
<line x1="706.20" y1="134.00" x2="708.00" y2="134.00" stroke="#222" stroke-width="0.6"/>
<line x1="706.20" y1="150.00" x2="708.00" y2="150.00" stroke="#222" stroke-width="0.6"/>
<line x1="706.20" y1="178.00" x2="708.00" y2="178.00" stroke="#222" stroke-width="0.6"/>
<line x1="706.20" y1="190.00" x2="708.00" y2="190.00" stroke="#222" stroke-width="0.6"/>
<line x1="706.20" y1="202.00" x2="708.00" y2="202.00" stroke="#222" stroke-width="0.6"/>
<line x1="706.20" y1="283.00" x2="709.60" y2="283.00" stroke="#222" stroke-width="0.7"/>
<line x1="706.20" y1="323.80" x2="709.60" y2="323.80" stroke="#222" stroke-width="0.7"/>
<line x1="706.20" y1="269.70" x2="708.00" y2="269.70" stroke="#222" stroke-width="0.6"/>
<line x1="706.20" y1="275.50" x2="708.00" y2="275.50" stroke="#222" stroke-width="0.6"/>
<line x1="706.20" y1="290.00" x2="708.00" y2="290.00" stroke="#222" stroke-width="0.6"/>
<line x1="706.20" y1="296.00" x2="708.00" y2="296.00" stroke="#222" stroke-width="0.6"/>
<line x1="706.20" y1="302.00" x2="708.00" y2="302.00" stroke="#222" stroke-width="0.6"/>
<line x1="706.20" y1="308.00" x2="708.00" y2="308.00" stroke="#222" stroke-width="0.6"/>
<line x1="706.20" y1="314.00" x2="708.00" y2="314.00" stroke="#222" stroke-width="0.6"/>
<line x1="706.20" y1="330.00" x2="708.00" y2="330.00" stroke="#222" stroke-width="0.6"/>
<line x1="706.20" y1="336.00" x2="708.00" y2="336.00" stroke="#222" stroke-width="0.6"/>
<text x="711.60" y="167.50" font-family='"Liberation Sans", sans-serif' font-size="11" text-anchor="start" letter-spacing="0.4" fill="#222">10000</text>
<text x="711.80" y="287.00" font-family='"Liberation Sans", sans-serif' font-size="11" text-anchor="start" letter-spacing="0.4" fill="#222">10</text>
<text x="723.20" y="281.60" font-family='"Liberation Sans", sans-serif' font-size="8" text-anchor="start" letter-spacing="0.4" fill="#222">5</text>
<text x="711.80" y="327.80" font-family='"Liberation Sans", sans-serif' font-size="11" text-anchor="start" letter-spacing="0.4" fill="#222">10</text>
<text x="723.20" y="322.40" font-family='"Liberation Sans", sans-serif' font-size="8" text-anchor="start" letter-spacing="0.4" fill="#222">4</text>
<text x="755.30" y="139.30" font-family='"Liberation Sans", sans-serif' font-size="11" text-anchor="middle" letter-spacing="0.4" fill="#222" transform="rotate(-90 755.30 139.30)">p+ flux</text>
<text x="741.00" y="303.50" font-family='"Liberation Sans", sans-serif' font-size="11" text-anchor="middle" letter-spacing="0.9" fill="#222" transform="rotate(-90 741.00 303.50)" word-spacing="2">e− flux</text>
</svg>
</body></html>
